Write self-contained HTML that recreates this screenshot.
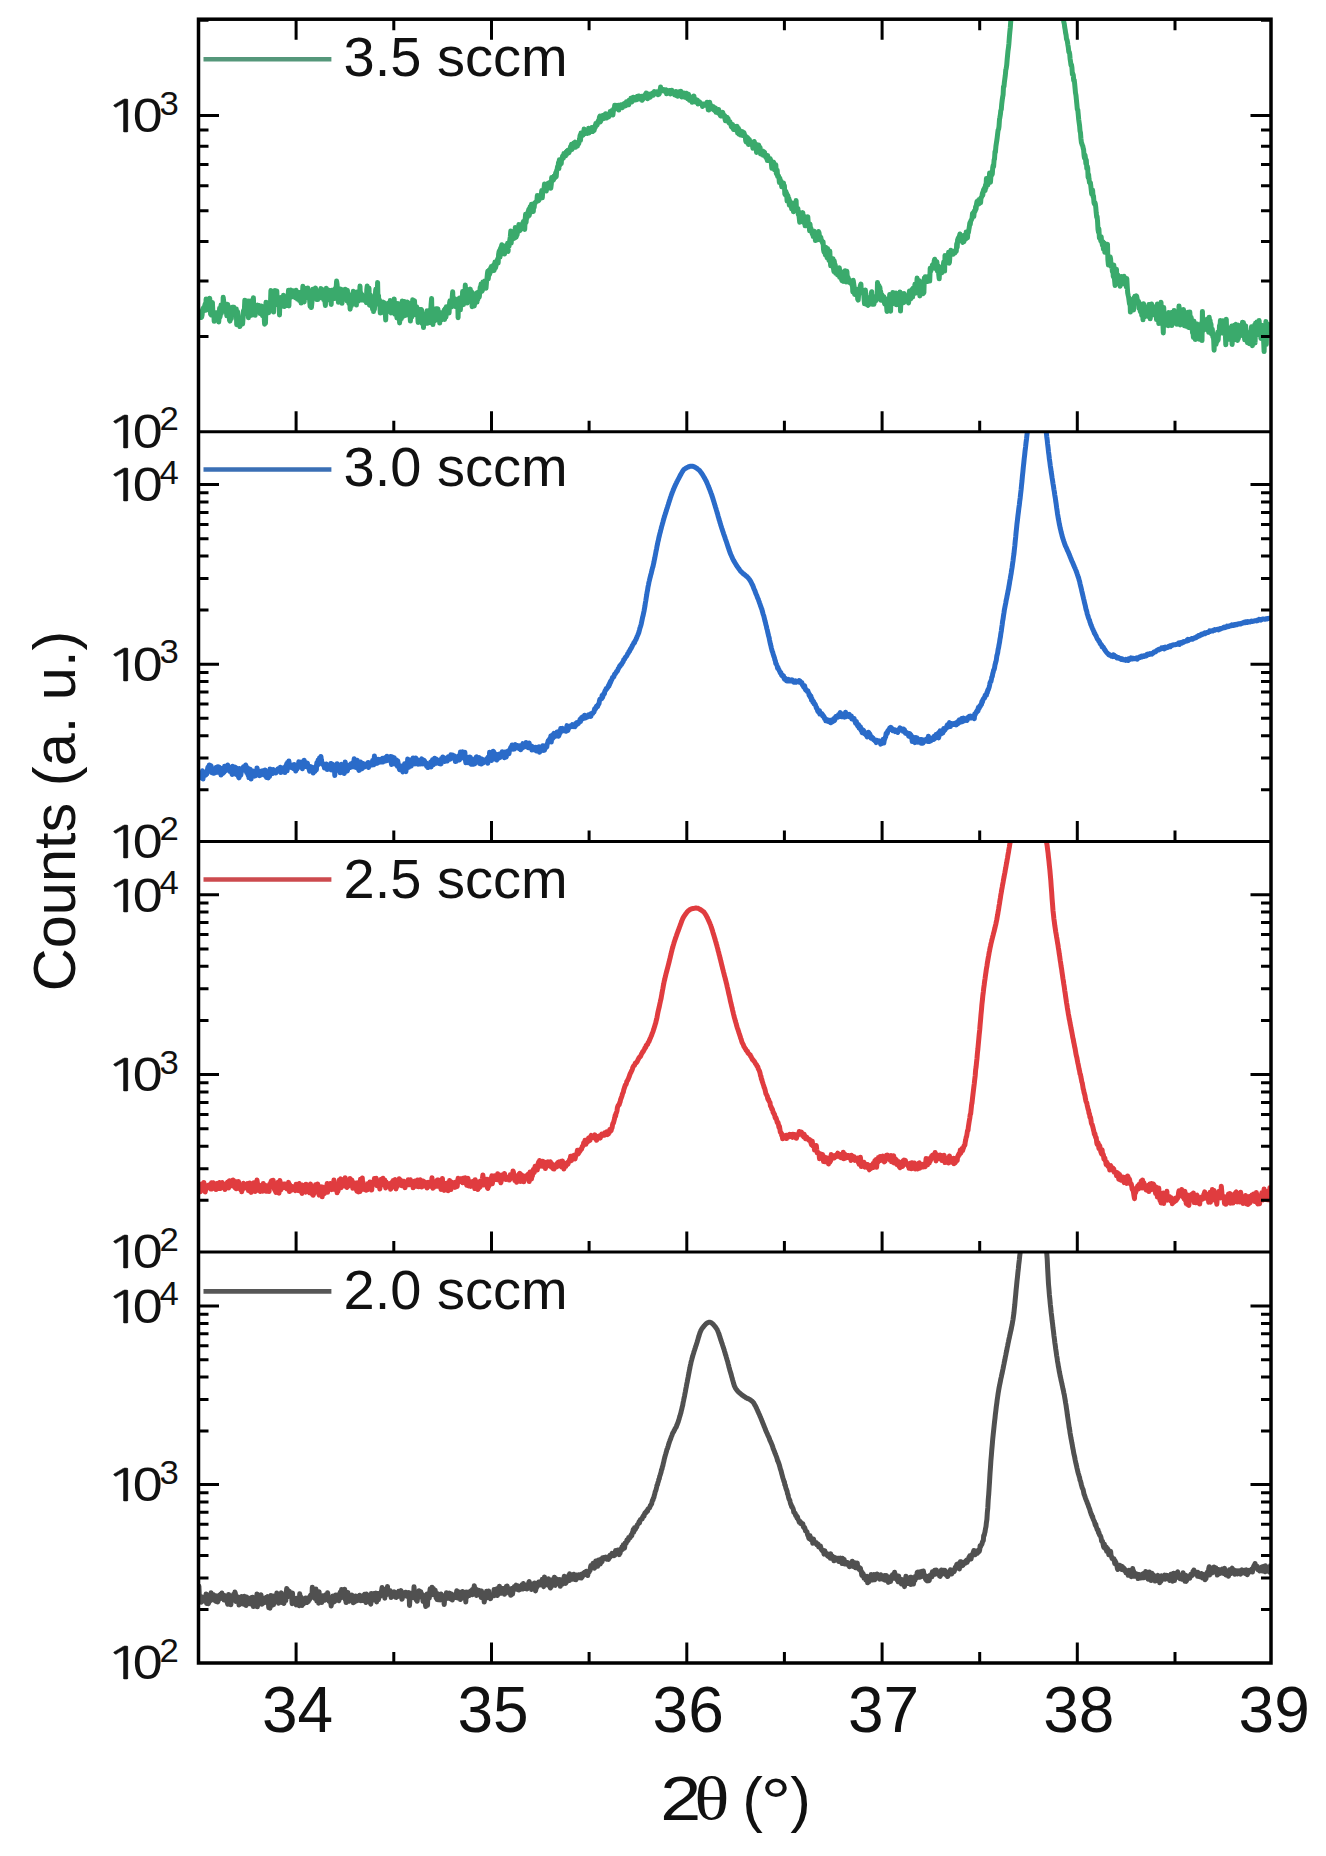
<!DOCTYPE html><html><head><meta charset="utf-8"><title>XRD</title>
<style>html,body{margin:0;padding:0;background:#fff;}svg{display:block;}text{font-family:"Liberation Sans",Arial,sans-serif;fill:#111;}</style></head><body>
<svg width="1326" height="1856" viewBox="0 0 1326 1856">
<rect width="1326" height="1856" fill="#fff"/>
<defs>
<clipPath id="c0"><rect x="198.5" y="19.2" width="1072.5" height="412.6"/></clipPath>
<clipPath id="c1"><rect x="198.5" y="431.8" width="1072.5" height="409.7"/></clipPath>
<clipPath id="c2"><rect x="198.5" y="841.5" width="1072.5" height="410.5"/></clipPath>
<clipPath id="c3"><rect x="198.5" y="1252.0" width="1072.5" height="411.0"/></clipPath>
</defs>
<path clip-path="url(#c0)" d="M198.5,313.3 198.9,314.7 199.4,313.4 199.8,317.4 200.3,313.7 200.7,314.6 201.2,317.5 201.6,317.1 202.1,315.0 202.5,310.3 203.0,308.6 203.4,308.0 203.9,309.8 204.3,310.6 204.8,305.4 205.2,303.9 205.7,310.3 206.1,299.1 206.6,306.8 207.0,309.3 207.5,301.9 207.9,301.0 208.4,302.6 208.8,309.7 209.3,306.2 209.7,298.2 210.2,306.1 210.6,314.1 211.1,314.8 211.5,313.7 212.0,310.0 212.4,302.4 212.9,312.8 213.3,311.5 213.8,313.3 214.2,321.3 214.7,315.2 215.1,316.3 215.6,318.4 216.0,314.5 216.5,312.8 216.9,312.6 217.4,320.3 217.8,319.0 218.3,314.0 218.7,321.9 219.2,316.6 219.6,308.2 220.1,316.9 220.5,312.1 221.0,305.1 221.4,313.3 221.9,308.2 222.3,307.3 222.8,311.6 223.2,297.3 223.7,301.6 224.1,305.7 224.6,309.2 225.0,305.1 225.5,304.1 225.9,304.8 226.4,310.6 226.8,315.8 227.3,306.4 227.7,304.4 228.2,314.3 228.6,314.5 229.1,312.3 229.5,320.1 230.0,321.1 230.4,314.0 230.9,314.8 231.3,318.8 231.8,313.0 232.2,307.2 232.7,312.7 233.1,307.2 233.6,312.2 234.0,307.2 234.5,308.5 234.9,312.4 235.4,310.2 235.8,309.1 236.3,309.1 236.7,324.7 237.2,323.3 237.6,311.7 238.1,315.1 238.5,324.2 239.0,319.0 239.4,322.4 239.9,326.6 240.3,322.9 240.8,320.9 241.2,318.1 241.7,318.6 242.1,319.2 242.6,324.1 243.0,318.8 243.5,310.7 243.9,314.8 244.4,309.4 244.8,300.2 245.3,306.2 245.7,311.1 246.2,302.8 246.6,310.4 247.1,304.4 247.5,306.4 248.0,300.9 248.4,317.8 248.9,310.2 249.3,313.3 249.8,306.1 250.2,300.9 250.7,314.0 251.1,303.9 251.6,315.2 252.0,305.6 252.5,314.4 252.9,302.6 253.4,297.8 253.8,310.7 254.3,307.7 254.7,309.0 255.2,315.3 255.6,306.9 256.1,306.0 256.5,307.5 257.0,305.6 257.4,305.2 257.9,307.6 258.3,308.5 258.8,310.2 259.2,305.5 259.7,309.8 260.1,313.5 260.6,308.5 261.0,311.9 261.5,306.1 261.9,313.2 262.4,315.6 262.8,311.7 263.3,308.7 263.7,316.2 264.2,317.5 264.6,324.2 265.1,314.6 265.5,323.2 266.0,302.2 266.4,310.5 266.9,307.9 267.3,306.8 267.8,304.6 268.2,305.7 268.7,312.7 269.1,303.3 269.6,308.9 270.0,302.2 270.5,302.7 270.9,290.6 271.4,302.0 271.8,304.4 272.3,296.3 272.7,298.9 273.2,298.0 273.6,312.1 274.1,297.9 274.5,299.5 275.0,290.5 275.4,296.1 275.9,304.6 276.3,297.8 276.8,290.9 277.2,302.2 277.7,303.6 278.1,304.0 278.6,304.0 279.0,299.3 279.5,315.0 279.9,299.7 280.4,304.8 280.8,297.6 281.3,301.3 281.7,297.8 282.2,306.2 282.6,303.5 283.1,300.4 283.5,295.2 284.0,306.1 284.4,306.4 284.9,305.5 285.3,300.4 285.8,303.2 286.2,303.7 286.7,301.5 287.1,305.4 287.6,297.7 288.0,298.8 288.5,290.2 288.9,305.9 289.4,292.0 289.8,296.2 290.3,297.0 290.7,290.1 291.2,293.5 291.6,297.0 292.1,293.6 292.5,292.8 293.0,292.8 293.4,290.9 293.9,293.1 294.3,295.2 294.8,295.1 295.2,297.7 295.7,292.8 296.1,290.3 296.6,296.8 297.0,295.3 297.5,299.1 297.9,296.4 298.4,298.7 298.8,298.6 299.3,300.4 299.7,292.5 300.2,295.9 300.6,296.7 301.1,303.1 301.5,294.7 302.0,297.0 302.4,294.3 302.9,286.2 303.3,301.5 303.8,299.3 304.2,302.0 304.7,290.3 305.1,297.4 305.6,296.6 306.0,288.4 306.5,297.2 306.9,292.3 307.4,297.4 307.8,288.1 308.3,292.3 308.7,293.9 309.2,291.3 309.6,299.5 310.1,306.2 310.5,300.9 311.0,304.1 311.4,307.6 311.9,302.7 312.3,297.5 312.8,289.3 313.2,298.2 313.7,294.1 314.1,292.8 314.6,297.8 315.0,297.0 315.5,287.9 315.9,296.4 316.4,294.2 316.8,299.6 317.3,295.7 317.7,299.6 318.2,291.9 318.6,292.3 319.1,290.9 319.5,291.9 320.0,291.3 320.4,297.7 320.9,288.4 321.3,294.0 321.8,289.4 322.2,289.4 322.7,294.4 323.1,291.4 323.6,299.6 324.0,296.0 324.5,297.0 324.9,301.1 325.4,305.5 325.8,295.5 326.3,288.3 326.7,294.4 327.2,295.4 327.6,299.9 328.1,294.2 328.5,290.1 329.0,297.9 329.4,298.5 329.9,292.7 330.3,294.6 330.8,294.8 331.2,304.5 331.7,290.2 332.1,290.8 332.6,291.8 333.0,295.0 333.5,290.0 333.9,293.1 334.4,294.2 334.8,298.4 335.3,288.6 335.7,287.7 336.2,287.6 336.6,281.1 337.1,284.4 337.5,290.7 338.0,291.2 338.4,302.3 338.9,296.6 339.3,294.7 339.8,298.0 340.2,288.9 340.7,289.6 341.1,289.3 341.6,292.5 342.0,303.3 342.5,293.2 342.9,292.0 343.4,295.3 343.8,298.9 344.3,297.3 344.7,298.7 345.2,289.2 345.6,290.4 346.1,293.1 346.5,294.7 347.0,300.9 347.4,290.2 347.9,300.1 348.3,297.9 348.8,303.3 349.2,299.2 349.7,297.1 350.1,309.2 350.6,305.2 351.0,294.8 351.5,305.6 351.9,296.7 352.4,299.3 352.8,298.4 353.3,291.2 353.7,301.2 354.2,293.3 354.6,302.6 355.1,297.5 355.5,297.8 356.0,297.1 356.4,305.1 356.9,292.1 357.3,293.3 357.8,293.6 358.2,301.2 358.7,300.0 359.1,294.8 359.6,295.0 360.0,286.0 360.5,300.1 360.9,293.0 361.4,295.4 361.8,294.6 362.3,300.1 362.7,297.2 363.2,299.5 363.6,299.8 364.1,297.3 364.5,296.6 365.0,300.6 365.4,299.7 365.9,300.3 366.3,302.6 366.8,289.5 367.2,286.1 367.7,292.3 368.1,300.1 368.6,294.9 369.0,288.1 369.5,305.3 369.9,302.2 370.4,295.1 370.8,300.0 371.3,305.7 371.7,303.8 372.2,306.2 372.6,309.1 373.1,306.2 373.5,311.6 374.0,303.1 374.4,309.5 374.9,298.6 375.3,294.6 375.8,289.3 376.2,294.3 376.7,298.4 377.1,302.4 377.6,282.4 378.0,298.8 378.5,295.4 378.9,304.3 379.4,299.8 379.8,304.8 380.3,313.1 380.7,306.3 381.2,306.0 381.6,312.3 382.1,309.8 382.5,308.1 383.0,301.9 383.4,308.3 383.9,302.5 384.3,311.7 384.8,313.7 385.2,311.5 385.7,320.0 386.1,305.6 386.6,312.6 387.0,310.2 387.5,303.4 387.9,310.4 388.4,310.8 388.8,311.1 389.3,303.9 389.7,307.1 390.2,300.6 390.6,311.0 391.1,312.9 391.5,305.6 392.0,306.6 392.4,300.8 392.9,306.3 393.3,304.4 393.8,307.1 394.2,298.9 394.7,314.2 395.1,306.6 395.6,311.3 396.0,309.1 396.5,306.2 396.9,318.0 397.4,315.2 397.8,303.5 398.3,311.3 398.7,310.8 399.2,308.3 399.6,322.9 400.1,306.3 400.5,319.6 401.0,303.7 401.4,318.7 401.9,309.4 402.3,300.9 402.8,313.1 403.2,313.9 403.7,306.7 404.1,315.9 404.6,301.4 405.0,314.3 405.5,310.4 405.9,315.2 406.4,303.5 406.8,309.2 407.3,301.9 407.7,309.4 408.2,307.6 408.6,311.8 409.1,303.1 409.5,313.6 410.0,314.4 410.4,321.1 410.9,312.5 411.3,313.4 411.8,317.1 412.2,315.8 412.7,299.7 413.1,310.0 413.6,314.9 414.0,308.4 414.5,300.7 414.9,308.3 415.4,310.3 415.8,306.2 416.3,312.0 416.7,306.7 417.2,311.7 417.6,313.5 418.1,322.4 418.5,315.6 419.0,320.6 419.4,315.7 419.9,309.5 420.3,310.0 420.8,320.6 421.2,309.4 421.7,310.2 422.1,323.4 422.6,315.2 423.0,313.6 423.5,327.6 423.9,314.4 424.4,321.2 424.8,317.2 425.3,317.3 425.7,316.3 426.2,320.8 426.6,323.1 427.1,310.8 427.5,323.3 428.0,314.4 428.4,314.6 428.9,318.8 429.3,312.4 429.8,310.2 430.2,322.6 430.7,311.9 431.1,304.2 431.6,298.5 432.0,317.2 432.5,315.0 432.9,324.6 433.4,309.6 433.8,309.0 434.3,314.8 434.7,320.7 435.2,320.3 435.6,312.7 436.1,308.7 436.5,312.2 437.0,319.0 437.4,310.7 437.9,308.9 438.3,313.6 438.8,312.6 439.2,312.6 439.7,323.1 440.1,316.7 440.6,314.6 441.0,312.9 441.5,313.8 441.9,318.1 442.4,319.4 442.8,312.7 443.3,313.0 443.7,313.9 444.2,310.0 444.6,319.4 445.1,308.8 445.5,313.3 446.0,316.9 446.4,306.7 446.9,306.9 447.3,310.0 447.8,312.5 448.2,310.1 448.7,308.4 449.1,313.0 449.6,302.7 450.0,300.8 450.5,306.0 450.9,302.6 451.4,306.0 451.8,306.6 452.3,296.2 452.7,291.8 453.2,304.9 453.6,302.4 454.1,304.1 454.5,298.4 455.0,306.4 455.4,301.3 455.9,305.0 456.3,306.9 456.8,303.5 457.2,303.2 457.7,301.1 458.1,317.7 458.6,298.9 459.0,308.7 459.5,297.9 459.9,300.3 460.4,309.8 460.8,298.6 461.3,305.7 461.7,297.9 462.2,302.9 462.6,291.6 463.1,292.6 463.5,304.4 464.0,299.2 464.4,293.0 464.9,295.6 465.3,285.1 465.8,296.2 466.2,291.3 466.7,292.4 467.1,303.1 467.6,293.1 468.0,292.2 468.5,289.7 468.9,297.7 469.4,297.4 469.8,291.8 470.3,289.1 470.7,296.9 471.2,299.8 471.6,291.7 472.1,306.7 472.5,298.4 473.0,303.3 473.4,299.4 473.9,299.1 474.3,306.0 474.8,301.6 475.2,293.8 475.7,301.2 476.1,302.5 476.6,297.5 477.0,302.1 477.5,292.5 477.9,299.4 478.4,295.0 478.8,293.3 479.3,297.0 479.7,292.8 480.2,287.3 480.6,289.8 481.1,284.0 481.5,288.3 482.0,291.2 482.4,290.4 482.9,282.0 483.3,283.7 483.8,287.1 484.2,286.6 484.7,280.9 485.1,284.4 485.6,284.5 486.0,288.3 486.5,282.0 486.9,279.4 487.4,273.9 487.8,271.2 488.3,278.7 488.7,273.7 489.2,270.1 489.6,274.4 490.1,271.4 490.5,268.3 491.0,271.1 491.4,266.5 491.9,270.9 492.3,269.7 492.8,266.5 493.2,266.5 493.7,264.8 494.1,270.5 494.6,266.0 495.0,261.9 495.5,267.8 495.9,266.2 496.4,263.7 496.8,263.6 497.3,260.6 497.7,258.8 498.2,262.9 498.6,254.4 499.1,251.5 499.5,250.7 500.0,257.1 500.4,248.6 500.9,249.9 501.3,247.0 501.8,244.8 502.2,247.1 502.7,246.7 503.1,253.8 503.6,245.7 504.0,247.9 504.5,254.1 504.9,252.0 505.4,249.2 505.8,250.1 506.3,246.7 506.7,249.4 507.2,247.2 507.6,243.2 508.1,251.4 508.5,245.2 509.0,246.6 509.4,242.4 509.9,239.4 510.3,236.8 510.8,231.0 511.2,243.0 511.7,234.6 512.1,237.9 512.6,239.0 513.0,233.7 513.5,236.3 513.9,238.6 514.4,236.1 514.8,238.1 515.3,227.4 515.7,236.9 516.2,237.0 516.6,229.3 517.1,235.0 517.5,230.4 518.0,229.9 518.4,231.5 518.9,224.5 519.3,230.9 519.8,225.9 520.2,230.2 520.7,227.5 521.1,228.5 521.6,225.1 522.0,227.2 522.5,223.5 522.9,224.3 523.4,221.5 523.8,224.5 524.3,220.8 524.7,229.4 525.2,219.0 525.6,214.2 526.1,222.3 526.5,216.9 527.0,218.0 527.4,215.6 527.9,212.1 528.3,211.6 528.8,209.4 529.2,215.5 529.7,212.7 530.1,206.8 530.6,212.4 531.0,210.8 531.5,204.2 531.9,205.8 532.4,208.4 532.8,207.5 533.3,211.6 533.7,205.6 534.2,207.4 534.6,202.9 535.1,203.1 535.5,202.5 536.0,201.6 536.4,201.5 536.9,200.6 537.3,195.6 537.8,201.1 538.2,196.0 538.7,200.5 539.1,199.5 539.6,199.0 540.0,195.2 540.5,196.7 540.9,197.0 541.4,193.3 541.8,190.4 542.3,197.7 542.7,192.4 543.2,191.3 543.6,189.5 544.1,188.2 544.5,183.9 545.0,186.7 545.4,185.6 545.9,185.1 546.3,190.9 546.8,185.4 547.2,184.4 547.7,185.3 548.1,183.2 548.6,187.9 549.0,187.6 549.5,182.6 549.9,186.1 550.4,184.8 550.8,188.3 551.3,184.3 551.7,177.5 552.2,178.9 552.6,180.7 553.1,179.4 553.5,180.0 554.0,176.1 554.4,176.1 554.9,177.8 555.3,174.9 555.8,172.6 556.2,176.7 556.7,170.3 557.1,169.7 557.6,166.5 558.0,167.8 558.5,162.6 558.9,168.5 559.4,159.7 559.8,165.2 560.3,160.7 560.7,162.3 561.2,163.7 561.6,159.6 562.1,159.5 562.5,156.2 563.0,155.9 563.4,158.1 563.9,153.4 564.3,156.1 564.8,154.4 565.2,153.1 565.7,155.8 566.1,152.1 566.6,154.5 567.0,151.1 567.5,152.8 567.9,150.2 568.4,152.2 568.8,152.7 569.3,151.8 569.7,149.7 570.2,148.5 570.6,146.4 571.1,145.9 571.5,144.3 572.0,149.6 572.4,145.2 572.9,144.8 573.3,145.0 573.8,143.0 574.2,147.3 574.7,143.3 575.1,142.2 575.6,147.3 576.0,146.1 576.5,145.1 576.9,142.8 577.4,146.1 577.8,143.0 578.3,143.0 578.7,143.9 579.2,141.3 579.6,139.2 580.1,135.2 580.5,140.2 581.0,133.1 581.4,134.9 581.9,134.0 582.3,134.0 582.8,133.8 583.2,135.1 583.7,133.5 584.1,129.0 584.6,133.8 585.0,131.6 585.5,132.8 585.9,131.0 586.4,132.7 586.8,132.0 587.3,133.4 587.7,132.3 588.2,132.8 588.6,128.3 589.1,133.0 589.5,129.6 590.0,131.2 590.4,131.5 590.9,131.5 591.3,129.8 591.8,127.5 592.2,130.9 592.7,131.4 593.1,130.8 593.6,130.3 594.0,130.6 594.5,128.9 594.9,126.1 595.4,127.3 595.8,123.6 596.3,124.6 596.7,124.1 597.2,125.0 597.6,122.0 598.1,121.5 598.5,120.4 599.0,121.5 599.4,117.4 599.9,116.1 600.3,122.0 600.8,121.0 601.2,119.8 601.7,119.0 602.1,117.2 602.6,115.5 603.0,118.3 603.5,115.5 603.9,118.5 604.4,117.2 604.8,114.4 605.3,117.0 605.7,113.8 606.2,115.4 606.6,118.0 607.1,115.3 607.5,115.8 608.0,115.0 608.4,114.9 608.9,116.8 609.3,115.6 609.8,115.2 610.2,111.6 610.7,113.1 611.1,111.9 611.6,112.8 612.0,110.6 612.5,113.0 612.9,115.0 613.4,110.4 613.8,108.6 614.3,109.8 614.7,105.3 615.2,106.2 615.6,107.6 616.1,105.4 616.5,105.7 617.0,107.9 617.4,106.4 617.9,107.2 618.3,105.2 618.8,110.1 619.2,106.6 619.7,107.9 620.1,107.3 620.6,106.9 621.0,104.9 621.5,106.0 621.9,106.2 622.4,107.6 622.8,105.4 623.3,104.1 623.7,104.6 624.2,104.3 624.6,103.7 625.1,104.0 625.5,105.9 626.0,103.6 626.4,101.8 626.9,102.9 627.3,103.3 627.8,102.6 628.2,103.8 628.7,104.7 629.1,100.2 629.6,100.9 630.0,101.3 630.5,102.2 630.9,98.2 631.4,101.6 631.8,101.9 632.3,101.1 632.7,99.5 633.2,97.2 633.6,98.2 634.1,98.0 634.5,99.0 635.0,100.0 635.4,99.4 635.9,97.2 636.3,99.5 636.8,99.6 637.2,96.4 637.7,96.2 638.1,96.8 638.6,97.8 639.0,96.0 639.5,99.1 639.9,97.8 640.4,98.8 640.8,96.9 641.3,96.5 641.7,98.2 642.2,100.3 642.6,98.4 643.1,98.9 643.5,96.2 644.0,95.7 644.4,96.2 644.9,96.8 645.3,95.7 645.8,93.7 646.2,93.0 646.7,95.4 647.1,94.8 647.6,98.8 648.0,94.4 648.5,94.1 648.9,96.6 649.4,95.3 649.8,95.8 650.3,97.1 650.7,94.1 651.2,94.6 651.6,93.9 652.1,93.5 652.5,93.1 653.0,93.2 653.4,95.2 653.9,92.9 654.3,91.6 654.8,92.7 655.2,91.9 655.7,93.0 656.1,92.8 656.6,91.9 657.0,92.5 657.5,93.7 657.9,94.6 658.4,92.6 658.8,94.3 659.3,93.7 659.7,90.2 660.2,91.0 660.6,87.1 661.1,89.7 661.5,90.6 662.0,89.6 662.4,90.7 662.9,90.0 663.3,90.8 663.8,89.6 664.2,90.8 664.7,90.4 665.1,90.7 665.6,91.8 666.0,89.8 666.5,93.7 666.9,91.7 667.4,92.5 667.8,92.1 668.3,92.0 668.7,90.8 669.2,91.9 669.6,90.4 670.1,90.4 670.5,94.0 671.0,91.8 671.4,91.3 671.9,90.3 672.3,91.8 672.8,92.0 673.2,93.1 673.7,92.4 674.1,93.1 674.6,94.8 675.0,94.1 675.5,95.1 675.9,91.6 676.4,93.6 676.8,95.7 677.3,94.4 677.7,96.3 678.2,93.9 678.6,95.9 679.1,91.7 679.5,93.2 680.0,94.4 680.4,92.6 680.9,91.4 681.3,95.5 681.8,97.0 682.2,95.2 682.7,93.3 683.1,95.4 683.6,93.9 684.0,93.1 684.5,97.0 684.9,97.2 685.4,96.7 685.8,94.9 686.3,93.2 686.7,97.7 687.2,96.9 687.6,98.6 688.1,95.1 688.5,94.2 689.0,99.1 689.4,100.3 689.9,99.9 690.3,99.6 690.8,99.1 691.2,100.0 691.7,98.2 692.1,102.2 692.6,101.5 693.0,96.6 693.5,101.0 693.9,95.9 694.4,99.9 694.8,99.1 695.3,102.0 695.7,100.3 696.2,100.1 696.6,102.6 697.1,100.0 697.5,100.3 698.0,103.9 698.4,102.8 698.9,102.6 699.3,101.8 699.8,102.7 700.2,102.6 700.7,103.9 701.1,104.0 701.6,103.8 702.0,104.1 702.5,106.5 702.9,105.3 703.4,104.9 703.8,104.1 704.3,104.6 704.7,104.1 705.2,104.6 705.6,105.2 706.1,104.0 706.5,104.3 707.0,102.2 707.4,104.5 707.9,106.7 708.3,109.9 708.8,110.0 709.2,106.5 709.7,102.3 710.1,107.1 710.6,107.2 711.0,108.8 711.5,105.6 711.9,106.6 712.4,107.0 712.8,108.0 713.3,106.6 713.7,109.7 714.2,108.6 714.6,110.5 715.1,110.8 715.5,108.0 716.0,112.3 716.4,110.5 716.9,111.2 717.3,111.6 717.8,111.2 718.2,113.1 718.7,109.5 719.1,112.7 719.6,114.0 720.0,114.5 720.5,115.7 720.9,115.9 721.4,115.9 721.8,114.2 722.3,113.5 722.7,112.4 723.2,114.6 723.6,116.1 724.1,115.9 724.5,115.4 725.0,118.8 725.4,120.8 725.9,117.7 726.3,120.6 726.8,119.6 727.2,117.4 727.7,119.5 728.1,118.7 728.6,122.2 729.0,122.8 729.5,122.3 729.9,121.7 730.4,123.7 730.8,124.3 731.3,126.5 731.7,127.1 732.2,127.2 732.6,124.5 733.1,128.3 733.5,129.4 734.0,127.4 734.4,126.7 734.9,129.7 735.3,126.6 735.8,127.9 736.2,128.5 736.7,127.6 737.1,126.4 737.6,133.0 738.0,129.8 738.5,128.4 738.9,134.2 739.4,131.8 739.8,134.3 740.3,134.9 740.7,130.9 741.2,134.0 741.6,134.3 742.1,131.6 742.5,131.7 743.0,135.6 743.4,134.4 743.9,132.7 744.3,133.8 744.8,135.9 745.2,135.4 745.7,140.8 746.1,142.0 746.6,140.2 747.0,138.3 747.5,137.5 747.9,138.8 748.4,144.4 748.8,143.1 749.3,139.5 749.7,140.9 750.2,144.1 750.6,142.0 751.1,142.4 751.5,144.4 752.0,145.3 752.4,144.0 752.9,148.2 753.3,144.5 753.8,144.0 754.2,141.4 754.7,143.2 755.1,145.5 755.6,145.8 756.0,144.1 756.5,152.4 756.9,148.7 757.4,148.6 757.8,148.1 758.3,148.3 758.7,145.1 759.2,149.4 759.6,147.7 760.1,147.6 760.5,153.9 761.0,151.5 761.4,152.7 761.9,152.3 762.3,152.1 762.8,151.1 763.2,155.3 763.7,152.2 764.1,152.0 764.6,152.3 765.0,155.8 765.5,156.5 765.9,157.4 766.4,156.3 766.8,156.9 767.3,160.5 767.7,155.5 768.2,160.4 768.6,160.1 769.1,159.4 769.5,159.3 770.0,158.6 770.4,159.3 770.9,160.6 771.3,162.8 771.8,168.2 772.2,162.8 772.7,164.2 773.1,163.9 773.6,162.2 774.0,163.7 774.5,169.7 774.9,167.3 775.4,164.9 775.8,164.8 776.3,173.6 776.7,171.2 777.2,170.3 777.6,176.4 778.1,175.5 778.5,175.8 779.0,178.3 779.4,182.6 779.9,178.2 780.3,182.9 780.8,182.1 781.2,181.3 781.7,186.8 782.1,183.0 782.6,184.9 783.0,184.1 783.5,183.0 783.9,187.9 784.4,185.7 784.8,193.8 785.3,194.8 785.7,191.2 786.2,192.6 786.6,193.4 787.1,201.1 787.5,195.0 788.0,196.2 788.4,197.5 788.9,198.5 789.3,205.2 789.8,201.1 790.2,203.0 790.7,202.5 791.1,202.9 791.6,208.8 792.0,208.7 792.5,205.9 792.9,203.3 793.4,211.7 793.8,206.5 794.3,204.3 794.7,205.0 795.2,207.7 795.6,209.8 796.1,200.6 796.5,209.6 797.0,209.0 797.4,211.3 797.9,208.4 798.3,214.7 798.8,211.8 799.2,217.6 799.7,222.2 800.1,217.5 800.6,218.8 801.0,219.3 801.5,214.2 801.9,220.7 802.4,215.3 802.8,212.6 803.3,220.0 803.7,222.5 804.2,218.5 804.6,216.5 805.1,225.8 805.5,217.5 806.0,225.8 806.4,222.2 806.9,220.1 807.3,224.7 807.8,216.8 808.2,222.5 808.7,225.2 809.1,225.6 809.6,230.7 810.0,224.1 810.5,229.6 810.9,228.1 811.4,231.7 811.8,231.2 812.3,234.2 812.7,230.9 813.2,236.4 813.6,232.7 814.1,231.2 814.5,234.4 815.0,235.4 815.4,240.5 815.9,232.6 816.3,236.7 816.8,232.8 817.2,239.8 817.7,239.4 818.1,238.4 818.6,231.6 819.0,232.6 819.5,236.0 819.9,238.0 820.4,240.0 820.8,237.2 821.3,240.6 821.7,240.3 822.2,241.3 822.6,243.1 823.1,241.8 823.5,249.6 824.0,252.0 824.4,250.2 824.9,247.4 825.3,254.8 825.8,247.3 826.2,255.5 826.7,255.8 827.1,257.7 827.6,248.4 828.0,256.7 828.5,254.7 828.9,260.2 829.4,258.8 829.8,251.0 830.3,261.3 830.7,265.7 831.2,260.9 831.6,262.1 832.1,260.2 832.5,262.0 833.0,258.7 833.4,267.8 833.9,271.4 834.3,261.1 834.8,266.8 835.2,264.6 835.7,273.3 836.1,269.0 836.6,272.2 837.0,269.1 837.5,274.9 837.9,274.4 838.4,273.5 838.8,275.0 839.3,267.7 839.7,277.3 840.2,270.5 840.6,272.8 841.1,275.9 841.5,279.3 842.0,280.7 842.4,278.9 842.9,279.2 843.3,281.4 843.8,275.2 844.2,278.5 844.7,275.3 845.1,270.7 845.6,272.7 846.0,282.0 846.5,275.2 846.9,271.3 847.4,279.0 847.8,277.0 848.3,278.2 848.7,279.4 849.2,282.4 849.6,282.3 850.1,280.9 850.5,282.4 851.0,281.2 851.4,283.2 851.9,285.1 852.3,282.4 852.8,291.9 853.2,280.3 853.7,283.7 854.1,286.4 854.6,294.4 855.0,294.4 855.5,293.0 855.9,289.0 856.4,295.1 856.8,293.5 857.3,292.5 857.7,299.1 858.2,300.1 858.6,294.5 859.1,289.9 859.5,293.5 860.0,287.8 860.4,285.5 860.9,284.0 861.3,291.2 861.8,291.4 862.2,289.9 862.7,291.6 863.1,293.2 863.6,290.5 864.0,297.6 864.5,303.7 864.9,296.2 865.4,290.1 865.8,298.0 866.3,299.7 866.7,302.1 867.2,304.7 867.6,303.9 868.1,305.4 868.5,300.5 869.0,302.5 869.4,297.5 869.9,298.3 870.3,303.9 870.8,299.2 871.2,293.6 871.7,291.7 872.1,304.3 872.6,299.9 873.0,299.6 873.5,298.8 873.9,304.3 874.4,301.7 874.8,300.0 875.3,298.5 875.7,297.4 876.2,300.5 876.6,295.4 877.1,298.8 877.5,282.5 878.0,286.7 878.4,293.0 878.9,285.4 879.3,287.8 879.8,287.2 880.2,289.9 880.7,291.6 881.1,300.3 881.6,297.1 882.0,294.8 882.5,297.9 882.9,299.4 883.4,298.2 883.8,296.6 884.3,302.4 884.7,304.0 885.2,298.4 885.6,301.4 886.1,304.4 886.5,304.8 887.0,311.4 887.4,303.2 887.9,301.6 888.3,307.1 888.8,300.1 889.2,303.0 889.7,294.5 890.1,303.8 890.6,311.2 891.0,298.0 891.5,297.9 891.9,302.0 892.4,304.0 892.8,292.6 893.3,299.1 893.7,300.9 894.2,300.5 894.6,301.4 895.1,298.8 895.5,297.8 896.0,293.1 896.4,304.8 896.9,296.7 897.3,301.3 897.8,295.8 898.2,296.8 898.7,296.1 899.1,300.1 899.6,298.4 900.0,292.1 900.5,311.1 900.9,300.8 901.4,297.0 901.8,293.5 902.3,296.6 902.7,299.1 903.2,296.1 903.6,302.7 904.1,293.6 904.5,300.8 905.0,301.5 905.4,296.1 905.9,296.0 906.3,297.1 906.8,301.2 907.2,298.8 907.7,298.2 908.1,300.2 908.6,303.0 909.0,294.4 909.5,290.9 909.9,294.3 910.4,293.7 910.8,298.9 911.3,296.9 911.7,293.5 912.2,289.3 912.6,297.1 913.1,288.2 913.5,291.7 914.0,290.8 914.4,291.6 914.9,284.3 915.3,293.2 915.8,290.5 916.2,285.0 916.7,285.2 917.1,278.1 917.6,286.8 918.0,287.6 918.5,281.5 918.9,285.1 919.4,280.8 919.8,295.9 920.3,283.7 920.7,287.0 921.2,289.1 921.6,285.8 922.1,288.7 922.5,290.2 923.0,293.7 923.4,289.2 923.9,292.6 924.3,278.1 924.8,278.7 925.2,276.7 925.7,280.7 926.1,278.6 926.6,278.8 927.0,280.7 927.5,281.4 927.9,276.6 928.4,279.9 928.8,278.5 929.3,276.8 929.7,281.1 930.2,268.2 930.6,271.6 931.1,269.9 931.5,268.7 932.0,267.2 932.4,264.9 932.9,264.5 933.3,268.1 933.8,267.6 934.2,261.0 934.7,259.2 935.1,264.2 935.6,260.7 936.0,268.5 936.5,269.3 936.9,261.8 937.4,271.2 937.8,269.1 938.3,265.9 938.7,274.2 939.2,278.8 939.6,270.5 940.1,272.1 940.5,267.5 941.0,272.8 941.4,269.4 941.9,272.7 942.3,269.2 942.8,270.2 943.2,266.3 943.7,262.0 944.1,267.4 944.6,271.1 945.0,255.4 945.5,263.8 945.9,258.4 946.4,256.3 946.8,261.5 947.3,259.8 947.7,260.3 948.2,260.6 948.6,252.2 949.1,263.2 949.5,261.9 950.0,254.2 950.4,255.3 950.9,250.3 951.3,254.4 951.8,253.3 952.2,253.4 952.7,251.6 953.1,254.2 953.6,252.5 954.0,251.4 954.5,252.6 954.9,252.9 955.4,252.1 955.8,249.8 956.3,251.2 956.7,243.8 957.2,247.3 957.6,240.0 958.1,238.7 958.5,237.5 959.0,240.8 959.4,236.0 959.9,234.0 960.3,238.7 960.8,235.2 961.2,237.3 961.7,238.4 962.1,239.2 962.6,242.5 963.0,239.0 963.5,235.4 963.9,241.7 964.4,236.6 964.8,235.0 965.3,236.6 965.7,239.2 966.2,232.0 966.6,232.7 967.1,236.8 967.5,237.7 968.0,231.5 968.4,232.6 968.9,229.4 969.3,227.3 969.8,223.0 970.2,224.7 970.7,221.2 971.1,220.3 971.6,219.5 972.0,218.4 972.5,213.5 972.9,213.0 973.4,215.0 973.8,216.4 974.3,211.1 974.7,212.0 975.2,211.0 975.6,206.8 976.1,209.0 976.5,204.2 977.0,201.5 977.4,202.7 977.9,204.4 978.3,200.5 978.8,204.1 979.2,199.6 979.7,202.2 980.1,199.7 980.6,202.8 981.0,197.8 981.5,197.4 981.9,196.3 982.4,193.0 982.8,195.2 983.3,190.8 983.7,189.4 984.2,189.2 984.6,187.8 985.1,190.5 985.5,184.9 986.0,187.9 986.4,178.6 986.9,184.2 987.3,181.4 987.8,185.1 988.2,177.9 988.7,179.6 989.1,179.1 989.6,172.9 990.0,176.9 990.5,182.2 990.9,175.4 991.4,175.7 991.8,172.4 992.3,174.1 992.7,167.8 993.2,165.3 993.6,166.6 994.1,159.9 994.5,159.1 995.0,151.4 995.4,152.3 995.9,146.4 996.3,143.7 996.8,140.5 997.2,137.6 997.7,133.3 998.1,130.0 998.6,129.2 999.0,126.7 999.5,119.3 999.9,117.4 1000.4,114.4 1000.8,110.6 1001.3,109.4 1001.7,104.2 1002.2,100.1 1002.6,97.3 1003.1,94.8 1003.5,86.7 1004.0,86.4 1004.4,82.0 1004.9,78.4 1005.3,75.4 1005.8,69.7 1006.2,68.4 1006.7,65.2 1007.1,60.3 1007.6,54.9 1008.0,50.8 1008.5,47.4 1008.9,43.4 1009.4,36.8 1009.8,32.2 1010.3,27.5 1010.7,21.9 1011.2,16.8 1011.6,14.1 1012.1,11.7 1012.5,6.3 1013.0,3.1 1013.4,-0.8 1013.9,-3.0 1014.3,-7.0 1014.8,-8.8 1015.2,-11.8 1015.7,-15.8 1016.1,-18.6 1016.6,-21.2 1017.0,-24.7 1017.5,-27.0 1017.9,-28.0 1018.4,-31.6 1018.8,-36.0 1019.3,-35.4 1019.7,-38.4 1020.2,-40.6 1020.6,-42.0 1021.1,-44.5 1021.5,-47.1 1022.0,-49.6 1022.4,-53.9 1022.9,-55.1 1023.3,-58.6 1023.8,-60.9 1024.2,-62.8 1024.7,-65.4 1025.1,-68.3 1025.6,-71.2 1026.0,-72.8 1026.5,-76.0 1026.9,-78.1 1027.4,-80.5 1027.8,-82.7 1028.3,-85.6 1028.7,-87.0 1029.2,-89.2 1029.6,-91.7 1030.1,-93.2 1030.5,-94.7 1031.0,-97.5 1031.4,-98.7 1031.9,-100.6 1032.3,-102.0 1032.8,-102.9 1033.2,-104.7 1033.7,-106.1 1034.1,-106.5 1034.6,-107.7 1035.0,-108.4 1035.5,-108.5 1035.9,-110.1 1036.4,-111.0 1036.8,-109.6 1037.3,-110.4 1037.7,-110.1 1038.2,-109.5 1038.6,-109.1 1039.1,-109.2 1039.5,-108.3 1040.0,-107.4 1040.4,-106.1 1040.9,-104.6 1041.3,-103.1 1041.8,-101.6 1042.2,-100.7 1042.7,-98.7 1043.1,-97.2 1043.6,-95.2 1044.0,-92.7 1044.5,-90.9 1044.9,-89.2 1045.4,-86.3 1045.8,-84.0 1046.3,-81.7 1046.7,-79.5 1047.2,-77.1 1047.6,-74.3 1048.1,-72.5 1048.5,-69.8 1049.0,-68.0 1049.4,-64.8 1049.9,-62.1 1050.3,-60.5 1050.8,-57.8 1051.2,-55.3 1051.7,-53.1 1052.1,-49.6 1052.6,-48.0 1053.0,-46.4 1053.5,-42.7 1053.9,-41.3 1054.4,-38.0 1054.8,-37.4 1055.3,-32.8 1055.7,-31.5 1056.2,-28.3 1056.6,-25.2 1057.1,-22.2 1057.5,-20.6 1058.0,-16.6 1058.4,-13.6 1058.9,-11.3 1059.3,-8.4 1059.8,-4.6 1060.2,-2.8 1060.7,1.1 1061.1,3.8 1061.6,6.7 1062.0,9.2 1062.5,11.7 1062.9,16.0 1063.4,19.0 1063.8,22.0 1064.3,24.0 1064.7,27.2 1065.2,29.9 1065.6,32.9 1066.1,35.1 1066.5,39.1 1067.0,39.9 1067.4,41.6 1067.9,45.1 1068.3,47.3 1068.8,52.1 1069.2,51.9 1069.7,54.0 1070.1,58.8 1070.6,62.2 1071.0,65.2 1071.5,64.8 1071.9,67.3 1072.4,74.2 1072.8,73.6 1073.3,75.3 1073.7,80.5 1074.2,79.9 1074.6,83.3 1075.1,88.5 1075.5,92.9 1076.0,95.5 1076.4,99.7 1076.9,104.7 1077.3,109.4 1077.8,109.8 1078.2,113.9 1078.7,119.5 1079.1,122.4 1079.6,125.9 1080.0,130.8 1080.5,132.9 1080.9,138.3 1081.4,142.5 1081.8,143.5 1082.3,145.2 1082.7,145.8 1083.2,148.3 1083.6,149.6 1084.1,155.7 1084.5,158.0 1085.0,155.0 1085.4,157.9 1085.9,163.7 1086.3,159.9 1086.8,168.7 1087.2,166.0 1087.7,168.2 1088.1,177.5 1088.6,174.4 1089.0,178.9 1089.5,182.6 1089.9,183.0 1090.4,182.8 1090.8,185.9 1091.3,190.6 1091.7,194.0 1092.2,193.8 1092.6,190.1 1093.1,196.9 1093.5,196.0 1094.0,202.7 1094.4,203.8 1094.9,202.5 1095.3,203.7 1095.8,207.6 1096.2,212.6 1096.7,217.2 1097.1,216.4 1097.6,222.0 1098.0,229.4 1098.5,232.3 1098.9,228.8 1099.4,237.9 1099.8,238.3 1100.3,237.6 1100.7,240.7 1101.2,236.7 1101.6,241.4 1102.1,243.5 1102.5,245.5 1103.0,241.7 1103.4,249.2 1103.9,246.2 1104.3,243.0 1104.8,252.3 1105.2,251.7 1105.7,247.5 1106.1,245.8 1106.6,250.0 1107.0,245.9 1107.5,244.4 1107.9,259.8 1108.4,265.0 1108.8,259.3 1109.3,259.8 1109.7,257.5 1110.2,257.0 1110.6,258.9 1111.1,266.6 1111.5,265.1 1112.0,266.7 1112.4,271.8 1112.9,269.7 1113.3,276.6 1113.8,264.9 1114.2,276.0 1114.7,281.5 1115.1,285.4 1115.6,281.4 1116.0,282.8 1116.5,269.3 1116.9,280.9 1117.4,279.2 1117.8,274.8 1118.3,279.4 1118.7,279.8 1119.2,278.6 1119.6,282.7 1120.1,286.2 1120.5,283.4 1121.0,283.0 1121.4,276.4 1121.9,281.5 1122.3,280.0 1122.8,280.7 1123.2,283.8 1123.7,280.2 1124.1,276.3 1124.6,283.8 1125.0,279.6 1125.5,282.7 1125.9,284.0 1126.4,287.1 1126.8,278.6 1127.3,287.4 1127.7,293.1 1128.2,295.5 1128.6,297.1 1129.1,300.8 1129.5,303.9 1130.0,300.0 1130.4,312.1 1130.9,305.7 1131.3,307.4 1131.8,305.8 1132.2,300.3 1132.7,299.5 1133.1,303.4 1133.6,310.0 1134.0,297.7 1134.5,302.7 1134.9,296.2 1135.4,301.2 1135.8,296.4 1136.3,295.8 1136.7,296.5 1137.2,299.0 1137.6,302.8 1138.1,302.2 1138.5,301.3 1139.0,308.1 1139.4,308.9 1139.9,307.1 1140.3,311.6 1140.8,308.7 1141.2,304.2 1141.7,315.3 1142.1,308.9 1142.6,308.5 1143.0,319.8 1143.5,303.7 1143.9,306.6 1144.4,307.4 1144.8,316.7 1145.3,315.5 1145.7,315.4 1146.2,309.0 1146.6,309.4 1147.1,307.3 1147.5,316.2 1148.0,307.6 1148.4,309.0 1148.9,304.4 1149.3,313.8 1149.8,310.0 1150.2,318.8 1150.7,314.0 1151.1,307.4 1151.6,304.0 1152.0,305.6 1152.5,313.1 1152.9,311.2 1153.4,311.6 1153.8,314.8 1154.3,307.1 1154.7,307.3 1155.2,311.3 1155.6,311.7 1156.1,306.7 1156.5,319.6 1157.0,310.8 1157.4,303.9 1157.9,312.8 1158.3,315.7 1158.8,323.6 1159.2,309.3 1159.7,312.6 1160.1,307.3 1160.6,308.7 1161.0,302.2 1161.5,312.8 1161.9,316.8 1162.4,308.3 1162.8,321.6 1163.3,332.9 1163.7,307.4 1164.2,318.0 1164.6,314.1 1165.1,316.1 1165.5,315.0 1166.0,325.1 1166.4,318.1 1166.9,318.2 1167.3,324.2 1167.8,315.8 1168.2,325.7 1168.7,312.6 1169.1,313.5 1169.6,319.4 1170.0,318.1 1170.5,319.5 1170.9,319.2 1171.4,312.4 1171.8,325.6 1172.3,321.0 1172.7,323.8 1173.2,319.6 1173.6,321.8 1174.1,310.5 1174.5,314.5 1175.0,314.3 1175.4,316.0 1175.9,321.9 1176.3,318.9 1176.8,324.2 1177.2,324.2 1177.7,315.3 1178.1,322.6 1178.6,319.2 1179.0,306.0 1179.5,314.2 1179.9,322.9 1180.4,324.9 1180.8,313.9 1181.3,311.6 1181.7,318.5 1182.2,316.3 1182.6,315.4 1183.1,319.2 1183.5,309.5 1184.0,322.7 1184.4,325.7 1184.9,320.0 1185.3,317.1 1185.8,323.8 1186.2,326.3 1186.7,321.8 1187.1,325.7 1187.6,318.0 1188.0,312.3 1188.5,327.5 1188.9,324.6 1189.4,325.4 1189.8,312.0 1190.3,320.5 1190.7,328.0 1191.2,317.3 1191.6,323.5 1192.1,320.3 1192.5,332.9 1193.0,331.6 1193.4,337.4 1193.9,320.9 1194.3,329.5 1194.8,325.8 1195.2,339.5 1195.7,330.0 1196.1,328.3 1196.6,326.9 1197.0,324.0 1197.5,324.3 1197.9,327.9 1198.4,332.7 1198.8,326.4 1199.3,339.3 1199.7,333.3 1200.2,331.7 1200.6,335.2 1201.1,330.1 1201.5,323.2 1202.0,340.6 1202.4,311.4 1202.9,327.3 1203.3,330.5 1203.8,328.1 1204.2,320.1 1204.7,323.5 1205.1,322.7 1205.6,324.5 1206.0,323.7 1206.5,329.5 1206.9,323.1 1207.4,319.1 1207.8,327.0 1208.3,327.4 1208.7,332.2 1209.2,317.2 1209.6,322.4 1210.1,320.4 1210.5,326.7 1211.0,324.0 1211.4,333.9 1211.9,330.7 1212.3,329.2 1212.8,336.9 1213.2,335.5 1213.7,340.2 1214.1,350.2 1214.6,335.4 1215.0,336.9 1215.5,334.7 1215.9,344.5 1216.4,342.7 1216.8,340.1 1217.3,341.2 1217.7,332.3 1218.2,339.8 1218.6,331.9 1219.1,334.6 1219.5,325.5 1220.0,327.2 1220.4,320.4 1220.9,326.8 1221.3,324.6 1221.8,321.9 1222.2,324.5 1222.7,321.6 1223.1,320.8 1223.6,333.4 1224.0,332.4 1224.5,333.2 1224.9,330.6 1225.4,334.7 1225.8,344.8 1226.3,319.3 1226.7,334.6 1227.2,336.8 1227.6,328.3 1228.1,330.8 1228.5,331.6 1229.0,339.2 1229.4,328.6 1229.9,330.1 1230.3,338.8 1230.8,333.2 1231.2,327.6 1231.7,326.2 1232.1,344.5 1232.6,335.9 1233.0,338.4 1233.5,333.9 1233.9,334.7 1234.4,325.2 1234.8,339.6 1235.3,324.8 1235.7,324.4 1236.2,325.8 1236.6,334.8 1237.1,329.1 1237.5,340.5 1238.0,324.9 1238.4,338.7 1238.9,331.3 1239.3,327.9 1239.8,332.0 1240.2,334.8 1240.7,328.1 1241.1,335.5 1241.6,331.0 1242.0,330.6 1242.5,322.2 1242.9,326.0 1243.4,322.4 1243.8,328.4 1244.3,335.6 1244.7,339.8 1245.2,326.7 1245.6,325.7 1246.1,338.8 1246.5,336.4 1247.0,332.2 1247.4,342.7 1247.9,334.0 1248.3,333.6 1248.8,335.3 1249.2,334.9 1249.7,343.8 1250.1,335.8 1250.6,338.4 1251.0,330.9 1251.5,326.8 1251.9,343.7 1252.4,345.6 1252.8,333.0 1253.3,328.6 1253.7,327.6 1254.2,331.9 1254.6,324.9 1255.1,342.9 1255.5,323.2 1256.0,334.8 1256.4,329.5 1256.9,322.0 1257.3,327.5 1257.8,334.4 1258.2,324.5 1258.7,330.9 1259.1,320.6 1259.6,326.1 1260.0,326.1 1260.5,327.3 1260.9,338.5 1261.4,325.3 1261.8,325.3 1262.3,328.0 1262.7,325.9 1263.2,332.9 1263.6,340.1 1264.1,351.6 1264.5,338.3 1265.0,329.0 1265.4,341.9 1265.9,321.4 1266.3,344.4 1266.8,325.7 1267.2,327.9 1267.7,326.3 1268.1,333.1 1268.6,324.6 1269.0,329.8 1269.5,329.9 1269.9,325.1 1270.4,327.8 1270.8,323.5" fill="none" stroke="#3aaa6c" stroke-width="5.0" stroke-linejoin="round"/>
<path clip-path="url(#c1)" d="M198.5,774.9 198.9,778.3 199.4,778.1 199.8,774.0 200.3,774.8 200.7,774.4 201.2,777.1 201.6,775.6 202.1,777.4 202.5,770.8 203.0,778.9 203.4,774.5 203.9,776.1 204.3,773.7 204.8,772.8 205.2,774.6 205.7,775.2 206.1,772.3 206.6,772.1 207.0,773.7 207.5,769.4 207.9,767.3 208.4,771.4 208.8,768.3 209.3,764.9 209.7,767.3 210.2,768.1 210.6,766.4 211.1,766.0 211.5,770.2 212.0,772.8 212.4,770.5 212.9,769.6 213.3,772.5 213.8,773.2 214.2,770.5 214.7,772.1 215.1,772.8 215.6,769.3 216.0,767.6 216.5,770.2 216.9,770.0 217.4,772.2 217.8,766.8 218.3,768.8 218.7,768.8 219.2,767.1 219.6,771.9 220.1,773.0 220.5,770.0 221.0,775.0 221.4,773.6 221.9,772.9 222.3,772.3 222.8,773.5 223.2,768.0 223.7,772.5 224.1,772.3 224.6,766.3 225.0,770.9 225.5,768.8 225.9,770.6 226.4,767.0 226.8,767.5 227.3,768.0 227.7,764.9 228.2,768.5 228.6,767.1 229.1,769.0 229.5,767.1 230.0,771.5 230.4,770.8 230.9,769.4 231.3,771.6 231.8,773.3 232.2,774.5 232.7,766.3 233.1,772.0 233.6,770.8 234.0,769.3 234.5,767.2 234.9,772.8 235.4,767.2 235.8,772.1 236.3,774.5 236.7,768.2 237.2,771.9 237.6,769.8 238.1,773.7 238.5,776.8 239.0,777.8 239.4,768.4 239.9,770.9 240.3,773.6 240.8,775.3 241.2,772.2 241.7,768.9 242.1,771.0 242.6,769.6 243.0,768.6 243.5,766.7 243.9,768.9 244.4,768.3 244.8,767.2 245.3,767.1 245.7,765.0 246.2,767.6 246.6,772.5 247.1,770.0 247.5,767.7 248.0,775.0 248.4,773.5 248.9,777.6 249.3,772.8 249.8,771.5 250.2,769.2 250.7,775.9 251.1,779.0 251.6,770.8 252.0,771.4 252.5,774.5 252.9,771.1 253.4,772.6 253.8,772.5 254.3,773.9 254.7,776.1 255.2,773.5 255.6,775.7 256.1,772.4 256.5,774.2 257.0,767.9 257.4,769.5 257.9,774.8 258.3,771.1 258.8,773.8 259.2,773.6 259.7,775.6 260.1,774.4 260.6,775.0 261.0,772.4 261.5,771.2 261.9,771.4 262.4,772.2 262.8,770.8 263.3,772.5 263.7,773.8 264.2,774.9 264.6,773.6 265.1,769.9 265.5,774.6 266.0,775.3 266.4,777.4 266.9,775.9 267.3,772.5 267.8,771.8 268.2,777.9 268.7,774.1 269.1,776.2 269.6,776.4 270.0,769.0 270.5,771.9 270.9,772.4 271.4,773.0 271.8,773.5 272.3,773.1 272.7,773.4 273.2,769.5 273.6,772.7 274.1,771.0 274.5,772.7 275.0,770.8 275.4,773.0 275.9,773.0 276.3,771.4 276.8,771.1 277.2,770.4 277.7,769.0 278.1,769.6 278.6,768.7 279.0,770.9 279.5,770.0 279.9,771.5 280.4,767.2 280.8,772.6 281.3,768.8 281.7,769.0 282.2,770.3 282.6,769.4 283.1,771.3 283.5,769.0 284.0,767.7 284.4,767.9 284.9,772.6 285.3,769.2 285.8,765.9 286.2,768.0 286.7,763.7 287.1,770.8 287.6,762.4 288.0,766.4 288.5,766.0 288.9,761.1 289.4,764.9 289.8,766.6 290.3,765.6 290.7,765.4 291.2,767.4 291.6,766.0 292.1,766.8 292.5,766.1 293.0,768.1 293.4,764.7 293.9,768.8 294.3,765.9 294.8,764.7 295.2,768.1 295.7,771.1 296.1,769.6 296.6,766.3 297.0,769.0 297.5,766.3 297.9,767.0 298.4,767.3 298.8,761.7 299.3,767.1 299.7,764.1 300.2,764.5 300.6,762.5 301.1,762.1 301.5,763.2 302.0,767.0 302.4,768.7 302.9,764.8 303.3,767.2 303.8,764.0 304.2,760.2 304.7,764.8 305.1,765.5 305.6,763.7 306.0,765.7 306.5,766.7 306.9,764.0 307.4,763.1 307.8,766.3 308.3,766.6 308.7,766.5 309.2,769.5 309.6,771.2 310.1,766.5 310.5,769.0 311.0,769.7 311.4,769.3 311.9,770.2 312.3,767.2 312.8,769.9 313.2,773.0 313.7,770.5 314.1,767.5 314.6,770.1 315.0,771.3 315.5,768.9 315.9,766.2 316.4,769.9 316.8,762.8 317.3,765.6 317.7,763.4 318.2,759.9 318.6,764.4 319.1,761.8 319.5,758.1 320.0,761.7 320.4,759.4 320.9,756.4 321.3,759.5 321.8,762.1 322.2,763.6 322.7,763.3 323.1,763.8 323.6,765.5 324.0,764.6 324.5,768.1 324.9,766.2 325.4,766.7 325.8,767.3 326.3,763.9 326.7,764.7 327.2,769.5 327.6,767.0 328.1,765.7 328.5,767.1 329.0,765.4 329.4,767.2 329.9,765.2 330.3,767.4 330.8,763.5 331.2,769.9 331.7,766.1 332.1,763.9 332.6,767.0 333.0,766.7 333.5,767.9 333.9,765.2 334.4,768.5 334.8,775.5 335.3,764.9 335.7,768.4 336.2,767.0 336.6,768.1 337.1,763.7 337.5,765.1 338.0,768.5 338.4,767.2 338.9,770.6 339.3,765.3 339.8,767.0 340.2,772.8 340.7,764.8 341.1,764.5 341.6,766.4 342.0,766.6 342.5,768.7 342.9,767.4 343.4,765.7 343.8,768.1 344.3,773.5 344.7,770.7 345.2,762.0 345.6,767.7 346.1,765.9 346.5,768.9 347.0,766.8 347.4,770.9 347.9,768.3 348.3,767.8 348.8,765.9 349.2,765.1 349.7,765.6 350.1,767.5 350.6,765.7 351.0,763.7 351.5,767.1 351.9,764.8 352.4,764.2 352.8,762.7 353.3,763.3 353.7,763.3 354.2,758.7 354.6,767.1 355.1,766.2 355.5,764.7 356.0,767.5 356.4,766.3 356.9,766.3 357.3,760.3 357.8,765.3 358.2,767.2 358.7,769.7 359.1,770.4 359.6,769.6 360.0,764.1 360.5,762.0 360.9,768.1 361.4,766.9 361.8,768.9 362.3,766.5 362.7,767.2 363.2,763.4 363.6,767.4 364.1,765.3 364.5,766.8 365.0,766.7 365.4,765.2 365.9,765.7 366.3,764.6 366.8,765.9 367.2,765.0 367.7,762.7 368.1,762.5 368.6,767.5 369.0,763.8 369.5,766.2 369.9,765.1 370.4,763.2 370.8,762.8 371.3,764.5 371.7,764.6 372.2,764.9 372.6,760.5 373.1,761.3 373.5,761.8 374.0,764.7 374.4,756.0 374.9,761.4 375.3,759.1 375.8,761.0 376.2,759.0 376.7,760.8 377.1,763.4 377.6,761.1 378.0,761.4 378.5,761.5 378.9,759.4 379.4,762.2 379.8,760.7 380.3,759.5 380.7,760.9 381.2,760.3 381.6,761.9 382.1,759.9 382.5,758.4 383.0,762.1 383.4,760.8 383.9,761.1 384.3,759.6 384.8,758.1 385.2,757.6 385.7,758.1 386.1,760.9 386.6,759.3 387.0,756.2 387.5,759.4 387.9,756.6 388.4,760.1 388.8,757.3 389.3,757.3 389.7,760.3 390.2,759.9 390.6,756.5 391.1,761.6 391.5,764.5 392.0,756.7 392.4,763.8 392.9,758.5 393.3,759.1 393.8,760.1 394.2,757.7 394.7,764.1 395.1,762.9 395.6,760.7 396.0,762.2 396.5,760.0 396.9,763.0 397.4,766.3 397.8,761.0 398.3,764.3 398.7,766.0 399.2,768.5 399.6,769.6 400.1,766.1 400.5,765.8 401.0,768.7 401.4,767.2 401.9,767.4 402.3,770.5 402.8,771.8 403.2,768.7 403.7,767.7 404.1,769.2 404.6,763.7 405.0,767.4 405.5,764.8 405.9,771.7 406.4,767.5 406.8,765.7 407.3,764.5 407.7,759.0 408.2,765.6 408.6,767.4 409.1,762.2 409.5,765.1 410.0,765.1 410.4,760.1 410.9,765.2 411.3,765.8 411.8,762.9 412.2,761.9 412.7,763.3 413.1,758.1 413.6,761.5 414.0,763.6 414.5,758.9 414.9,763.9 415.4,761.2 415.8,757.9 416.3,762.1 416.7,760.3 417.2,763.0 417.6,759.7 418.1,764.3 418.5,760.4 419.0,762.6 419.4,760.5 419.9,760.9 420.3,764.0 420.8,761.9 421.2,760.6 421.7,758.8 422.1,763.9 422.6,763.1 423.0,761.1 423.5,762.6 423.9,760.3 424.4,760.7 424.8,761.5 425.3,764.4 425.7,764.7 426.2,762.8 426.6,766.3 427.1,766.6 427.5,765.6 428.0,767.5 428.4,764.9 428.9,765.2 429.3,766.3 429.8,765.1 430.2,766.5 430.7,761.9 431.1,767.0 431.6,762.0 432.0,762.8 432.5,759.9 432.9,763.6 433.4,764.7 433.8,764.0 434.3,763.3 434.7,758.2 435.2,759.6 435.6,760.1 436.1,759.1 436.5,763.3 437.0,761.6 437.4,761.4 437.9,762.9 438.3,760.3 438.8,760.7 439.2,761.0 439.7,763.8 440.1,763.3 440.6,763.4 441.0,763.9 441.5,758.4 441.9,759.4 442.4,760.3 442.8,756.9 443.3,758.4 443.7,761.3 444.2,761.4 444.6,761.4 445.1,759.2 445.5,758.6 446.0,761.1 446.4,758.0 446.9,759.2 447.3,761.0 447.8,757.4 448.2,756.8 448.7,757.9 449.1,759.1 449.6,758.8 450.0,758.2 450.5,759.0 450.9,754.7 451.4,756.2 451.8,758.2 452.3,756.0 452.7,755.1 453.2,755.3 453.6,755.9 454.1,757.4 454.5,755.9 455.0,758.5 455.4,761.6 455.9,758.2 456.3,761.2 456.8,759.5 457.2,756.8 457.7,758.5 458.1,756.9 458.6,759.9 459.0,755.7 459.5,759.9 459.9,757.7 460.4,752.1 460.8,757.0 461.3,758.2 461.7,753.5 462.2,757.0 462.6,751.8 463.1,756.1 463.5,752.8 464.0,757.4 464.4,753.5 464.9,752.3 465.3,758.7 465.8,762.8 466.2,757.6 466.7,760.7 467.1,759.5 467.6,758.8 468.0,760.7 468.5,762.8 468.9,757.2 469.4,760.8 469.8,760.5 470.3,757.1 470.7,763.3 471.2,764.2 471.6,758.7 472.1,764.3 472.5,761.1 473.0,760.9 473.4,764.2 473.9,761.6 474.3,761.6 474.8,763.7 475.2,763.0 475.7,762.0 476.1,757.2 476.6,756.8 477.0,762.1 477.5,758.0 477.9,760.2 478.4,757.8 478.8,759.7 479.3,757.6 479.7,763.6 480.2,758.6 480.6,760.8 481.1,761.0 481.5,764.1 482.0,759.1 482.4,761.9 482.9,761.5 483.3,762.9 483.8,762.5 484.2,760.4 484.7,761.6 485.1,760.2 485.6,761.7 486.0,760.3 486.5,758.9 486.9,759.7 487.4,760.0 487.8,763.2 488.3,757.0 488.7,758.0 489.2,759.8 489.6,752.2 490.1,752.6 490.5,753.5 491.0,755.5 491.4,760.6 491.9,756.5 492.3,758.3 492.8,755.5 493.2,751.2 493.7,751.7 494.1,758.5 494.6,757.0 495.0,754.2 495.5,759.2 495.9,754.0 496.4,759.3 496.8,760.0 497.3,755.6 497.7,754.8 498.2,758.4 498.6,754.5 499.1,758.1 499.5,753.9 500.0,757.6 500.4,756.1 500.9,754.9 501.3,753.9 501.8,756.0 502.2,751.8 502.7,754.7 503.1,754.3 503.6,756.2 504.0,752.3 504.5,757.7 504.9,753.7 505.4,752.0 505.8,756.6 506.3,756.8 506.7,753.1 507.2,751.6 507.6,752.8 508.1,751.1 508.5,751.2 509.0,753.7 509.4,750.8 509.9,749.5 510.3,748.9 510.8,747.4 511.2,748.1 511.7,747.5 512.1,745.0 512.6,745.6 513.0,749.3 513.5,746.1 513.9,745.3 514.4,749.1 514.8,746.0 515.3,744.5 515.7,747.5 516.2,745.2 516.6,746.0 517.1,747.4 517.5,746.7 518.0,745.7 518.4,746.1 518.9,746.0 519.3,748.8 519.8,745.7 520.2,745.8 520.7,749.8 521.1,745.5 521.6,748.6 522.0,748.2 522.5,745.7 522.9,743.6 523.4,746.4 523.8,746.6 524.3,746.8 524.7,745.1 525.2,746.6 525.6,746.6 526.1,742.5 526.5,746.3 527.0,744.3 527.4,743.2 527.9,743.9 528.3,747.8 528.8,746.9 529.2,743.0 529.7,746.6 530.1,746.8 530.6,747.3 531.0,747.3 531.5,746.1 531.9,750.1 532.4,747.3 532.8,748.2 533.3,747.8 533.7,747.4 534.2,749.7 534.6,749.1 535.1,747.5 535.5,747.3 536.0,748.4 536.4,751.1 536.9,750.0 537.3,750.5 537.8,749.7 538.2,749.8 538.7,750.5 539.1,746.8 539.6,752.3 540.0,748.0 540.5,748.1 540.9,751.0 541.4,749.0 541.8,748.6 542.3,747.5 542.7,745.8 543.2,748.7 543.6,750.4 544.1,746.7 544.5,750.3 545.0,745.8 545.4,746.1 545.9,747.7 546.3,746.3 546.8,746.9 547.2,744.0 547.7,742.9 548.1,740.9 548.6,741.2 549.0,740.6 549.5,739.2 549.9,741.0 550.4,738.7 550.8,736.0 551.3,742.0 551.7,736.4 552.2,735.2 552.6,738.4 553.1,737.9 553.5,734.2 554.0,733.4 554.4,733.8 554.9,736.5 555.3,734.3 555.8,733.3 556.2,734.2 556.7,735.7 557.1,732.0 557.6,733.2 558.0,731.7 558.5,736.2 558.9,735.5 559.4,734.0 559.8,732.2 560.3,732.7 560.7,728.6 561.2,731.2 561.6,728.6 562.1,728.3 562.5,728.9 563.0,729.2 563.4,730.5 563.9,730.7 564.3,730.3 564.8,728.9 565.2,731.0 565.7,729.9 566.1,731.3 566.6,728.3 567.0,725.6 567.5,727.9 567.9,730.6 568.4,728.0 568.8,726.8 569.3,727.8 569.7,727.1 570.2,726.9 570.6,725.7 571.1,726.4 571.5,726.5 572.0,725.4 572.4,724.7 572.9,725.9 573.3,726.6 573.8,725.8 574.2,725.2 574.7,724.8 575.1,726.7 575.6,723.6 576.0,724.1 576.5,724.8 576.9,722.4 577.4,722.4 577.8,723.1 578.3,723.6 578.7,721.8 579.2,721.6 579.6,721.0 580.1,719.3 580.5,721.6 581.0,719.8 581.4,717.9 581.9,719.2 582.3,717.1 582.8,717.4 583.2,718.1 583.7,716.6 584.1,718.3 584.6,715.3 585.0,716.9 585.5,717.0 585.9,717.8 586.4,717.1 586.8,716.3 587.3,716.0 587.7,715.7 588.2,716.7 588.6,714.8 589.1,715.8 589.5,715.0 590.0,715.1 590.4,714.4 590.9,716.4 591.3,713.5 591.8,714.0 592.2,713.6 592.7,713.4 593.1,712.7 593.6,712.1 594.0,712.0 594.5,709.1 594.9,709.8 595.4,708.0 595.8,708.5 596.3,706.6 596.7,706.0 597.2,706.0 597.6,706.5 598.1,705.0 598.5,703.9 599.0,703.9 599.4,701.1 599.9,699.2 600.3,699.6 600.8,698.8 601.2,699.0 601.7,698.8 602.1,695.4 602.6,697.3 603.0,695.8 603.5,694.4 603.9,693.2 604.4,693.8 604.8,691.5 605.3,690.4 605.7,690.2 606.2,688.6 606.6,689.2 607.1,688.2 607.5,687.8 608.0,687.2 608.4,685.6 608.9,686.2 609.3,683.9 609.8,684.2 610.2,681.8 610.7,682.1 611.1,680.5 611.6,680.1 612.0,679.0 612.5,677.4 612.9,677.2 613.4,677.2 613.8,676.8 614.3,675.0 614.7,673.9 615.2,673.9 615.6,673.4 616.1,672.5 616.5,671.6 617.0,671.6 617.4,670.9 617.9,670.0 618.3,668.4 618.8,668.1 619.2,667.2 619.7,665.9 620.1,666.3 620.6,665.2 621.0,664.3 621.5,664.4 621.9,663.5 622.4,662.8 622.8,662.2 623.3,661.3 623.7,659.8 624.2,659.4 624.6,659.2 625.1,657.7 625.5,657.3 626.0,656.7 626.4,656.3 626.9,655.6 627.3,654.7 627.8,653.6 628.2,653.2 628.7,652.3 629.1,651.3 629.6,651.1 630.0,650.0 630.5,648.9 630.9,648.8 631.4,647.5 631.8,647.1 632.3,645.6 632.7,645.3 633.2,644.2 633.6,643.4 634.1,642.3 634.5,642.7 635.0,641.1 635.4,640.3 635.9,639.7 636.3,638.4 636.8,637.6 637.2,636.1 637.7,635.4 638.1,634.2 638.6,633.2 639.0,631.8 639.5,629.9 639.9,628.2 640.4,626.8 640.8,625.5 641.3,623.6 641.7,621.8 642.2,619.3 642.6,617.2 643.1,615.6 643.5,613.6 644.0,611.3 644.4,609.0 644.9,606.3 645.3,603.4 645.8,600.6 646.2,597.9 646.7,595.0 647.1,592.2 647.6,589.9 648.0,587.0 648.5,584.7 648.9,582.5 649.4,580.5 649.8,578.7 650.3,576.9 650.7,575.0 651.2,573.4 651.6,571.6 652.1,569.7 652.5,567.8 653.0,566.5 653.4,564.5 653.9,562.4 654.3,560.1 654.8,557.9 655.2,555.8 655.7,553.1 656.1,550.9 656.6,548.7 657.0,546.3 657.5,544.1 657.9,541.9 658.4,540.1 658.8,537.9 659.3,536.0 659.7,534.2 660.2,532.4 660.6,530.6 661.1,528.9 661.5,527.1 662.0,525.4 662.4,523.8 662.9,522.2 663.3,520.6 663.8,519.0 664.2,517.4 664.7,515.9 665.1,514.5 665.6,513.1 666.0,511.6 666.5,510.1 666.9,508.7 667.4,507.3 667.8,505.9 668.3,504.5 668.7,503.0 669.2,501.6 669.6,500.2 670.1,498.8 670.5,497.4 671.0,496.1 671.4,494.8 671.9,493.5 672.3,492.4 672.8,491.2 673.2,490.1 673.7,489.0 674.1,487.9 674.6,486.9 675.0,485.9 675.5,484.9 675.9,483.9 676.4,483.0 676.8,482.0 677.3,481.1 677.7,480.3 678.2,479.4 678.6,478.6 679.1,477.7 679.5,476.9 680.0,476.0 680.4,475.2 680.9,474.3 681.3,473.5 681.8,472.7 682.2,471.9 682.7,471.2 683.1,470.5 683.6,469.9 684.0,469.4 684.5,469.0 684.9,468.7 685.4,468.5 685.8,468.2 686.3,467.9 686.7,467.7 687.2,467.4 687.6,467.2 688.1,467.0 688.5,466.8 689.0,466.7 689.4,466.5 689.9,466.4 690.3,466.3 690.8,466.3 691.2,466.2 691.7,466.2 692.1,466.2 692.6,466.3 693.0,466.4 693.5,466.5 693.9,466.7 694.4,466.9 694.8,467.1 695.3,467.4 695.7,467.6 696.2,467.9 696.6,468.2 697.1,468.5 697.5,468.9 698.0,469.3 698.4,469.6 698.9,469.9 699.3,470.3 699.8,470.8 700.2,471.4 700.7,471.9 701.1,472.5 701.6,473.2 702.0,473.9 702.5,474.6 702.9,475.3 703.4,476.1 703.8,476.8 704.3,477.6 704.7,478.4 705.2,479.2 705.6,480.1 706.1,480.9 706.5,481.9 707.0,482.9 707.4,484.0 707.9,485.0 708.3,486.1 708.8,487.2 709.2,488.4 709.7,489.5 710.1,490.6 710.6,491.9 711.0,493.1 711.5,494.3 711.9,495.7 712.4,497.0 712.8,498.4 713.3,499.8 713.7,501.3 714.2,502.8 714.6,504.3 715.1,505.8 715.5,507.2 716.0,508.7 716.4,510.2 716.9,511.7 717.3,513.3 717.8,514.8 718.2,516.4 718.7,518.0 719.1,519.6 719.6,521.0 720.0,522.6 720.5,524.0 720.9,525.5 721.4,527.0 721.8,528.3 722.3,529.7 722.7,531.1 723.2,532.4 723.6,533.8 724.1,535.1 724.5,536.3 725.0,537.7 725.4,539.0 725.9,540.4 726.3,541.5 726.8,543.0 727.2,544.2 727.7,545.7 728.1,547.0 728.6,548.3 729.0,549.7 729.5,551.0 729.9,552.3 730.4,553.5 730.8,554.5 731.3,555.5 731.7,556.4 732.2,557.5 732.6,558.6 733.1,559.5 733.5,560.3 734.0,561.1 734.4,561.9 734.9,562.7 735.3,563.5 735.8,564.1 736.2,565.0 736.7,565.5 737.1,566.3 737.6,566.9 738.0,567.6 738.5,568.2 738.9,568.8 739.4,569.5 739.8,570.0 740.3,570.9 740.7,571.2 741.2,571.7 741.6,572.2 742.1,572.6 742.5,572.9 743.0,573.5 743.4,573.9 743.9,574.0 744.3,574.5 744.8,574.7 745.2,575.2 745.7,575.6 746.1,576.0 746.6,576.3 747.0,576.6 747.5,577.2 747.9,577.5 748.4,578.1 748.8,578.7 749.3,579.2 749.7,579.8 750.2,580.7 750.6,581.3 751.1,582.2 751.5,583.0 752.0,584.2 752.4,585.0 752.9,585.7 753.3,587.1 753.8,588.4 754.2,589.4 754.7,590.2 755.1,591.5 755.6,592.7 756.0,593.9 756.5,594.9 756.9,595.9 757.4,597.3 757.8,598.4 758.3,599.3 758.7,600.6 759.2,601.9 759.6,603.1 760.1,604.4 760.5,605.8 761.0,607.0 761.4,608.3 761.9,609.4 762.3,611.2 762.8,612.8 763.2,614.4 763.7,615.6 764.1,617.3 764.6,619.3 765.0,621.1 765.5,622.7 765.9,624.7 766.4,626.2 766.8,628.5 767.3,630.0 767.7,632.1 768.2,634.1 768.6,635.9 769.1,637.5 769.5,639.8 770.0,642.2 770.4,644.0 770.9,645.8 771.3,647.8 771.8,649.6 772.2,651.3 772.7,652.2 773.1,654.0 773.6,655.4 774.0,656.7 774.5,657.9 774.9,659.9 775.4,661.0 775.8,663.5 776.3,663.8 776.7,665.0 777.2,666.0 777.6,668.2 778.1,667.9 778.5,669.2 779.0,669.8 779.4,670.9 779.9,671.7 780.3,673.0 780.8,672.5 781.2,673.9 781.7,675.4 782.1,675.0 782.6,675.9 783.0,676.2 783.5,675.9 783.9,677.9 784.4,679.1 784.8,678.8 785.3,678.4 785.7,680.0 786.2,680.2 786.6,680.9 787.1,681.0 787.5,680.4 788.0,680.7 788.4,679.4 788.9,681.0 789.3,680.5 789.8,681.0 790.2,681.1 790.7,680.4 791.1,680.6 791.6,680.3 792.0,679.8 792.5,681.1 792.9,681.4 793.4,680.9 793.8,682.1 794.3,681.8 794.7,682.1 795.2,681.4 795.6,680.8 796.1,682.3 796.5,682.1 797.0,681.7 797.4,681.5 797.9,681.5 798.3,681.6 798.8,681.3 799.2,680.5 799.7,682.2 800.1,681.1 800.6,682.1 801.0,682.5 801.5,683.3 801.9,682.7 802.4,685.0 802.8,685.3 803.3,686.1 803.7,687.1 804.2,686.5 804.6,685.7 805.1,688.5 805.5,689.7 806.0,690.2 806.4,689.7 806.9,690.6 807.3,691.5 807.8,690.8 808.2,692.2 808.7,692.9 809.1,695.2 809.6,694.4 810.0,696.8 810.5,696.5 810.9,696.1 811.4,699.8 811.8,698.3 812.3,700.3 812.7,702.0 813.2,701.1 813.6,701.4 814.1,704.0 814.5,704.1 815.0,703.9 815.4,704.8 815.9,706.2 816.3,708.1 816.8,707.8 817.2,709.4 817.7,711.1 818.1,711.4 818.6,712.3 819.0,712.8 819.5,710.8 819.9,714.1 820.4,713.7 820.8,713.8 821.3,713.4 821.7,713.4 822.2,714.3 822.6,715.9 823.1,715.2 823.5,716.1 824.0,716.7 824.4,718.5 824.9,718.1 825.3,718.7 825.8,720.8 826.2,719.6 826.7,721.0 827.1,719.6 827.6,721.3 828.0,721.3 828.5,721.6 828.9,721.0 829.4,720.5 829.8,721.3 830.3,721.1 830.7,722.7 831.2,722.5 831.6,720.1 832.1,721.9 832.5,720.5 833.0,721.3 833.4,720.0 833.9,718.7 834.3,720.9 834.8,720.0 835.2,717.8 835.7,716.6 836.1,717.5 836.6,716.3 837.0,716.5 837.5,716.9 837.9,717.2 838.4,714.9 838.8,716.3 839.3,715.8 839.7,714.0 840.2,712.6 840.6,715.2 841.1,715.0 841.5,716.8 842.0,716.0 842.4,715.5 842.9,716.6 843.3,714.0 843.8,715.3 844.2,715.0 844.7,717.1 845.1,715.9 845.6,712.3 846.0,716.7 846.5,714.4 846.9,716.1 847.4,714.8 847.8,715.5 848.3,715.9 848.7,715.5 849.2,714.4 849.6,716.9 850.1,716.1 850.5,715.9 851.0,717.0 851.4,716.1 851.9,719.0 852.3,717.8 852.8,718.5 853.2,719.0 853.7,718.3 854.1,718.6 854.6,720.6 855.0,721.3 855.5,723.0 855.9,722.7 856.4,721.6 856.8,724.1 857.3,725.1 857.7,726.0 858.2,725.9 858.6,724.7 859.1,728.1 859.5,726.5 860.0,728.7 860.4,726.7 860.9,730.1 861.3,728.7 861.8,731.5 862.2,732.8 862.7,732.5 863.1,729.9 863.6,730.7 864.0,731.3 864.5,733.9 864.9,734.0 865.4,734.2 865.8,734.7 866.3,735.3 866.7,735.4 867.2,736.9 867.6,734.5 868.1,734.9 868.5,732.2 869.0,733.2 869.4,734.4 869.9,734.1 870.3,736.5 870.8,738.1 871.2,736.5 871.7,736.9 872.1,737.3 872.6,738.7 873.0,738.1 873.5,739.8 873.9,739.9 874.4,740.1 874.8,740.8 875.3,739.9 875.7,740.1 876.2,742.6 876.6,740.2 877.1,741.8 877.5,741.0 878.0,740.7 878.4,741.0 878.9,740.8 879.3,742.2 879.8,741.5 880.2,741.8 880.7,744.1 881.1,742.0 881.6,743.6 882.0,741.9 882.5,742.3 882.9,739.6 883.4,740.2 883.8,743.0 884.3,739.8 884.7,739.2 885.2,737.3 885.6,737.2 886.1,733.6 886.5,732.9 887.0,733.6 887.4,733.1 887.9,730.7 888.3,730.3 888.8,729.6 889.2,729.6 889.7,728.1 890.1,727.7 890.6,729.4 891.0,727.4 891.5,728.5 891.9,729.0 892.4,728.8 892.8,730.6 893.3,729.9 893.7,730.5 894.2,729.5 894.6,730.0 895.1,731.6 895.5,731.5 896.0,730.5 896.4,731.5 896.9,731.1 897.3,730.9 897.8,732.5 898.2,729.7 898.7,730.4 899.1,730.1 899.6,729.1 900.0,727.8 900.5,730.1 900.9,729.6 901.4,729.6 901.8,729.9 902.3,730.2 902.7,729.4 903.2,731.3 903.6,728.9 904.1,731.5 904.5,729.9 905.0,731.6 905.4,733.2 905.9,732.2 906.3,732.2 906.8,733.8 907.2,733.0 907.7,733.0 908.1,733.3 908.6,736.1 909.0,735.2 909.5,735.3 909.9,733.6 910.4,736.6 910.8,734.7 911.3,737.9 911.7,736.4 912.2,741.4 912.6,736.8 913.1,741.4 913.5,741.2 914.0,737.7 914.4,740.1 914.9,742.6 915.3,742.0 915.8,737.6 916.2,739.1 916.7,737.9 917.1,738.0 917.6,738.6 918.0,742.3 918.5,739.9 918.9,739.5 919.4,739.6 919.8,741.4 920.3,741.7 920.7,739.5 921.2,743.2 921.6,739.5 922.1,740.6 922.5,741.5 923.0,743.2 923.4,739.9 923.9,740.5 924.3,741.7 924.8,740.4 925.2,741.0 925.7,740.7 926.1,739.4 926.6,739.9 927.0,740.4 927.5,739.0 927.9,741.5 928.4,736.3 928.8,738.0 929.3,741.5 929.7,740.1 930.2,738.5 930.6,739.9 931.1,740.7 931.5,738.1 932.0,739.8 932.4,738.3 932.9,738.1 933.3,738.0 933.8,739.5 934.2,736.2 934.7,737.1 935.1,738.4 935.6,735.4 936.0,734.6 936.5,737.2 936.9,735.9 937.4,735.2 937.8,735.1 938.3,733.1 938.7,737.9 939.2,732.3 939.6,732.6 940.1,730.9 940.5,731.9 941.0,734.1 941.4,731.8 941.9,732.2 942.3,730.5 942.8,733.0 943.2,730.6 943.7,728.6 944.1,730.8 944.6,729.0 945.0,729.9 945.5,728.9 945.9,728.6 946.4,727.9 946.8,726.1 947.3,724.9 947.7,727.4 948.2,725.6 948.6,725.8 949.1,724.6 949.5,722.6 950.0,723.5 950.4,726.6 950.9,724.1 951.3,724.7 951.8,723.5 952.2,724.6 952.7,724.6 953.1,724.6 953.6,724.6 954.0,723.6 954.5,723.4 954.9,723.7 955.4,723.8 955.8,723.0 956.3,724.9 956.7,723.1 957.2,722.9 957.6,721.8 958.1,723.5 958.5,721.0 959.0,720.2 959.4,720.6 959.9,722.0 960.3,719.8 960.8,722.1 961.2,720.4 961.7,718.5 962.1,719.6 962.6,721.6 963.0,718.7 963.5,718.1 963.9,720.0 964.4,720.7 964.8,720.3 965.3,718.7 965.7,719.0 966.2,718.9 966.6,719.5 967.1,720.3 967.5,717.7 968.0,719.0 968.4,717.1 968.9,718.0 969.3,716.3 969.8,716.4 970.2,717.6 970.7,716.2 971.1,718.0 971.6,716.5 972.0,717.1 972.5,716.8 972.9,716.4 973.4,716.6 973.8,717.2 974.3,718.7 974.7,713.9 975.2,714.7 975.6,713.5 976.1,712.1 976.5,712.5 977.0,710.6 977.4,710.6 977.9,711.1 978.3,707.5 978.8,708.8 979.2,708.2 979.7,706.1 980.1,706.6 980.6,705.6 981.0,704.1 981.5,704.4 981.9,701.4 982.4,702.1 982.8,700.4 983.3,698.9 983.7,698.7 984.2,697.8 984.6,697.9 985.1,695.4 985.5,695.6 986.0,694.6 986.4,695.2 986.9,692.4 987.3,692.9 987.8,689.9 988.2,690.1 988.7,688.5 989.1,687.4 989.6,685.2 990.0,682.9 990.5,681.6 990.9,681.6 991.4,679.3 991.8,677.1 992.3,676.3 992.7,673.8 993.2,672.2 993.6,670.2 994.1,669.6 994.5,668.1 995.0,664.9 995.4,663.5 995.9,661.7 996.3,660.0 996.8,656.1 997.2,654.8 997.7,652.6 998.1,649.5 998.6,647.6 999.0,645.0 999.5,642.6 999.9,639.6 1000.4,637.1 1000.8,633.9 1001.3,631.1 1001.7,627.9 1002.2,624.6 1002.6,621.2 1003.1,618.8 1003.5,615.6 1004.0,612.7 1004.4,609.7 1004.9,607.2 1005.3,605.1 1005.8,602.7 1006.2,600.1 1006.7,598.1 1007.1,595.8 1007.6,593.6 1008.0,591.2 1008.5,589.1 1008.9,586.5 1009.4,583.8 1009.8,581.0 1010.3,578.5 1010.7,575.9 1011.2,573.2 1011.6,570.2 1012.1,567.4 1012.5,564.3 1013.0,561.0 1013.4,557.5 1013.9,554.2 1014.3,550.2 1014.8,546.0 1015.2,541.5 1015.7,536.9 1016.1,532.2 1016.6,527.7 1017.0,523.6 1017.5,519.6 1017.9,515.9 1018.4,512.2 1018.8,508.6 1019.3,505.1 1019.7,501.5 1020.2,497.8 1020.6,493.9 1021.1,489.7 1021.5,485.4 1022.0,480.9 1022.4,476.3 1022.9,471.7 1023.3,467.2 1023.8,462.9 1024.2,458.7 1024.7,454.6 1025.1,450.6 1025.6,446.7 1026.0,442.9 1026.5,439.1 1026.9,435.4 1027.4,431.7 1027.8,427.9 1028.3,424.1 1028.7,420.4 1029.2,416.7 1029.6,413.3 1030.1,410.2 1030.5,407.4 1031.0,405.0 1031.4,402.9 1031.9,400.7 1032.3,398.6 1032.8,396.5 1033.2,394.5 1033.7,392.6 1034.1,390.9 1034.6,389.3 1035.0,387.9 1035.5,386.8 1035.9,385.9 1036.4,385.3 1036.8,385.0 1037.3,385.1 1037.7,385.5 1038.2,386.1 1038.6,387.1 1039.1,388.3 1039.5,389.7 1040.0,391.3 1040.4,393.1 1040.9,395.0 1041.3,397.0 1041.8,399.1 1042.2,401.3 1042.7,403.5 1043.1,405.8 1043.6,408.6 1044.0,411.9 1044.5,415.7 1044.9,419.8 1045.4,424.1 1045.8,428.3 1046.3,432.4 1046.7,436.3 1047.2,440.1 1047.6,444.0 1048.1,447.9 1048.5,451.8 1049.0,455.5 1049.4,459.1 1049.9,462.5 1050.3,465.8 1050.8,468.9 1051.2,472.0 1051.7,475.0 1052.1,477.9 1052.6,480.8 1053.0,483.6 1053.5,486.5 1053.9,489.3 1054.4,492.2 1054.8,495.1 1055.3,498.0 1055.7,501.0 1056.2,504.2 1056.6,507.4 1057.1,510.7 1057.5,513.7 1058.0,516.5 1058.4,519.1 1058.9,521.6 1059.3,523.9 1059.8,526.1 1060.2,528.2 1060.7,530.1 1061.1,532.0 1061.6,533.7 1062.0,535.5 1062.5,537.2 1062.9,538.6 1063.4,540.0 1063.8,541.3 1064.3,542.7 1064.7,544.0 1065.2,545.2 1065.6,546.2 1066.1,547.1 1066.5,548.1 1067.0,549.3 1067.4,550.4 1067.9,551.2 1068.3,552.3 1068.8,553.4 1069.2,554.4 1069.7,555.5 1070.1,556.7 1070.6,557.9 1071.0,558.9 1071.5,560.0 1071.9,561.2 1072.4,562.0 1072.8,563.0 1073.3,564.2 1073.7,565.3 1074.2,566.2 1074.6,567.4 1075.1,568.3 1075.5,569.5 1076.0,570.5 1076.4,571.8 1076.9,573.0 1077.3,574.3 1077.8,575.7 1078.2,577.0 1078.7,578.2 1079.1,580.0 1079.6,581.4 1080.0,583.5 1080.5,585.6 1080.9,587.2 1081.4,589.2 1081.8,591.1 1082.3,593.2 1082.7,594.9 1083.2,597.0 1083.6,598.8 1084.1,600.7 1084.5,602.7 1085.0,604.6 1085.4,606.2 1085.9,608.8 1086.3,610.2 1086.8,611.6 1087.2,613.8 1087.7,615.1 1088.1,616.6 1088.6,618.1 1089.0,619.2 1089.5,620.0 1089.9,621.9 1090.4,623.2 1090.8,624.6 1091.3,625.4 1091.7,626.6 1092.2,627.9 1092.6,628.8 1093.1,629.9 1093.5,631.0 1094.0,631.7 1094.4,633.3 1094.9,633.5 1095.3,634.7 1095.8,635.4 1096.2,636.2 1096.7,637.4 1097.1,638.3 1097.6,639.3 1098.0,639.8 1098.5,640.3 1098.9,641.5 1099.4,641.5 1099.8,642.8 1100.3,643.6 1100.7,644.4 1101.2,644.5 1101.6,645.0 1102.1,646.7 1102.5,646.5 1103.0,646.7 1103.4,647.4 1103.9,648.4 1104.3,649.4 1104.8,649.6 1105.2,650.7 1105.7,651.0 1106.1,651.7 1106.6,652.5 1107.0,652.6 1107.5,653.4 1107.9,653.6 1108.4,654.0 1108.8,654.8 1109.3,654.6 1109.7,655.3 1110.2,655.2 1110.6,655.6 1111.1,655.5 1111.5,656.2 1112.0,655.8 1112.4,655.9 1112.9,656.5 1113.3,654.8 1113.8,655.6 1114.2,655.1 1114.7,656.3 1115.1,656.7 1115.6,656.9 1116.0,657.0 1116.5,656.8 1116.9,658.0 1117.4,657.7 1117.8,657.7 1118.3,657.5 1118.7,658.3 1119.2,658.1 1119.6,658.3 1120.1,658.7 1120.5,658.8 1121.0,658.6 1121.4,659.5 1121.9,658.8 1122.3,658.9 1122.8,659.6 1123.2,659.7 1123.7,659.8 1124.1,659.7 1124.6,660.0 1125.0,659.8 1125.5,659.4 1125.9,660.3 1126.4,659.6 1126.8,659.8 1127.3,660.1 1127.7,659.6 1128.2,660.5 1128.6,658.7 1129.1,658.8 1129.5,659.0 1130.0,659.3 1130.4,658.6 1130.9,658.0 1131.3,659.0 1131.8,658.2 1132.2,658.5 1132.7,658.9 1133.1,658.3 1133.6,658.4 1134.0,658.8 1134.5,658.6 1134.9,658.8 1135.4,658.3 1135.8,658.6 1136.3,658.2 1136.7,657.9 1137.2,659.2 1137.6,658.5 1138.1,658.5 1138.5,657.6 1139.0,657.8 1139.4,657.5 1139.9,656.8 1140.3,657.4 1140.8,656.7 1141.2,656.8 1141.7,656.1 1142.1,656.9 1142.6,656.7 1143.0,656.4 1143.5,655.8 1143.9,655.8 1144.4,656.4 1144.8,655.7 1145.3,655.8 1145.7,655.6 1146.2,655.0 1146.6,655.8 1147.1,654.3 1147.5,655.0 1148.0,654.7 1148.4,654.0 1148.9,654.5 1149.3,654.5 1149.8,654.2 1150.2,653.7 1150.7,654.0 1151.1,654.1 1151.6,653.6 1152.0,654.0 1152.5,653.4 1152.9,653.2 1153.4,653.1 1153.8,652.1 1154.3,651.9 1154.7,651.9 1155.2,651.6 1155.6,651.7 1156.1,651.3 1156.5,650.6 1157.0,650.4 1157.4,650.0 1157.9,649.8 1158.3,649.6 1158.8,649.9 1159.2,649.3 1159.7,649.2 1160.1,649.3 1160.6,648.9 1161.0,648.8 1161.5,648.0 1161.9,648.7 1162.4,648.3 1162.8,648.4 1163.3,648.3 1163.7,647.5 1164.2,648.8 1164.6,648.0 1165.1,647.9 1165.5,647.2 1166.0,647.9 1166.4,647.7 1166.9,647.3 1167.3,647.3 1167.8,647.5 1168.2,646.7 1168.7,646.3 1169.1,646.8 1169.6,646.3 1170.0,645.9 1170.5,646.6 1170.9,645.7 1171.4,645.4 1171.8,645.5 1172.3,645.1 1172.7,645.2 1173.2,645.1 1173.6,644.7 1174.1,644.7 1174.5,644.8 1175.0,644.7 1175.4,644.6 1175.9,644.6 1176.3,644.3 1176.8,644.3 1177.2,643.9 1177.7,643.8 1178.1,644.1 1178.6,643.1 1179.0,643.7 1179.5,644.4 1179.9,642.7 1180.4,643.6 1180.8,642.5 1181.3,643.0 1181.7,643.2 1182.2,643.0 1182.6,642.1 1183.1,641.9 1183.5,641.6 1184.0,642.1 1184.4,641.6 1184.9,641.5 1185.3,641.4 1185.8,641.2 1186.2,641.1 1186.7,640.8 1187.1,640.1 1187.6,640.8 1188.0,639.4 1188.5,640.4 1188.9,639.7 1189.4,639.7 1189.8,639.5 1190.3,639.4 1190.7,639.3 1191.2,639.1 1191.6,638.7 1192.1,639.1 1192.5,638.6 1193.0,639.0 1193.4,638.4 1193.9,638.1 1194.3,638.2 1194.8,638.2 1195.2,637.4 1195.7,637.4 1196.1,637.7 1196.6,636.8 1197.0,636.7 1197.5,636.8 1197.9,636.2 1198.4,635.6 1198.8,635.6 1199.3,635.9 1199.7,635.7 1200.2,635.5 1200.6,635.2 1201.1,634.5 1201.5,634.8 1202.0,634.8 1202.4,634.1 1202.9,634.3 1203.3,633.8 1203.8,633.8 1204.2,633.6 1204.7,633.0 1205.1,633.6 1205.6,632.8 1206.0,632.8 1206.5,632.6 1206.9,632.7 1207.4,632.5 1207.8,632.3 1208.3,632.5 1208.7,632.0 1209.2,631.7 1209.6,630.9 1210.1,631.4 1210.5,631.2 1211.0,630.9 1211.4,630.7 1211.9,630.9 1212.3,630.9 1212.8,631.0 1213.2,630.7 1213.7,630.1 1214.1,630.2 1214.6,629.7 1215.0,630.2 1215.5,630.0 1215.9,629.6 1216.4,629.6 1216.8,629.4 1217.3,629.2 1217.7,629.6 1218.2,629.9 1218.6,629.2 1219.1,629.1 1219.5,628.8 1220.0,628.6 1220.4,629.1 1220.9,628.4 1221.3,628.5 1221.8,628.2 1222.2,628.3 1222.7,628.0 1223.1,628.0 1223.6,627.4 1224.0,627.6 1224.5,627.8 1224.9,627.1 1225.4,627.1 1225.8,627.4 1226.3,627.1 1226.7,627.1 1227.2,626.2 1227.6,626.7 1228.1,626.3 1228.5,626.1 1229.0,626.4 1229.4,626.4 1229.9,625.7 1230.3,625.6 1230.8,625.5 1231.2,625.5 1231.7,625.0 1232.1,625.7 1232.6,625.2 1233.0,624.9 1233.5,624.8 1233.9,625.4 1234.4,625.3 1234.8,624.6 1235.3,624.7 1235.7,624.9 1236.2,624.2 1236.6,624.3 1237.1,624.7 1237.5,624.1 1238.0,624.0 1238.4,623.7 1238.9,623.8 1239.3,624.0 1239.8,623.6 1240.2,623.4 1240.7,623.4 1241.1,623.9 1241.6,623.4 1242.0,623.1 1242.5,623.1 1242.9,623.1 1243.4,622.9 1243.8,622.3 1244.3,622.7 1244.7,622.4 1245.2,622.6 1245.6,622.0 1246.1,622.4 1246.5,622.0 1247.0,621.7 1247.4,622.3 1247.9,621.8 1248.3,621.9 1248.8,621.7 1249.2,622.0 1249.7,621.9 1250.1,621.9 1250.6,621.7 1251.0,621.2 1251.5,621.1 1251.9,621.5 1252.4,621.2 1252.8,621.4 1253.3,621.3 1253.7,620.9 1254.2,620.9 1254.6,620.7 1255.1,620.7 1255.5,620.7 1256.0,620.8 1256.4,620.9 1256.9,620.2 1257.3,620.2 1257.8,620.6 1258.2,620.3 1258.7,620.1 1259.1,619.4 1259.6,619.6 1260.0,619.8 1260.5,619.5 1260.9,620.0 1261.4,619.5 1261.8,619.5 1262.3,619.1 1262.7,619.1 1263.2,619.1 1263.6,619.1 1264.1,619.1 1264.5,619.2 1265.0,619.1 1265.4,619.2 1265.9,618.7 1266.3,618.9 1266.8,618.8 1267.2,619.0 1267.7,618.5 1268.1,618.5 1268.6,618.2 1269.0,618.3 1269.5,618.2 1269.9,617.9 1270.4,617.9 1270.8,617.9" fill="none" stroke="#2a6bc9" stroke-width="5.0" stroke-linejoin="round"/>
<path clip-path="url(#c2)" d="M198.5,1187.7 198.9,1190.5 199.4,1189.6 199.8,1189.5 200.3,1191.8 200.7,1184.3 201.2,1185.9 201.6,1184.1 202.1,1187.3 202.5,1190.3 203.0,1187.6 203.4,1188.9 203.9,1182.5 204.3,1187.9 204.8,1185.0 205.2,1191.9 205.7,1189.4 206.1,1189.4 206.6,1186.6 207.0,1188.2 207.5,1188.2 207.9,1185.6 208.4,1185.2 208.8,1186.4 209.3,1185.2 209.7,1185.4 210.2,1186.3 210.6,1185.2 211.1,1189.1 211.5,1182.8 212.0,1189.0 212.4,1185.1 212.9,1185.1 213.3,1182.8 213.8,1185.7 214.2,1185.2 214.7,1186.1 215.1,1183.9 215.6,1185.3 216.0,1189.6 216.5,1185.9 216.9,1183.4 217.4,1187.6 217.8,1185.3 218.3,1187.7 218.7,1188.3 219.2,1186.2 219.6,1182.4 220.1,1186.5 220.5,1188.5 221.0,1185.4 221.4,1186.8 221.9,1187.4 222.3,1182.6 222.8,1186.6 223.2,1187.2 223.7,1185.6 224.1,1185.9 224.6,1186.0 225.0,1189.4 225.5,1184.6 225.9,1184.8 226.4,1187.0 226.8,1183.6 227.3,1182.4 227.7,1184.5 228.2,1187.8 228.6,1187.9 229.1,1182.2 229.5,1180.7 230.0,1184.1 230.4,1183.6 230.9,1183.3 231.3,1184.6 231.8,1185.7 232.2,1183.0 232.7,1184.1 233.1,1180.1 233.6,1180.5 234.0,1185.0 234.5,1186.9 234.9,1187.7 235.4,1187.9 235.8,1188.6 236.3,1188.7 236.7,1181.8 237.2,1184.1 237.6,1186.9 238.1,1187.0 238.5,1181.4 239.0,1188.6 239.4,1184.7 239.9,1185.8 240.3,1187.8 240.8,1189.8 241.2,1184.9 241.7,1191.7 242.1,1189.7 242.6,1187.6 243.0,1188.7 243.5,1183.3 243.9,1186.7 244.4,1188.2 244.8,1185.1 245.3,1185.4 245.7,1185.2 246.2,1185.2 246.6,1187.3 247.1,1184.4 247.5,1183.7 248.0,1186.0 248.4,1190.5 248.9,1184.7 249.3,1187.7 249.8,1183.0 250.2,1191.4 250.7,1190.2 251.1,1192.4 251.6,1188.9 252.0,1186.3 252.5,1191.0 252.9,1190.1 253.4,1185.1 253.8,1182.7 254.3,1187.0 254.7,1184.7 255.2,1191.5 255.6,1182.6 256.1,1182.7 256.5,1183.9 257.0,1180.1 257.4,1182.8 257.9,1190.2 258.3,1186.4 258.8,1186.0 259.2,1185.0 259.7,1190.7 260.1,1191.5 260.6,1190.8 261.0,1189.2 261.5,1191.1 261.9,1191.1 262.4,1188.0 262.8,1191.2 263.3,1183.5 263.7,1185.3 264.2,1187.7 264.6,1188.0 265.1,1185.1 265.5,1189.1 266.0,1191.2 266.4,1189.7 266.9,1189.3 267.3,1191.1 267.8,1190.1 268.2,1185.8 268.7,1188.0 269.1,1191.5 269.6,1184.2 270.0,1186.5 270.5,1184.3 270.9,1182.0 271.4,1180.9 271.8,1183.5 272.3,1183.9 272.7,1184.2 273.2,1180.2 273.6,1184.2 274.1,1186.9 274.5,1189.6 275.0,1189.8 275.4,1191.0 275.9,1192.3 276.3,1191.9 276.8,1187.5 277.2,1189.7 277.7,1187.3 278.1,1182.3 278.6,1183.6 279.0,1193.2 279.5,1184.0 279.9,1180.6 280.4,1184.7 280.8,1190.0 281.3,1185.5 281.7,1186.4 282.2,1184.2 282.6,1184.4 283.1,1187.8 283.5,1186.3 284.0,1184.0 284.4,1186.7 284.9,1187.5 285.3,1184.3 285.8,1186.0 286.2,1186.2 286.7,1184.0 287.1,1189.1 287.6,1185.8 288.0,1184.9 288.5,1182.4 288.9,1183.8 289.4,1191.6 289.8,1184.7 290.3,1189.1 290.7,1187.1 291.2,1189.6 291.6,1190.0 292.1,1186.5 292.5,1187.9 293.0,1189.0 293.4,1189.0 293.9,1188.4 294.3,1187.2 294.8,1189.3 295.2,1190.6 295.7,1188.0 296.1,1184.2 296.6,1186.9 297.0,1185.8 297.5,1186.7 297.9,1190.4 298.4,1184.9 298.8,1185.6 299.3,1183.5 299.7,1185.5 300.2,1185.1 300.6,1191.3 301.1,1188.3 301.5,1186.4 302.0,1193.4 302.4,1185.0 302.9,1191.1 303.3,1191.7 303.8,1190.7 304.2,1188.6 304.7,1189.2 305.1,1188.9 305.6,1192.2 306.0,1184.2 306.5,1189.2 306.9,1191.0 307.4,1188.9 307.8,1185.4 308.3,1189.2 308.7,1187.5 309.2,1191.3 309.6,1192.8 310.1,1189.3 310.5,1184.1 311.0,1189.0 311.4,1187.3 311.9,1191.7 312.3,1194.4 312.8,1190.8 313.2,1195.2 313.7,1193.6 314.1,1191.1 314.6,1186.7 315.0,1189.2 315.5,1184.8 315.9,1191.1 316.4,1188.6 316.8,1192.1 317.3,1189.5 317.7,1184.0 318.2,1191.4 318.6,1192.7 319.1,1195.1 319.5,1188.4 320.0,1188.6 320.4,1191.1 320.9,1188.0 321.3,1186.8 321.8,1187.3 322.2,1196.8 322.7,1188.2 323.1,1187.2 323.6,1188.8 324.0,1190.1 324.5,1193.6 324.9,1192.6 325.4,1192.0 325.8,1189.7 326.3,1189.4 326.7,1186.6 327.2,1183.5 327.6,1192.2 328.1,1185.2 328.5,1188.9 329.0,1185.4 329.4,1186.3 329.9,1186.5 330.3,1183.6 330.8,1187.3 331.2,1188.6 331.7,1189.6 332.1,1188.3 332.6,1189.2 333.0,1186.8 333.5,1185.5 333.9,1180.1 334.4,1183.8 334.8,1189.4 335.3,1186.1 335.7,1188.3 336.2,1186.2 336.6,1185.4 337.1,1192.8 337.5,1188.4 338.0,1191.2 338.4,1188.3 338.9,1185.7 339.3,1180.1 339.8,1185.7 340.2,1181.0 340.7,1178.9 341.1,1187.7 341.6,1186.1 342.0,1185.8 342.5,1184.1 342.9,1183.8 343.4,1185.0 343.8,1184.3 344.3,1184.1 344.7,1185.9 345.2,1177.7 345.6,1186.5 346.1,1182.6 346.5,1186.5 347.0,1187.3 347.4,1182.1 347.9,1186.3 348.3,1186.2 348.8,1182.3 349.2,1182.8 349.7,1184.5 350.1,1178.5 350.6,1183.1 351.0,1184.8 351.5,1183.1 351.9,1180.1 352.4,1183.2 352.8,1188.2 353.3,1187.8 353.7,1184.3 354.2,1182.9 354.6,1185.4 355.1,1186.1 355.5,1185.0 356.0,1186.6 356.4,1189.7 356.9,1191.0 357.3,1182.7 357.8,1191.7 358.2,1189.5 358.7,1191.9 359.1,1188.5 359.6,1189.2 360.0,1191.6 360.5,1179.2 360.9,1190.1 361.4,1186.0 361.8,1180.4 362.3,1178.0 362.7,1185.5 363.2,1182.4 363.6,1188.0 364.1,1186.6 364.5,1186.3 365.0,1189.8 365.4,1188.2 365.9,1189.9 366.3,1190.2 366.8,1188.9 367.2,1189.8 367.7,1189.5 368.1,1183.6 368.6,1186.0 369.0,1186.0 369.5,1185.1 369.9,1182.0 370.4,1184.5 370.8,1186.9 371.3,1186.6 371.7,1190.1 372.2,1184.7 372.6,1184.9 373.1,1184.1 373.5,1184.1 374.0,1182.6 374.4,1178.6 374.9,1183.3 375.3,1184.1 375.8,1183.9 376.2,1178.2 376.7,1180.4 377.1,1185.7 377.6,1181.2 378.0,1182.9 378.5,1182.1 378.9,1185.4 379.4,1185.5 379.8,1188.9 380.3,1184.2 380.7,1183.7 381.2,1179.2 381.6,1180.8 382.1,1179.8 382.5,1180.7 383.0,1178.3 383.4,1184.9 383.9,1179.7 384.3,1183.4 384.8,1180.0 385.2,1184.3 385.7,1187.9 386.1,1181.9 386.6,1185.1 387.0,1184.2 387.5,1185.4 387.9,1186.1 388.4,1183.8 388.8,1185.4 389.3,1184.7 389.7,1184.5 390.2,1183.6 390.6,1189.2 391.1,1184.6 391.5,1187.6 392.0,1186.6 392.4,1181.7 392.9,1186.1 393.3,1180.4 393.8,1183.7 394.2,1185.6 394.7,1179.9 395.1,1179.6 395.6,1180.0 396.0,1188.9 396.5,1182.4 396.9,1180.5 397.4,1186.3 397.8,1183.9 398.3,1184.4 398.7,1182.0 399.2,1178.8 399.6,1182.6 400.1,1181.7 400.5,1180.0 401.0,1181.2 401.4,1181.4 401.9,1185.8 402.3,1185.6 402.8,1185.2 403.2,1182.7 403.7,1181.2 404.1,1185.6 404.6,1186.2 405.0,1187.7 405.5,1184.9 405.9,1184.3 406.4,1185.1 406.8,1181.5 407.3,1181.4 407.7,1184.8 408.2,1179.7 408.6,1182.6 409.1,1184.7 409.5,1183.3 410.0,1183.7 410.4,1179.8 410.9,1182.2 411.3,1181.9 411.8,1184.1 412.2,1183.8 412.7,1183.0 413.1,1187.8 413.6,1184.5 414.0,1182.4 414.5,1181.4 414.9,1182.7 415.4,1181.1 415.8,1186.3 416.3,1183.5 416.7,1181.4 417.2,1180.7 417.6,1180.0 418.1,1182.4 418.5,1186.8 419.0,1186.0 419.4,1184.0 419.9,1184.7 420.3,1179.7 420.8,1186.0 421.2,1183.3 421.7,1187.0 422.1,1182.8 422.6,1181.8 423.0,1183.3 423.5,1181.1 423.9,1186.0 424.4,1183.4 424.8,1183.8 425.3,1183.9 425.7,1182.4 426.2,1184.6 426.6,1184.0 427.1,1188.0 427.5,1183.8 428.0,1184.6 428.4,1182.4 428.9,1182.5 429.3,1182.5 429.8,1186.2 430.2,1183.0 430.7,1185.0 431.1,1181.7 431.6,1181.5 432.0,1177.7 432.5,1184.8 432.9,1188.2 433.4,1182.8 433.8,1187.3 434.3,1186.0 434.7,1182.2 435.2,1185.8 435.6,1181.4 436.1,1182.7 436.5,1186.3 437.0,1183.4 437.4,1179.9 437.9,1186.3 438.3,1180.1 438.8,1182.7 439.2,1182.6 439.7,1183.4 440.1,1182.1 440.6,1180.5 441.0,1189.5 441.5,1182.5 441.9,1182.6 442.4,1178.5 442.8,1184.6 443.3,1187.2 443.7,1187.2 444.2,1190.4 444.6,1187.1 445.1,1184.5 445.5,1183.7 446.0,1187.6 446.4,1184.3 446.9,1185.3 447.3,1182.9 447.8,1185.9 448.2,1190.8 448.7,1186.0 449.1,1187.3 449.6,1180.4 450.0,1189.6 450.5,1187.2 450.9,1189.6 451.4,1186.5 451.8,1183.7 452.3,1182.3 452.7,1186.8 453.2,1185.5 453.6,1183.3 454.1,1185.6 454.5,1184.2 455.0,1187.4 455.4,1184.4 455.9,1182.0 456.3,1184.1 456.8,1182.2 457.2,1186.4 457.7,1180.9 458.1,1178.3 458.6,1180.8 459.0,1180.1 459.5,1181.3 459.9,1181.4 460.4,1178.7 460.8,1181.4 461.3,1181.6 461.7,1179.3 462.2,1180.9 462.6,1182.8 463.1,1178.3 463.5,1179.3 464.0,1180.5 464.4,1181.2 464.9,1182.4 465.3,1177.8 465.8,1181.8 466.2,1182.7 466.7,1185.2 467.1,1180.6 467.6,1179.6 468.0,1178.4 468.5,1183.8 468.9,1186.0 469.4,1181.4 469.8,1184.5 470.3,1185.8 470.7,1186.3 471.2,1183.0 471.6,1185.8 472.1,1184.0 472.5,1181.6 473.0,1184.6 473.4,1184.7 473.9,1181.1 474.3,1184.7 474.8,1188.6 475.2,1179.7 475.7,1185.6 476.1,1186.4 476.6,1184.7 477.0,1185.9 477.5,1185.0 477.9,1189.6 478.4,1184.2 478.8,1186.4 479.3,1181.8 479.7,1187.2 480.2,1186.8 480.6,1180.9 481.1,1182.1 481.5,1184.7 482.0,1181.4 482.4,1178.8 482.9,1174.9 483.3,1181.4 483.8,1185.0 484.2,1178.8 484.7,1181.0 485.1,1181.0 485.6,1180.0 486.0,1180.8 486.5,1181.2 486.9,1179.3 487.4,1187.7 487.8,1188.5 488.3,1183.0 488.7,1186.6 489.2,1180.4 489.6,1181.6 490.1,1184.5 490.5,1178.9 491.0,1178.1 491.4,1181.5 491.9,1175.7 492.3,1183.8 492.8,1181.1 493.2,1179.6 493.7,1180.2 494.1,1176.3 494.6,1175.8 495.0,1179.4 495.5,1179.3 495.9,1177.2 496.4,1176.5 496.8,1175.4 497.3,1179.8 497.7,1173.7 498.2,1175.5 498.6,1176.7 499.1,1175.0 499.5,1175.8 500.0,1176.6 500.4,1181.1 500.9,1182.8 501.3,1179.5 501.8,1175.1 502.2,1177.1 502.7,1177.9 503.1,1177.5 503.6,1177.1 504.0,1178.9 504.5,1173.4 504.9,1176.4 505.4,1178.2 505.8,1179.5 506.3,1178.9 506.7,1178.6 507.2,1178.6 507.6,1177.6 508.1,1179.2 508.5,1178.3 509.0,1176.7 509.4,1180.1 509.9,1179.2 510.3,1174.8 510.8,1176.1 511.2,1176.7 511.7,1174.3 512.1,1174.0 512.6,1175.2 513.0,1171.0 513.5,1172.3 513.9,1177.3 514.4,1177.5 514.8,1180.4 515.3,1176.7 515.7,1180.4 516.2,1180.3 516.6,1182.2 517.1,1175.8 517.5,1176.5 518.0,1177.6 518.4,1177.3 518.9,1174.3 519.3,1175.0 519.8,1173.3 520.2,1181.4 520.7,1176.1 521.1,1176.2 521.6,1174.9 522.0,1176.4 522.5,1178.2 522.9,1175.8 523.4,1176.6 523.8,1181.7 524.3,1179.1 524.7,1177.8 525.2,1176.5 525.6,1177.5 526.1,1175.9 526.5,1178.1 527.0,1175.8 527.4,1175.5 527.9,1175.9 528.3,1174.1 528.8,1176.6 529.2,1181.5 529.7,1174.3 530.1,1171.9 530.6,1177.4 531.0,1174.9 531.5,1179.0 531.9,1175.3 532.4,1176.0 532.8,1172.0 533.3,1169.6 533.7,1171.7 534.2,1172.6 534.6,1168.7 535.1,1166.3 535.5,1167.4 536.0,1166.9 536.4,1166.3 536.9,1166.1 537.3,1169.9 537.8,1164.8 538.2,1163.3 538.7,1161.9 539.1,1165.1 539.6,1160.6 540.0,1166.3 540.5,1163.7 540.9,1161.1 541.4,1164.2 541.8,1163.7 542.3,1166.2 542.7,1161.2 543.2,1164.4 543.6,1164.1 544.1,1166.0 544.5,1162.3 545.0,1163.2 545.4,1168.5 545.9,1166.0 546.3,1162.2 546.8,1165.5 547.2,1163.2 547.7,1163.2 548.1,1161.9 548.6,1165.8 549.0,1162.9 549.5,1164.3 549.9,1164.4 550.4,1161.8 550.8,1163.8 551.3,1167.2 551.7,1163.4 552.2,1167.3 552.6,1167.0 553.1,1168.7 553.5,1168.8 554.0,1169.0 554.4,1167.3 554.9,1167.3 555.3,1165.0 555.8,1164.8 556.2,1167.0 556.7,1163.8 557.1,1166.5 557.6,1166.2 558.0,1162.6 558.5,1164.9 558.9,1162.1 559.4,1164.0 559.8,1161.7 560.3,1163.7 560.7,1163.3 561.2,1161.2 561.6,1167.1 562.1,1165.4 562.5,1161.0 563.0,1165.0 563.4,1164.0 563.9,1168.9 564.3,1165.3 564.8,1166.3 565.2,1165.2 565.7,1166.5 566.1,1164.1 566.6,1163.0 567.0,1163.3 567.5,1162.9 567.9,1164.3 568.4,1162.7 568.8,1161.2 569.3,1160.7 569.7,1159.3 570.2,1160.5 570.6,1156.2 571.1,1158.8 571.5,1160.6 572.0,1157.5 572.4,1156.6 572.9,1157.4 573.3,1155.4 573.8,1155.4 574.2,1157.5 574.7,1155.1 575.1,1158.9 575.6,1156.3 576.0,1154.9 576.5,1153.7 576.9,1153.8 577.4,1150.3 577.8,1153.5 578.3,1153.8 578.7,1152.8 579.2,1150.7 579.6,1151.6 580.1,1151.0 580.5,1149.3 581.0,1149.3 581.4,1149.5 581.9,1148.0 582.3,1146.2 582.8,1146.1 583.2,1145.6 583.7,1142.7 584.1,1144.3 584.6,1143.4 585.0,1140.2 585.5,1140.3 585.9,1144.2 586.4,1141.6 586.8,1142.6 587.3,1140.0 587.7,1141.8 588.2,1140.1 588.6,1138.1 589.1,1138.8 589.5,1139.8 590.0,1140.3 590.4,1137.7 590.9,1136.2 591.3,1135.4 591.8,1137.0 592.2,1137.4 592.7,1136.2 593.1,1135.9 593.6,1137.1 594.0,1136.8 594.5,1136.9 594.9,1134.9 595.4,1136.5 595.8,1139.3 596.3,1137.3 596.7,1140.3 597.2,1137.9 597.6,1137.1 598.1,1137.6 598.5,1137.9 599.0,1136.1 599.4,1137.1 599.9,1136.1 600.3,1138.1 600.8,1135.6 601.2,1136.2 601.7,1134.1 602.1,1134.1 602.6,1135.5 603.0,1134.3 603.5,1134.8 603.9,1135.2 604.4,1135.3 604.8,1132.8 605.3,1133.9 605.7,1134.6 606.2,1132.8 606.6,1131.9 607.1,1132.3 607.5,1134.6 608.0,1132.5 608.4,1133.9 608.9,1131.5 609.3,1132.7 609.8,1129.4 610.2,1130.1 610.7,1129.8 611.1,1130.7 611.6,1128.5 612.0,1128.0 612.5,1125.0 612.9,1123.3 613.4,1123.2 613.8,1121.6 614.3,1119.7 614.7,1118.1 615.2,1115.2 615.6,1116.1 616.1,1113.1 616.5,1112.6 617.0,1110.9 617.4,1107.6 617.9,1106.2 618.3,1105.2 618.8,1105.1 619.2,1104.7 619.7,1102.6 620.1,1102.1 620.6,1099.5 621.0,1098.6 621.5,1097.1 621.9,1096.2 622.4,1094.1 622.8,1093.2 623.3,1092.2 623.7,1090.1 624.2,1088.5 624.6,1087.4 625.1,1085.7 625.5,1084.7 626.0,1084.5 626.4,1083.2 626.9,1081.2 627.3,1080.7 627.8,1080.0 628.2,1079.1 628.7,1077.9 629.1,1076.9 629.6,1075.3 630.0,1074.2 630.5,1073.0 630.9,1072.5 631.4,1071.3 631.8,1070.6 632.3,1069.4 632.7,1067.8 633.2,1066.7 633.6,1066.0 634.1,1065.5 634.5,1065.4 635.0,1064.0 635.4,1063.1 635.9,1063.1 636.3,1062.8 636.8,1062.1 637.2,1061.7 637.7,1060.4 638.1,1059.5 638.6,1058.8 639.0,1057.8 639.5,1057.2 639.9,1057.1 640.4,1056.6 640.8,1055.6 641.3,1054.5 641.7,1053.6 642.2,1053.0 642.6,1051.7 643.1,1051.7 643.5,1051.0 644.0,1049.9 644.4,1049.2 644.9,1048.0 645.3,1047.9 645.8,1047.1 646.2,1045.4 646.7,1045.2 647.1,1044.7 647.6,1044.3 648.0,1042.8 648.5,1042.2 648.9,1041.7 649.4,1040.5 649.8,1039.4 650.3,1038.3 650.7,1037.4 651.2,1036.1 651.6,1035.4 652.1,1033.7 652.5,1032.8 653.0,1031.6 653.4,1030.3 653.9,1028.8 654.3,1027.3 654.8,1025.9 655.2,1024.4 655.7,1023.0 656.1,1021.0 656.6,1019.3 657.0,1017.4 657.5,1014.6 657.9,1012.6 658.4,1010.3 658.8,1008.6 659.3,1006.6 659.7,1004.5 660.2,1002.3 660.6,1000.3 661.1,998.3 661.5,995.9 662.0,993.3 662.4,990.8 662.9,988.4 663.3,986.0 663.8,983.6 664.2,981.4 664.7,979.5 665.1,977.6 665.6,975.7 666.0,973.8 666.5,972.0 666.9,970.5 667.4,968.6 667.8,967.1 668.3,965.2 668.7,963.6 669.2,961.7 669.6,959.8 670.1,957.9 670.5,956.1 671.0,954.2 671.4,952.2 671.9,950.5 672.3,948.6 672.8,947.1 673.2,945.5 673.7,943.9 674.1,942.5 674.6,941.0 675.0,939.8 675.5,938.4 675.9,937.1 676.4,935.8 676.8,934.5 677.3,933.2 677.7,932.0 678.2,930.8 678.6,929.7 679.1,928.4 679.5,927.1 680.0,925.9 680.4,924.6 680.9,923.5 681.3,922.2 681.8,921.0 682.2,919.9 682.7,918.9 683.1,917.9 683.6,917.1 684.0,916.2 684.5,915.7 684.9,915.0 685.4,914.4 685.8,913.8 686.3,913.1 686.7,912.5 687.2,912.0 687.6,911.5 688.1,911.0 688.5,910.6 689.0,910.3 689.4,909.9 689.9,909.6 690.3,909.4 690.8,909.1 691.2,909.0 691.7,908.8 692.1,908.7 692.6,908.6 693.0,908.5 693.5,908.4 693.9,908.4 694.4,908.3 694.8,908.2 695.3,908.1 695.7,908.1 696.2,908.1 696.6,908.1 697.1,908.2 697.5,908.2 698.0,908.3 698.4,908.6 698.9,908.7 699.3,909.0 699.8,909.1 700.2,909.5 700.7,909.8 701.1,910.0 701.6,910.3 702.0,910.7 702.5,911.0 702.9,911.3 703.4,911.6 703.8,912.1 704.3,912.6 704.7,913.2 705.2,913.9 705.6,914.6 706.1,915.3 706.5,916.2 707.0,917.0 707.4,917.9 707.9,918.9 708.3,919.8 708.8,920.8 709.2,921.8 709.7,922.8 710.1,924.0 710.6,925.0 711.0,926.3 711.5,927.7 711.9,929.1 712.4,930.4 712.8,931.9 713.3,933.5 713.7,934.8 714.2,936.4 714.6,937.9 715.1,939.4 715.5,940.9 716.0,942.5 716.4,944.0 716.9,945.7 717.3,947.4 717.8,949.1 718.2,950.9 718.7,952.5 719.1,954.4 719.6,956.0 720.0,958.0 720.5,959.7 720.9,961.5 721.4,963.4 721.8,965.3 722.3,967.0 722.7,968.9 723.2,970.6 723.6,972.3 724.1,974.2 724.5,976.0 725.0,977.5 725.4,979.4 725.9,981.2 726.3,982.8 726.8,984.7 727.2,986.8 727.7,988.7 728.1,990.6 728.6,992.9 729.0,994.7 729.5,996.6 729.9,998.5 730.4,1000.9 730.8,1002.7 731.3,1004.6 731.7,1006.4 732.2,1008.3 732.6,1010.3 733.1,1012.2 733.5,1014.1 734.0,1015.9 734.4,1017.7 734.9,1019.2 735.3,1020.8 735.8,1022.5 736.2,1023.7 736.7,1025.8 737.1,1027.1 737.6,1028.6 738.0,1029.7 738.5,1031.2 738.9,1032.7 739.4,1033.9 739.8,1035.2 740.3,1036.8 740.7,1038.2 741.2,1039.3 741.6,1041.0 742.1,1042.5 742.5,1043.2 743.0,1044.1 743.4,1045.0 743.9,1046.5 744.3,1047.0 744.8,1047.9 745.2,1048.6 745.7,1049.1 746.1,1050.3 746.6,1050.5 747.0,1051.2 747.5,1051.2 747.9,1053.1 748.4,1053.3 748.8,1053.7 749.3,1054.1 749.7,1054.7 750.2,1055.0 750.6,1056.4 751.1,1056.6 751.5,1057.7 752.0,1058.4 752.4,1059.6 752.9,1059.7 753.3,1060.3 753.8,1061.0 754.2,1061.3 754.7,1062.0 755.1,1062.8 755.6,1063.8 756.0,1064.3 756.5,1064.7 756.9,1066.0 757.4,1066.3 757.8,1066.8 758.3,1069.0 758.7,1069.5 759.2,1070.5 759.6,1071.5 760.1,1073.2 760.5,1075.6 761.0,1076.4 761.4,1079.1 761.9,1079.7 762.3,1081.8 762.8,1082.9 763.2,1084.2 763.7,1085.7 764.1,1087.3 764.6,1088.2 765.0,1089.6 765.5,1091.8 765.9,1093.7 766.4,1094.4 766.8,1095.5 767.3,1096.1 767.7,1098.5 768.2,1099.6 768.6,1099.3 769.1,1101.2 769.5,1102.0 770.0,1102.4 770.4,1105.7 770.9,1106.6 771.3,1107.1 771.8,1109.0 772.2,1108.8 772.7,1110.5 773.1,1112.6 773.6,1112.5 774.0,1114.1 774.5,1114.2 774.9,1116.7 775.4,1118.2 775.8,1117.4 776.3,1118.6 776.7,1120.2 777.2,1122.6 777.6,1121.9 778.1,1122.8 778.5,1124.8 779.0,1127.5 779.4,1126.2 779.9,1129.1 780.3,1132.1 780.8,1132.1 781.2,1133.1 781.7,1135.6 782.1,1134.2 782.6,1138.8 783.0,1137.5 783.5,1136.8 783.9,1137.5 784.4,1137.4 784.8,1137.1 785.3,1136.0 785.7,1137.1 786.2,1135.2 786.6,1138.6 787.1,1135.4 787.5,1135.6 788.0,1135.2 788.4,1136.6 788.9,1135.2 789.3,1136.8 789.8,1134.4 790.2,1135.1 790.7,1134.8 791.1,1134.6 791.6,1136.6 792.0,1136.9 792.5,1137.3 792.9,1134.3 793.4,1136.6 793.8,1135.1 794.3,1135.2 794.7,1134.5 795.2,1135.6 795.6,1137.3 796.1,1138.1 796.5,1138.2 797.0,1134.8 797.4,1134.7 797.9,1135.2 798.3,1134.6 798.8,1134.2 799.2,1131.5 799.7,1133.0 800.1,1133.6 800.6,1133.2 801.0,1132.8 801.5,1132.2 801.9,1133.1 802.4,1135.4 802.8,1134.6 803.3,1135.7 803.7,1136.9 804.2,1134.3 804.6,1136.9 805.1,1137.1 805.5,1138.6 806.0,1137.1 806.4,1137.6 806.9,1137.4 807.3,1138.8 807.8,1138.6 808.2,1139.1 808.7,1140.1 809.1,1139.7 809.6,1139.5 810.0,1140.7 810.5,1141.0 810.9,1142.9 811.4,1144.6 811.8,1143.2 812.3,1141.1 812.7,1145.8 813.2,1145.5 813.6,1144.9 814.1,1146.4 814.5,1149.9 815.0,1145.8 815.4,1146.9 815.9,1149.1 816.3,1145.4 816.8,1150.0 817.2,1152.8 817.7,1152.9 818.1,1153.3 818.6,1152.9 819.0,1153.7 819.5,1158.7 819.9,1155.4 820.4,1157.6 820.8,1154.0 821.3,1156.9 821.7,1157.6 822.2,1157.8 822.6,1154.5 823.1,1157.9 823.5,1161.6 824.0,1160.5 824.4,1158.7 824.9,1161.8 825.3,1157.3 825.8,1161.7 826.2,1161.3 826.7,1159.7 827.1,1159.1 827.6,1158.0 828.0,1160.6 828.5,1164.0 828.9,1162.5 829.4,1161.7 829.8,1162.4 830.3,1159.4 830.7,1160.9 831.2,1154.6 831.6,1158.2 832.1,1157.7 832.5,1157.9 833.0,1157.3 833.4,1158.1 833.9,1155.7 834.3,1158.0 834.8,1155.7 835.2,1157.2 835.7,1155.7 836.1,1156.7 836.6,1156.0 837.0,1154.2 837.5,1155.5 837.9,1153.1 838.4,1155.5 838.8,1156.2 839.3,1155.2 839.7,1155.4 840.2,1157.2 840.6,1157.5 841.1,1157.7 841.5,1154.3 842.0,1154.4 842.4,1156.4 842.9,1156.6 843.3,1152.3 843.8,1158.7 844.2,1157.6 844.7,1154.0 845.1,1158.2 845.6,1155.8 846.0,1156.5 846.5,1155.3 846.9,1155.7 847.4,1156.5 847.8,1157.4 848.3,1155.5 848.7,1157.2 849.2,1156.2 849.6,1156.5 850.1,1156.0 850.5,1156.5 851.0,1160.4 851.4,1155.2 851.9,1155.9 852.3,1158.2 852.8,1157.7 853.2,1156.9 853.7,1159.4 854.1,1156.8 854.6,1158.8 855.0,1160.4 855.5,1159.8 855.9,1158.4 856.4,1159.0 856.8,1159.4 857.3,1160.4 857.7,1158.1 858.2,1162.3 858.6,1161.9 859.1,1164.3 859.5,1163.1 860.0,1163.9 860.4,1157.3 860.9,1162.1 861.3,1166.4 861.8,1163.9 862.2,1162.5 862.7,1164.5 863.1,1163.5 863.6,1164.2 864.0,1162.3 864.5,1164.9 864.9,1167.1 865.4,1165.2 865.8,1166.1 866.3,1164.4 866.7,1167.2 867.2,1166.0 867.6,1164.5 868.1,1166.7 868.5,1167.3 869.0,1168.9 869.4,1169.8 869.9,1167.4 870.3,1167.0 870.8,1168.7 871.2,1165.3 871.7,1165.9 872.1,1165.5 872.6,1165.0 873.0,1163.6 873.5,1167.4 873.9,1165.7 874.4,1163.4 874.8,1160.8 875.3,1162.5 875.7,1164.4 876.2,1159.5 876.6,1167.3 877.1,1162.1 877.5,1161.5 878.0,1162.1 878.4,1157.6 878.9,1159.6 879.3,1158.9 879.8,1159.8 880.2,1156.5 880.7,1159.3 881.1,1160.3 881.6,1159.0 882.0,1157.8 882.5,1157.5 882.9,1156.1 883.4,1158.3 883.8,1160.2 884.3,1161.9 884.7,1160.9 885.2,1160.9 885.6,1157.8 886.1,1157.5 886.5,1155.2 887.0,1156.2 887.4,1155.1 887.9,1156.4 888.3,1157.9 888.8,1156.6 889.2,1156.4 889.7,1158.5 890.1,1160.2 890.6,1159.9 891.0,1155.6 891.5,1161.8 891.9,1158.5 892.4,1157.1 892.8,1159.3 893.3,1161.9 893.7,1155.8 894.2,1163.0 894.6,1161.3 895.1,1162.0 895.5,1158.9 896.0,1160.6 896.4,1159.9 896.9,1164.5 897.3,1161.6 897.8,1164.2 898.2,1162.9 898.7,1161.5 899.1,1166.4 899.6,1167.1 900.0,1167.7 900.5,1163.7 900.9,1164.4 901.4,1165.1 901.8,1163.9 902.3,1163.0 902.7,1166.4 903.2,1160.8 903.6,1162.9 904.1,1160.1 904.5,1163.9 905.0,1161.2 905.4,1160.4 905.9,1164.3 906.3,1163.6 906.8,1163.3 907.2,1164.1 907.7,1163.6 908.1,1166.0 908.6,1165.7 909.0,1168.3 909.5,1163.9 909.9,1168.0 910.4,1166.5 910.8,1163.0 911.3,1168.8 911.7,1162.8 912.2,1167.5 912.6,1163.1 913.1,1167.3 913.5,1166.1 914.0,1166.3 914.4,1163.1 914.9,1165.3 915.3,1169.0 915.8,1167.8 916.2,1166.4 916.7,1166.2 917.1,1165.1 917.6,1169.0 918.0,1166.0 918.5,1168.1 918.9,1163.1 919.4,1162.9 919.8,1168.3 920.3,1164.0 920.7,1165.1 921.2,1166.1 921.6,1166.6 922.1,1165.7 922.5,1165.3 923.0,1167.0 923.4,1164.3 923.9,1165.3 924.3,1163.7 924.8,1163.8 925.2,1166.8 925.7,1162.8 926.1,1158.5 926.6,1162.7 927.0,1162.5 927.5,1164.9 927.9,1160.6 928.4,1158.8 928.8,1160.5 929.3,1163.0 929.7,1158.9 930.2,1161.1 930.6,1159.4 931.1,1159.2 931.5,1156.3 932.0,1157.3 932.4,1155.4 932.9,1156.4 933.3,1154.9 933.8,1157.7 934.2,1155.0 934.7,1155.6 935.1,1152.6 935.6,1154.9 936.0,1160.9 936.5,1156.5 936.9,1154.6 937.4,1157.4 937.8,1157.0 938.3,1156.5 938.7,1156.8 939.2,1156.5 939.6,1158.7 940.1,1155.1 940.5,1157.4 941.0,1158.3 941.4,1155.4 941.9,1160.6 942.3,1156.9 942.8,1156.8 943.2,1156.3 943.7,1158.9 944.1,1155.3 944.6,1159.4 945.0,1162.6 945.5,1159.9 945.9,1161.1 946.4,1158.5 946.8,1161.5 947.3,1158.9 947.7,1159.4 948.2,1159.9 948.6,1162.9 949.1,1158.5 949.5,1156.0 950.0,1159.4 950.4,1160.6 950.9,1160.5 951.3,1160.0 951.8,1162.2 952.2,1161.7 952.7,1161.9 953.1,1160.0 953.6,1158.4 954.0,1163.7 954.5,1159.5 954.9,1163.0 955.4,1162.6 955.8,1158.4 956.3,1158.8 956.7,1160.1 957.2,1160.4 957.6,1156.5 958.1,1156.8 958.5,1154.8 959.0,1153.6 959.4,1154.9 959.9,1153.2 960.3,1150.1 960.8,1153.1 961.2,1151.3 961.7,1150.6 962.1,1148.5 962.6,1150.6 963.0,1149.1 963.5,1147.9 963.9,1146.2 964.4,1145.4 964.8,1145.4 965.3,1141.7 965.7,1139.9 966.2,1137.1 966.6,1136.4 967.1,1133.4 967.5,1130.7 968.0,1130.4 968.4,1126.6 968.9,1123.3 969.3,1120.8 969.8,1118.1 970.2,1114.7 970.7,1113.6 971.1,1109.6 971.6,1104.7 972.0,1102.9 972.5,1098.2 972.9,1094.9 973.4,1090.8 973.8,1087.4 974.3,1083.5 974.7,1079.7 975.2,1075.7 975.6,1070.2 976.1,1066.9 976.5,1062.7 977.0,1058.2 977.4,1053.2 977.9,1048.9 978.3,1044.2 978.8,1038.9 979.2,1034.5 979.7,1030.0 980.1,1024.7 980.6,1019.6 981.0,1014.4 981.5,1009.4 981.9,1004.5 982.4,1000.1 982.8,995.9 983.3,992.1 983.7,988.4 984.2,984.9 984.6,981.5 985.1,978.3 985.5,975.2 986.0,971.9 986.4,968.9 986.9,966.2 987.3,963.3 987.8,960.5 988.2,958.0 988.7,955.4 989.1,952.8 989.6,950.4 990.0,948.2 990.5,946.0 990.9,944.0 991.4,942.0 991.8,940.2 992.3,938.3 992.7,936.6 993.2,934.8 993.6,933.1 994.1,931.4 994.5,929.5 995.0,927.7 995.4,925.8 995.9,923.8 996.3,921.8 996.8,919.5 997.2,917.1 997.7,914.6 998.1,911.9 998.6,909.2 999.0,906.3 999.5,903.6 999.9,900.7 1000.4,897.9 1000.8,895.0 1001.3,892.4 1001.7,889.7 1002.2,887.2 1002.6,884.7 1003.1,882.2 1003.5,879.8 1004.0,877.3 1004.4,874.9 1004.9,872.5 1005.3,870.1 1005.8,867.6 1006.2,865.1 1006.7,862.6 1007.1,860.0 1007.6,857.4 1008.0,854.7 1008.5,852.0 1008.9,849.4 1009.4,846.7 1009.8,844.1 1010.3,841.6 1010.7,839.0 1011.2,836.3 1011.6,833.6 1012.1,830.9 1012.5,828.1 1013.0,825.4 1013.4,822.7 1013.9,820.0 1014.3,817.5 1014.8,814.9 1015.2,812.4 1015.7,810.1 1016.1,807.8 1016.6,805.7 1017.0,803.7 1017.5,801.8 1017.9,800.2 1018.4,798.6 1018.8,797.0 1019.3,795.4 1019.7,793.8 1020.2,792.3 1020.6,790.7 1021.1,789.2 1021.5,787.7 1022.0,786.2 1022.4,784.8 1022.9,783.4 1023.3,782.2 1023.8,781.0 1024.2,779.9 1024.7,778.8 1025.1,777.9 1025.6,777.1 1026.0,776.4 1026.5,775.9 1026.9,775.4 1027.4,775.1 1027.8,775.0 1028.3,775.0 1028.7,775.2 1029.2,775.6 1029.6,776.1 1030.1,776.7 1030.5,777.4 1031.0,778.3 1031.4,779.3 1031.9,780.3 1032.3,781.5 1032.8,782.7 1033.2,784.1 1033.7,785.4 1034.1,786.9 1034.6,788.3 1035.0,789.9 1035.5,791.4 1035.9,793.0 1036.4,794.5 1036.8,796.1 1037.3,797.6 1037.7,799.2 1038.2,800.7 1038.6,802.2 1039.1,803.9 1039.5,805.6 1040.0,807.4 1040.4,809.2 1040.9,811.1 1041.3,813.1 1041.8,815.2 1042.2,817.3 1042.7,819.5 1043.1,821.8 1043.6,824.2 1044.0,826.6 1044.5,829.2 1044.9,831.8 1045.4,834.4 1045.8,837.2 1046.3,840.0 1046.7,843.0 1047.2,846.1 1047.6,849.5 1048.1,853.2 1048.5,857.2 1049.0,861.4 1049.4,865.7 1049.9,870.3 1050.3,875.0 1050.8,880.4 1051.2,886.4 1051.7,892.7 1052.1,899.0 1052.6,905.0 1053.0,910.5 1053.5,915.0 1053.9,918.8 1054.4,922.4 1054.8,925.7 1055.3,928.8 1055.7,931.7 1056.2,934.4 1056.6,937.0 1057.1,939.8 1057.5,942.5 1058.0,945.2 1058.4,948.2 1058.9,951.1 1059.3,954.2 1059.8,957.2 1060.2,960.3 1060.7,963.2 1061.1,966.3 1061.6,969.0 1062.0,972.1 1062.5,975.4 1062.9,978.4 1063.4,981.2 1063.8,984.2 1064.3,987.2 1064.7,990.3 1065.2,993.4 1065.6,996.3 1066.1,999.6 1066.5,1002.6 1067.0,1005.4 1067.4,1008.2 1067.9,1011.0 1068.3,1013.7 1068.8,1016.2 1069.2,1018.8 1069.7,1020.8 1070.1,1023.4 1070.6,1025.7 1071.0,1028.1 1071.5,1030.4 1071.9,1032.4 1072.4,1035.1 1072.8,1037.6 1073.3,1039.5 1073.7,1042.1 1074.2,1044.3 1074.6,1046.6 1075.1,1048.7 1075.5,1051.2 1076.0,1054.2 1076.4,1055.8 1076.9,1057.8 1077.3,1060.1 1077.8,1062.8 1078.2,1064.4 1078.7,1067.1 1079.1,1069.2 1079.6,1071.1 1080.0,1073.9 1080.5,1074.7 1080.9,1077.1 1081.4,1079.4 1081.8,1081.8 1082.3,1083.1 1082.7,1085.6 1083.2,1088.8 1083.6,1089.9 1084.1,1092.8 1084.5,1094.1 1085.0,1095.8 1085.4,1098.6 1085.9,1101.1 1086.3,1102.1 1086.8,1103.1 1087.2,1105.3 1087.7,1107.4 1088.1,1109.3 1088.6,1110.4 1089.0,1113.5 1089.5,1113.7 1089.9,1117.2 1090.4,1117.1 1090.8,1118.9 1091.3,1122.7 1091.7,1124.0 1092.2,1124.7 1092.6,1126.1 1093.1,1128.1 1093.5,1130.0 1094.0,1131.8 1094.4,1134.3 1094.9,1133.7 1095.3,1136.2 1095.8,1137.8 1096.2,1137.6 1096.7,1142.2 1097.1,1144.4 1097.6,1143.6 1098.0,1142.5 1098.5,1144.9 1098.9,1148.4 1099.4,1145.2 1099.8,1146.1 1100.3,1149.1 1100.7,1151.4 1101.2,1152.8 1101.6,1154.1 1102.1,1149.8 1102.5,1153.6 1103.0,1154.0 1103.4,1155.0 1103.9,1158.9 1104.3,1159.1 1104.8,1158.0 1105.2,1160.5 1105.7,1161.4 1106.1,1164.3 1106.6,1162.0 1107.0,1165.0 1107.5,1163.4 1107.9,1166.2 1108.4,1165.9 1108.8,1166.9 1109.3,1166.7 1109.7,1169.9 1110.2,1165.9 1110.6,1165.7 1111.1,1166.7 1111.5,1169.0 1112.0,1169.9 1112.4,1168.8 1112.9,1168.1 1113.3,1169.2 1113.8,1169.1 1114.2,1172.1 1114.7,1171.6 1115.1,1172.6 1115.6,1172.7 1116.0,1173.1 1116.5,1175.7 1116.9,1172.6 1117.4,1174.9 1117.8,1175.5 1118.3,1173.5 1118.7,1179.2 1119.2,1176.8 1119.6,1174.5 1120.1,1179.7 1120.5,1179.4 1121.0,1180.2 1121.4,1178.6 1121.9,1178.6 1122.3,1180.0 1122.8,1176.9 1123.2,1180.6 1123.7,1180.6 1124.1,1182.6 1124.6,1180.1 1125.0,1182.0 1125.5,1177.3 1125.9,1178.6 1126.4,1182.0 1126.8,1183.4 1127.3,1181.9 1127.7,1176.1 1128.2,1177.2 1128.6,1178.4 1129.1,1183.1 1129.5,1179.2 1130.0,1181.9 1130.4,1183.3 1130.9,1184.4 1131.3,1184.1 1131.8,1186.7 1132.2,1189.4 1132.7,1189.2 1133.1,1190.0 1133.6,1193.2 1134.0,1195.8 1134.5,1198.7 1134.9,1189.8 1135.4,1193.1 1135.8,1192.1 1136.3,1188.3 1136.7,1189.4 1137.2,1187.6 1137.6,1186.0 1138.1,1186.3 1138.5,1189.0 1139.0,1184.4 1139.4,1185.4 1139.9,1186.1 1140.3,1183.5 1140.8,1182.5 1141.2,1181.1 1141.7,1182.8 1142.1,1188.0 1142.6,1180.0 1143.0,1186.6 1143.5,1182.4 1143.9,1182.8 1144.4,1187.8 1144.8,1187.8 1145.3,1188.6 1145.7,1187.4 1146.2,1190.0 1146.6,1186.3 1147.1,1188.9 1147.5,1190.4 1148.0,1187.5 1148.4,1185.2 1148.9,1191.5 1149.3,1186.3 1149.8,1184.1 1150.2,1188.2 1150.7,1189.9 1151.1,1188.1 1151.6,1183.5 1152.0,1187.1 1152.5,1188.0 1152.9,1189.2 1153.4,1183.9 1153.8,1184.8 1154.3,1189.3 1154.7,1189.3 1155.2,1191.1 1155.6,1193.6 1156.1,1187.1 1156.5,1188.3 1157.0,1190.4 1157.4,1197.1 1157.9,1192.8 1158.3,1196.9 1158.8,1188.0 1159.2,1196.2 1159.7,1198.8 1160.1,1200.7 1160.6,1194.9 1161.0,1203.0 1161.5,1194.8 1161.9,1201.4 1162.4,1202.1 1162.8,1196.8 1163.3,1193.1 1163.7,1203.5 1164.2,1198.2 1164.6,1193.7 1165.1,1198.8 1165.5,1194.3 1166.0,1198.1 1166.4,1194.6 1166.9,1191.3 1167.3,1200.2 1167.8,1196.4 1168.2,1198.2 1168.7,1199.0 1169.1,1198.2 1169.6,1196.6 1170.0,1199.8 1170.5,1200.6 1170.9,1199.5 1171.4,1197.9 1171.8,1199.2 1172.3,1203.7 1172.7,1203.1 1173.2,1199.0 1173.6,1201.8 1174.1,1201.9 1174.5,1201.8 1175.0,1200.1 1175.4,1201.0 1175.9,1198.0 1176.3,1200.4 1176.8,1199.2 1177.2,1198.8 1177.7,1198.1 1178.1,1197.1 1178.6,1192.6 1179.0,1190.9 1179.5,1194.5 1179.9,1192.6 1180.4,1195.8 1180.8,1191.6 1181.3,1192.1 1181.7,1189.4 1182.2,1193.1 1182.6,1192.3 1183.1,1197.0 1183.5,1194.1 1184.0,1198.6 1184.4,1192.9 1184.9,1191.3 1185.3,1200.3 1185.8,1199.6 1186.2,1203.6 1186.7,1197.5 1187.1,1194.7 1187.6,1204.6 1188.0,1200.7 1188.5,1197.7 1188.9,1205.4 1189.4,1198.6 1189.8,1195.5 1190.3,1198.7 1190.7,1195.7 1191.2,1194.5 1191.6,1198.1 1192.1,1197.0 1192.5,1196.3 1193.0,1196.6 1193.4,1192.9 1193.9,1199.0 1194.3,1202.6 1194.8,1197.6 1195.2,1200.6 1195.7,1202.8 1196.1,1196.4 1196.6,1195.5 1197.0,1195.2 1197.5,1197.2 1197.9,1201.5 1198.4,1199.0 1198.8,1203.1 1199.3,1197.4 1199.7,1204.1 1200.2,1197.8 1200.6,1198.1 1201.1,1198.3 1201.5,1197.1 1202.0,1197.2 1202.4,1199.2 1202.9,1196.8 1203.3,1198.3 1203.8,1194.2 1204.2,1194.0 1204.7,1191.9 1205.1,1198.3 1205.6,1193.5 1206.0,1197.5 1206.5,1196.7 1206.9,1197.0 1207.4,1196.2 1207.8,1198.9 1208.3,1198.8 1208.7,1202.3 1209.2,1196.3 1209.6,1195.5 1210.1,1192.3 1210.5,1202.2 1211.0,1192.6 1211.4,1196.7 1211.9,1196.0 1212.3,1189.6 1212.8,1191.3 1213.2,1195.7 1213.7,1193.8 1214.1,1190.4 1214.6,1195.4 1215.0,1200.4 1215.5,1197.4 1215.9,1198.6 1216.4,1201.3 1216.8,1204.2 1217.3,1197.5 1217.7,1195.3 1218.2,1196.5 1218.6,1194.7 1219.1,1191.2 1219.5,1194.4 1220.0,1191.3 1220.4,1197.9 1220.9,1193.6 1221.3,1186.2 1221.8,1191.9 1222.2,1197.4 1222.7,1195.6 1223.1,1196.2 1223.6,1198.3 1224.0,1198.4 1224.5,1203.6 1224.9,1200.5 1225.4,1199.1 1225.8,1204.2 1226.3,1197.2 1226.7,1200.8 1227.2,1196.2 1227.6,1197.2 1228.1,1196.3 1228.5,1193.9 1229.0,1195.3 1229.4,1201.6 1229.9,1193.5 1230.3,1203.3 1230.8,1199.8 1231.2,1202.2 1231.7,1195.8 1232.1,1200.6 1232.6,1197.7 1233.0,1203.1 1233.5,1195.0 1233.9,1199.9 1234.4,1193.9 1234.8,1200.1 1235.3,1194.6 1235.7,1192.5 1236.2,1192.0 1236.6,1194.9 1237.1,1201.9 1237.5,1193.3 1238.0,1195.1 1238.4,1197.2 1238.9,1197.5 1239.3,1197.9 1239.8,1202.0 1240.2,1196.2 1240.7,1192.3 1241.1,1199.2 1241.6,1195.9 1242.0,1196.8 1242.5,1198.4 1242.9,1203.4 1243.4,1202.9 1243.8,1199.7 1244.3,1198.9 1244.7,1201.8 1245.2,1198.4 1245.6,1195.4 1246.1,1198.9 1246.5,1203.9 1247.0,1198.5 1247.4,1198.7 1247.9,1204.4 1248.3,1204.1 1248.8,1203.9 1249.2,1196.6 1249.7,1200.4 1250.1,1202.8 1250.6,1201.5 1251.0,1196.9 1251.5,1197.0 1251.9,1195.0 1252.4,1195.3 1252.8,1197.9 1253.3,1197.8 1253.7,1193.9 1254.2,1198.9 1254.6,1197.8 1255.1,1201.6 1255.5,1196.5 1256.0,1199.5 1256.4,1192.5 1256.9,1202.6 1257.3,1202.5 1257.8,1203.8 1258.2,1201.4 1258.7,1201.2 1259.1,1200.5 1259.6,1203.8 1260.0,1196.1 1260.5,1197.8 1260.9,1199.0 1261.4,1195.2 1261.8,1192.8 1262.3,1194.2 1262.7,1195.9 1263.2,1199.9 1263.6,1193.6 1264.1,1189.0 1264.5,1199.3 1265.0,1196.7 1265.4,1199.1 1265.9,1197.3 1266.3,1197.9 1266.8,1192.2 1267.2,1199.8 1267.7,1194.5 1268.1,1199.5 1268.6,1191.0 1269.0,1199.9 1269.5,1195.0 1269.9,1187.7 1270.4,1194.7 1270.8,1194.3" fill="none" stroke="#e03c3f" stroke-width="5.0" stroke-linejoin="round"/>
<path clip-path="url(#c3)" d="M198.5,1599.3 198.9,1586.1 199.4,1597.5 199.8,1595.5 200.3,1599.5 200.7,1597.6 201.2,1602.2 201.6,1597.9 202.1,1596.9 202.5,1600.2 203.0,1600.1 203.4,1598.1 203.9,1598.4 204.3,1601.0 204.8,1600.8 205.2,1597.5 205.7,1597.8 206.1,1593.9 206.6,1603.4 207.0,1598.2 207.5,1602.4 207.9,1599.8 208.4,1603.7 208.8,1602.2 209.3,1598.6 209.7,1601.4 210.2,1594.5 210.6,1600.3 211.1,1592.8 211.5,1597.6 212.0,1599.6 212.4,1597.3 212.9,1595.8 213.3,1594.7 213.8,1596.2 214.2,1600.3 214.7,1600.4 215.1,1597.8 215.6,1595.7 216.0,1601.4 216.5,1596.1 216.9,1598.8 217.4,1598.2 217.8,1601.9 218.3,1600.0 218.7,1599.9 219.2,1598.5 219.6,1594.9 220.1,1597.2 220.5,1598.7 221.0,1594.0 221.4,1595.3 221.9,1593.0 222.3,1596.1 222.8,1595.4 223.2,1596.5 223.7,1595.7 224.1,1600.0 224.6,1595.5 225.0,1596.4 225.5,1596.5 225.9,1600.5 226.4,1597.8 226.8,1598.4 227.3,1602.6 227.7,1604.3 228.2,1603.1 228.6,1594.5 229.1,1599.2 229.5,1598.8 230.0,1598.0 230.4,1599.5 230.9,1604.7 231.3,1598.0 231.8,1595.9 232.2,1599.0 232.7,1596.6 233.1,1596.4 233.6,1594.2 234.0,1596.3 234.5,1597.9 234.9,1592.1 235.4,1593.6 235.8,1601.4 236.3,1601.3 236.7,1598.1 237.2,1597.0 237.6,1599.6 238.1,1597.0 238.5,1599.5 239.0,1604.9 239.4,1600.8 239.9,1603.5 240.3,1599.6 240.8,1601.1 241.2,1603.8 241.7,1596.4 242.1,1599.0 242.6,1599.6 243.0,1600.8 243.5,1604.2 243.9,1602.0 244.4,1596.2 244.8,1599.5 245.3,1597.8 245.7,1597.7 246.2,1605.5 246.6,1597.0 247.1,1600.4 247.5,1597.8 248.0,1602.1 248.4,1600.9 248.9,1600.5 249.3,1600.3 249.8,1603.8 250.2,1598.4 250.7,1599.0 251.1,1597.9 251.6,1604.3 252.0,1599.6 252.5,1597.3 252.9,1598.8 253.4,1606.5 253.8,1599.4 254.3,1602.1 254.7,1601.1 255.2,1600.0 255.6,1598.2 256.1,1599.2 256.5,1599.1 257.0,1594.0 257.4,1606.8 257.9,1602.0 258.3,1599.6 258.8,1598.5 259.2,1596.7 259.7,1601.2 260.1,1598.0 260.6,1599.7 261.0,1594.7 261.5,1599.6 261.9,1604.3 262.4,1598.3 262.8,1601.5 263.3,1599.7 263.7,1602.8 264.2,1602.7 264.6,1599.9 265.1,1598.1 265.5,1600.2 266.0,1599.3 266.4,1597.3 266.9,1600.1 267.3,1600.0 267.8,1596.6 268.2,1599.0 268.7,1607.7 269.1,1602.5 269.6,1601.1 270.0,1608.2 270.5,1600.6 270.9,1595.5 271.4,1597.3 271.8,1598.5 272.3,1603.3 272.7,1605.1 273.2,1596.1 273.6,1604.6 274.1,1597.5 274.5,1600.8 275.0,1600.5 275.4,1599.5 275.9,1597.5 276.3,1597.2 276.8,1593.0 277.2,1596.6 277.7,1598.4 278.1,1598.3 278.6,1603.3 279.0,1599.6 279.5,1599.2 279.9,1602.3 280.4,1599.0 280.8,1595.2 281.3,1592.9 281.7,1602.6 282.2,1600.6 282.6,1601.3 283.1,1597.9 283.5,1599.5 284.0,1603.4 284.4,1598.9 284.9,1594.6 285.3,1596.0 285.8,1600.5 286.2,1593.2 286.7,1588.6 287.1,1588.9 287.6,1591.1 288.0,1596.7 288.5,1594.6 288.9,1592.4 289.4,1591.2 289.8,1594.8 290.3,1595.3 290.7,1594.9 291.2,1596.6 291.6,1595.9 292.1,1603.7 292.5,1593.0 293.0,1600.5 293.4,1597.9 293.9,1603.2 294.3,1601.0 294.8,1602.9 295.2,1603.6 295.7,1602.8 296.1,1604.9 296.6,1598.2 297.0,1604.5 297.5,1600.9 297.9,1602.2 298.4,1605.1 298.8,1603.6 299.3,1605.7 299.7,1593.8 300.2,1597.3 300.6,1602.7 301.1,1597.1 301.5,1600.0 302.0,1605.5 302.4,1603.4 302.9,1598.7 303.3,1602.8 303.8,1603.6 304.2,1602.2 304.7,1601.8 305.1,1602.5 305.6,1597.9 306.0,1602.3 306.5,1599.1 306.9,1602.5 307.4,1602.2 307.8,1598.0 308.3,1601.6 308.7,1600.2 309.2,1598.4 309.6,1599.7 310.1,1596.1 310.5,1595.3 311.0,1595.6 311.4,1594.5 311.9,1597.4 312.3,1587.3 312.8,1593.0 313.2,1588.4 313.7,1592.8 314.1,1595.4 314.6,1595.3 315.0,1598.5 315.5,1597.1 315.9,1589.0 316.4,1593.6 316.8,1601.1 317.3,1601.1 317.7,1597.1 318.2,1592.6 318.6,1603.2 319.1,1591.7 319.5,1598.8 320.0,1598.2 320.4,1599.4 320.9,1595.8 321.3,1598.2 321.8,1602.4 322.2,1598.2 322.7,1595.8 323.1,1599.6 323.6,1599.8 324.0,1599.0 324.5,1596.9 324.9,1600.2 325.4,1598.0 325.8,1594.7 326.3,1598.2 326.7,1597.3 327.2,1597.8 327.6,1592.7 328.1,1595.5 328.5,1599.2 329.0,1601.0 329.4,1600.0 329.9,1600.0 330.3,1602.2 330.8,1603.4 331.2,1606.0 331.7,1602.7 332.1,1600.0 332.6,1602.9 333.0,1596.0 333.5,1601.4 333.9,1599.7 334.4,1600.4 334.8,1601.4 335.3,1599.7 335.7,1595.0 336.2,1597.5 336.6,1595.9 337.1,1597.7 337.5,1598.6 338.0,1594.8 338.4,1599.3 338.9,1600.8 339.3,1596.3 339.8,1598.7 340.2,1592.2 340.7,1594.2 341.1,1597.7 341.6,1589.5 342.0,1592.4 342.5,1591.0 342.9,1596.6 343.4,1596.9 343.8,1592.7 344.3,1595.7 344.7,1589.2 345.2,1599.7 345.6,1599.2 346.1,1602.6 346.5,1592.9 347.0,1600.6 347.4,1598.7 347.9,1592.5 348.3,1597.6 348.8,1599.0 349.2,1601.2 349.7,1599.3 350.1,1597.1 350.6,1599.5 351.0,1597.8 351.5,1596.1 351.9,1595.0 352.4,1598.1 352.8,1598.1 353.3,1602.7 353.7,1596.6 354.2,1602.3 354.6,1599.1 355.1,1601.5 355.5,1596.0 356.0,1596.1 356.4,1597.6 356.9,1600.8 357.3,1598.7 357.8,1600.1 358.2,1598.6 358.7,1600.2 359.1,1597.6 359.6,1595.2 360.0,1597.7 360.5,1596.4 360.9,1600.8 361.4,1595.9 361.8,1596.9 362.3,1596.2 362.7,1600.5 363.2,1600.1 363.6,1599.8 364.1,1594.9 364.5,1594.3 365.0,1599.1 365.4,1600.4 365.9,1602.5 366.3,1594.1 366.8,1598.6 367.2,1594.8 367.7,1596.9 368.1,1598.9 368.6,1601.9 369.0,1597.8 369.5,1597.0 369.9,1597.8 370.4,1601.6 370.8,1604.2 371.3,1593.6 371.7,1596.6 372.2,1595.9 372.6,1599.7 373.1,1597.5 373.5,1600.1 374.0,1593.4 374.4,1596.0 374.9,1594.9 375.3,1593.3 375.8,1595.9 376.2,1593.3 376.7,1601.9 377.1,1597.3 377.6,1593.4 378.0,1594.1 378.5,1599.7 378.9,1593.6 379.4,1596.1 379.8,1595.4 380.3,1596.1 380.7,1594.5 381.2,1591.9 381.6,1590.6 382.1,1587.4 382.5,1591.7 383.0,1592.2 383.4,1591.1 383.9,1591.9 384.3,1589.4 384.8,1598.2 385.2,1591.6 385.7,1590.3 386.1,1591.4 386.6,1592.4 387.0,1594.5 387.5,1586.4 387.9,1593.6 388.4,1590.6 388.8,1591.6 389.3,1594.6 389.7,1594.0 390.2,1590.6 390.6,1592.3 391.1,1597.6 391.5,1596.6 392.0,1595.7 392.4,1593.8 392.9,1596.4 393.3,1595.1 393.8,1592.9 394.2,1591.8 394.7,1595.7 395.1,1595.3 395.6,1597.2 396.0,1592.8 396.5,1597.4 396.9,1592.8 397.4,1596.8 397.8,1595.0 398.3,1592.2 398.7,1591.4 399.2,1593.6 399.6,1593.4 400.1,1596.5 400.5,1592.5 401.0,1590.6 401.4,1594.3 401.9,1599.3 402.3,1598.6 402.8,1592.9 403.2,1593.7 403.7,1595.2 404.1,1592.8 404.6,1593.9 405.0,1594.0 405.5,1592.2 405.9,1593.5 406.4,1594.1 406.8,1596.2 407.3,1592.7 407.7,1596.1 408.2,1593.4 408.6,1593.7 409.1,1592.7 409.5,1605.5 410.0,1598.1 410.4,1598.0 410.9,1596.2 411.3,1593.2 411.8,1593.7 412.2,1594.2 412.7,1594.6 413.1,1595.2 413.6,1597.8 414.0,1586.8 414.5,1593.3 414.9,1596.9 415.4,1594.6 415.8,1595.5 416.3,1600.0 416.7,1597.0 417.2,1601.2 417.6,1596.5 418.1,1597.1 418.5,1593.5 419.0,1590.8 419.4,1594.5 419.9,1595.5 420.3,1594.3 420.8,1591.8 421.2,1597.2 421.7,1596.0 422.1,1596.2 422.6,1594.7 423.0,1601.4 423.5,1601.4 423.9,1598.8 424.4,1598.2 424.8,1599.5 425.3,1603.5 425.7,1606.5 426.2,1599.3 426.6,1598.0 427.1,1594.0 427.5,1605.3 428.0,1594.4 428.4,1598.7 428.9,1596.7 429.3,1598.0 429.8,1591.4 430.2,1588.7 430.7,1592.8 431.1,1593.1 431.6,1594.8 432.0,1587.3 432.5,1590.6 432.9,1591.2 433.4,1588.5 433.8,1591.8 434.3,1594.8 434.7,1593.1 435.2,1590.1 435.6,1595.7 436.1,1598.0 436.5,1598.0 437.0,1599.5 437.4,1593.6 437.9,1599.4 438.3,1599.7 438.8,1596.8 439.2,1597.3 439.7,1594.9 440.1,1599.9 440.6,1595.7 441.0,1594.0 441.5,1597.2 441.9,1597.3 442.4,1599.1 442.8,1595.5 443.3,1596.3 443.7,1599.4 444.2,1604.5 444.6,1600.0 445.1,1595.2 445.5,1599.1 446.0,1596.2 446.4,1592.8 446.9,1595.1 447.3,1594.7 447.8,1596.5 448.2,1598.3 448.7,1597.4 449.1,1596.3 449.6,1593.1 450.0,1594.9 450.5,1594.8 450.9,1599.1 451.4,1594.1 451.8,1594.6 452.3,1600.1 452.7,1597.7 453.2,1594.9 453.6,1596.2 454.1,1595.9 454.5,1595.9 455.0,1597.3 455.4,1596.2 455.9,1594.7 456.3,1593.9 456.8,1590.7 457.2,1594.0 457.7,1598.0 458.1,1595.4 458.6,1592.9 459.0,1593.8 459.5,1592.1 459.9,1595.0 460.4,1599.5 460.8,1599.0 461.3,1597.5 461.7,1596.6 462.2,1594.1 462.6,1591.5 463.1,1594.9 463.5,1593.7 464.0,1596.9 464.4,1595.1 464.9,1593.1 465.3,1595.7 465.8,1602.0 466.2,1592.1 466.7,1597.4 467.1,1596.0 467.6,1594.1 468.0,1592.3 468.5,1594.1 468.9,1594.3 469.4,1595.4 469.8,1595.0 470.3,1593.8 470.7,1591.1 471.2,1593.6 471.6,1591.5 472.1,1589.9 472.5,1594.7 473.0,1590.3 473.4,1588.6 473.9,1591.4 474.3,1585.7 474.8,1590.1 475.2,1591.1 475.7,1588.7 476.1,1590.4 476.6,1595.4 477.0,1593.9 477.5,1593.0 477.9,1592.6 478.4,1590.2 478.8,1591.6 479.3,1591.6 479.7,1592.7 480.2,1593.1 480.6,1591.0 481.1,1597.4 481.5,1591.0 482.0,1595.1 482.4,1597.3 482.9,1595.3 483.3,1594.4 483.8,1596.8 484.2,1602.1 484.7,1599.0 485.1,1596.6 485.6,1598.6 486.0,1596.2 486.5,1591.3 486.9,1596.1 487.4,1597.6 487.8,1597.5 488.3,1594.2 488.7,1590.9 489.2,1597.7 489.6,1594.6 490.1,1597.3 490.5,1598.7 491.0,1597.0 491.4,1596.2 491.9,1594.8 492.3,1595.0 492.8,1595.9 493.2,1594.2 493.7,1595.8 494.1,1589.5 494.6,1591.3 495.0,1593.2 495.5,1591.0 495.9,1590.9 496.4,1589.1 496.8,1593.3 497.3,1595.5 497.7,1589.0 498.2,1594.3 498.6,1587.8 499.1,1591.6 499.5,1586.2 500.0,1592.1 500.4,1590.7 500.9,1590.8 501.3,1593.3 501.8,1591.7 502.2,1590.3 502.7,1588.5 503.1,1590.7 503.6,1589.1 504.0,1589.8 504.5,1594.3 504.9,1592.7 505.4,1591.1 505.8,1591.7 506.3,1586.6 506.7,1590.3 507.2,1586.1 507.6,1588.7 508.1,1591.5 508.5,1591.8 509.0,1592.9 509.4,1591.8 509.9,1591.8 510.3,1591.9 510.8,1595.3 511.2,1595.0 511.7,1588.4 512.1,1591.8 512.6,1594.1 513.0,1590.1 513.5,1590.7 513.9,1588.3 514.4,1586.5 514.8,1589.3 515.3,1587.8 515.7,1588.2 516.2,1585.1 516.6,1585.8 517.1,1588.2 517.5,1587.5 518.0,1589.8 518.4,1586.1 518.9,1590.0 519.3,1589.6 519.8,1588.3 520.2,1589.5 520.7,1587.7 521.1,1587.3 521.6,1587.6 522.0,1584.7 522.5,1587.3 522.9,1589.0 523.4,1583.4 523.8,1588.4 524.3,1585.2 524.7,1585.7 525.2,1586.5 525.6,1586.6 526.1,1588.8 526.5,1585.1 527.0,1588.9 527.4,1584.7 527.9,1585.4 528.3,1585.6 528.8,1582.5 529.2,1581.6 529.7,1584.6 530.1,1586.2 530.6,1587.0 531.0,1584.6 531.5,1589.6 531.9,1585.5 532.4,1584.3 532.8,1588.3 533.3,1588.4 533.7,1583.5 534.2,1587.5 534.6,1582.9 535.1,1585.9 535.5,1590.9 536.0,1588.8 536.4,1587.4 536.9,1587.1 537.3,1583.6 537.8,1585.8 538.2,1585.6 538.7,1582.0 539.1,1584.4 539.6,1584.9 540.0,1584.0 540.5,1584.4 540.9,1582.9 541.4,1581.0 541.8,1583.5 542.3,1579.2 542.7,1581.6 543.2,1585.3 543.6,1586.6 544.1,1583.3 544.5,1576.9 545.0,1584.7 545.4,1582.8 545.9,1581.1 546.3,1583.2 546.8,1583.0 547.2,1579.6 547.7,1579.8 548.1,1585.3 548.6,1578.7 549.0,1585.3 549.5,1584.9 549.9,1586.4 550.4,1588.0 550.8,1586.8 551.3,1586.7 551.7,1584.6 552.2,1583.3 552.6,1583.8 553.1,1581.0 553.5,1578.8 554.0,1580.3 554.4,1577.2 554.9,1579.6 555.3,1585.4 555.8,1582.6 556.2,1581.6 556.7,1581.2 557.1,1579.1 557.6,1582.0 558.0,1581.7 558.5,1583.5 558.9,1583.8 559.4,1583.5 559.8,1579.5 560.3,1586.3 560.7,1583.9 561.2,1582.6 561.6,1581.6 562.1,1582.8 562.5,1584.2 563.0,1582.6 563.4,1578.9 563.9,1578.6 564.3,1576.2 564.8,1581.3 565.2,1582.4 565.7,1583.3 566.1,1580.9 566.6,1582.0 567.0,1578.1 567.5,1580.6 567.9,1578.9 568.4,1577.5 568.8,1575.2 569.3,1580.6 569.7,1573.7 570.2,1579.4 570.6,1576.5 571.1,1579.1 571.5,1576.8 572.0,1579.2 572.4,1577.1 572.9,1575.4 573.3,1576.4 573.8,1574.3 574.2,1578.0 574.7,1579.5 575.1,1578.3 575.6,1577.7 576.0,1579.8 576.5,1575.0 576.9,1578.1 577.4,1577.0 577.8,1576.0 578.3,1577.9 578.7,1574.8 579.2,1576.7 579.6,1577.6 580.1,1574.8 580.5,1576.4 581.0,1577.5 581.4,1577.9 581.9,1574.0 582.3,1576.9 582.8,1574.3 583.2,1574.5 583.7,1573.0 584.1,1575.0 584.6,1572.2 585.0,1573.7 585.5,1573.8 585.9,1574.3 586.4,1571.2 586.8,1574.3 587.3,1573.0 587.7,1575.5 588.2,1572.3 588.6,1571.6 589.1,1572.1 589.5,1571.1 590.0,1570.6 590.4,1567.8 590.9,1565.4 591.3,1565.4 591.8,1565.9 592.2,1566.8 592.7,1564.8 593.1,1563.2 593.6,1564.1 594.0,1564.1 594.5,1568.2 594.9,1565.6 595.4,1563.6 595.8,1560.9 596.3,1562.8 596.7,1562.6 597.2,1563.9 597.6,1566.3 598.1,1562.9 598.5,1560.0 599.0,1562.8 599.4,1560.3 599.9,1563.9 600.3,1564.0 600.8,1562.4 601.2,1559.1 601.7,1560.4 602.1,1561.8 602.6,1557.8 603.0,1557.8 603.5,1558.5 603.9,1558.5 604.4,1557.7 604.8,1558.1 605.3,1558.1 605.7,1557.2 606.2,1558.3 606.6,1559.1 607.1,1557.3 607.5,1559.2 608.0,1559.0 608.4,1559.3 608.9,1558.7 609.3,1556.3 609.8,1555.5 610.2,1557.1 610.7,1556.1 611.1,1556.0 611.6,1554.7 612.0,1553.4 612.5,1555.2 612.9,1554.5 613.4,1555.3 613.8,1555.7 614.3,1555.5 614.7,1555.2 615.2,1552.4 615.6,1550.6 616.1,1552.3 616.5,1551.3 617.0,1550.9 617.4,1553.1 617.9,1550.0 618.3,1553.0 618.8,1553.0 619.2,1554.6 619.7,1552.3 620.1,1553.2 620.6,1549.4 621.0,1548.9 621.5,1550.3 621.9,1547.1 622.4,1549.5 622.8,1547.2 623.3,1544.7 623.7,1548.6 624.2,1544.6 624.6,1548.1 625.1,1543.0 625.5,1543.0 626.0,1543.5 626.4,1542.5 626.9,1540.1 627.3,1541.2 627.8,1540.6 628.2,1540.3 628.7,1537.5 629.1,1537.9 629.6,1537.8 630.0,1538.0 630.5,1536.7 630.9,1535.4 631.4,1534.6 631.8,1535.6 632.3,1532.6 632.7,1532.8 633.2,1529.6 633.6,1532.4 634.1,1530.5 634.5,1527.8 635.0,1529.3 635.4,1529.4 635.9,1528.2 636.3,1527.0 636.8,1527.0 637.2,1525.0 637.7,1524.7 638.1,1523.9 638.6,1523.5 639.0,1521.8 639.5,1522.9 639.9,1521.0 640.4,1519.5 640.8,1519.5 641.3,1519.4 641.7,1518.5 642.2,1518.7 642.6,1517.1 643.1,1516.2 643.5,1516.5 644.0,1516.4 644.4,1514.2 644.9,1513.1 645.3,1513.2 645.8,1512.9 646.2,1511.6 646.7,1511.8 647.1,1510.5 647.6,1511.0 648.0,1508.9 648.5,1508.4 648.9,1508.4 649.4,1508.0 649.8,1507.4 650.3,1505.6 650.7,1505.2 651.2,1504.5 651.6,1504.0 652.1,1501.6 652.5,1500.2 653.0,1499.9 653.4,1498.1 653.9,1497.5 654.3,1495.3 654.8,1493.9 655.2,1491.8 655.7,1490.7 656.1,1489.5 656.6,1487.3 657.0,1485.3 657.5,1484.7 657.9,1482.6 658.4,1481.3 658.8,1479.4 659.3,1478.6 659.7,1476.4 660.2,1475.0 660.6,1473.7 661.1,1472.1 661.5,1469.8 662.0,1469.1 662.4,1466.8 662.9,1465.5 663.3,1463.4 663.8,1461.6 664.2,1459.5 664.7,1457.5 665.1,1456.1 665.6,1454.4 666.0,1452.9 666.5,1451.3 666.9,1449.5 667.4,1448.6 667.8,1447.4 668.3,1445.7 668.7,1444.1 669.2,1442.6 669.6,1441.5 670.1,1439.9 670.5,1439.2 671.0,1437.7 671.4,1436.5 671.9,1435.5 672.3,1434.1 672.8,1433.0 673.2,1432.3 673.7,1431.7 674.1,1430.5 674.6,1430.0 675.0,1428.7 675.5,1428.2 675.9,1427.4 676.4,1426.8 676.8,1425.1 677.3,1424.3 677.7,1423.0 678.2,1421.9 678.6,1420.4 679.1,1419.0 679.5,1417.3 680.0,1415.8 680.4,1414.3 680.9,1412.7 681.3,1410.8 681.8,1409.0 682.2,1407.0 682.7,1405.3 683.1,1402.7 683.6,1400.5 684.0,1398.4 684.5,1396.2 684.9,1393.9 685.4,1391.5 685.8,1389.1 686.3,1386.7 686.7,1384.3 687.2,1382.0 687.6,1379.8 688.1,1377.3 688.5,1375.0 689.0,1372.6 689.4,1370.2 689.9,1367.9 690.3,1365.6 690.8,1363.6 691.2,1361.6 691.7,1359.8 692.1,1358.2 692.6,1356.6 693.0,1355.0 693.5,1353.5 693.9,1352.0 694.4,1350.5 694.8,1349.2 695.3,1347.8 695.7,1346.4 696.2,1345.1 696.6,1343.7 697.1,1342.2 697.5,1340.8 698.0,1339.3 698.4,1337.6 698.9,1336.2 699.3,1334.8 699.8,1333.3 700.2,1332.1 700.7,1331.0 701.1,1330.0 701.6,1329.2 702.0,1328.6 702.5,1327.9 702.9,1327.4 703.4,1326.8 703.8,1326.2 704.3,1325.7 704.7,1325.2 705.2,1324.7 705.6,1324.2 706.1,1323.8 706.5,1323.4 707.0,1323.1 707.4,1322.9 707.9,1322.6 708.3,1322.4 708.8,1322.3 709.2,1322.2 709.7,1322.2 710.1,1322.3 710.6,1322.4 711.0,1322.6 711.5,1322.9 711.9,1323.2 712.4,1323.6 712.8,1324.0 713.3,1324.4 713.7,1324.9 714.2,1325.4 714.6,1326.0 715.1,1326.6 715.5,1327.2 716.0,1327.8 716.4,1328.4 716.9,1329.1 717.3,1330.0 717.8,1331.0 718.2,1332.1 718.7,1333.3 719.1,1334.7 719.6,1336.0 720.0,1337.4 720.5,1338.8 720.9,1340.2 721.4,1341.6 721.8,1342.9 722.3,1344.2 722.7,1345.5 723.2,1347.0 723.6,1348.4 724.1,1349.7 724.5,1351.2 725.0,1352.7 725.4,1354.3 725.9,1355.7 726.3,1357.2 726.8,1358.9 727.2,1360.3 727.7,1361.8 728.1,1363.6 728.6,1365.3 729.0,1367.1 729.5,1368.8 729.9,1370.5 730.4,1371.9 730.8,1373.4 731.3,1374.9 731.7,1376.8 732.2,1378.3 732.6,1379.9 733.1,1381.5 733.5,1383.2 734.0,1384.6 734.4,1386.0 734.9,1386.9 735.3,1387.8 735.8,1388.6 736.2,1389.2 736.7,1389.9 737.1,1390.4 737.6,1390.9 738.0,1391.5 738.5,1391.9 738.9,1392.4 739.4,1392.8 739.8,1393.1 740.3,1393.5 740.7,1393.9 741.2,1394.3 741.6,1394.7 742.1,1395.0 742.5,1395.4 743.0,1395.6 743.4,1396.0 743.9,1396.3 744.3,1396.5 744.8,1397.0 745.2,1397.0 745.7,1397.5 746.1,1397.9 746.6,1398.0 747.0,1398.0 747.5,1398.5 747.9,1398.6 748.4,1398.7 748.8,1399.1 749.3,1399.3 749.7,1399.5 750.2,1399.9 750.6,1400.0 751.1,1400.5 751.5,1401.0 752.0,1401.1 752.4,1401.4 752.9,1401.9 753.3,1402.6 753.8,1403.1 754.2,1403.9 754.7,1404.9 755.1,1405.4 755.6,1406.3 756.0,1407.2 756.5,1408.1 756.9,1409.2 757.4,1410.0 757.8,1411.2 758.3,1412.1 758.7,1413.2 759.2,1414.1 759.6,1415.1 760.1,1416.3 760.5,1417.1 761.0,1418.4 761.4,1419.3 761.9,1420.7 762.3,1421.6 762.8,1423.0 763.2,1423.9 763.7,1425.2 764.1,1426.2 764.6,1427.4 765.0,1428.4 765.5,1429.8 765.9,1430.8 766.4,1431.9 766.8,1432.9 767.3,1433.8 767.7,1434.9 768.2,1436.1 768.6,1436.8 769.1,1437.7 769.5,1439.1 770.0,1440.5 770.4,1441.1 770.9,1442.2 771.3,1443.2 771.8,1444.4 772.2,1445.5 772.7,1446.7 773.1,1448.3 773.6,1449.6 774.0,1450.5 774.5,1451.6 774.9,1453.0 775.4,1453.9 775.8,1455.1 776.3,1456.4 776.7,1457.5 777.2,1459.1 777.6,1460.9 778.1,1461.3 778.5,1462.8 779.0,1463.9 779.4,1465.5 779.9,1467.1 780.3,1468.8 780.8,1470.2 781.2,1471.4 781.7,1473.6 782.1,1474.9 782.6,1476.8 783.0,1478.2 783.5,1479.7 783.9,1481.3 784.4,1481.9 784.8,1484.8 785.3,1485.3 785.7,1487.4 786.2,1489.0 786.6,1490.0 787.1,1491.2 787.5,1493.7 788.0,1494.6 788.4,1496.6 788.9,1498.5 789.3,1499.5 789.8,1500.2 790.2,1502.1 790.7,1504.1 791.1,1504.5 791.6,1506.7 792.0,1506.3 792.5,1507.7 792.9,1508.2 793.4,1509.7 793.8,1512.3 794.3,1512.6 794.7,1512.8 795.2,1513.4 795.6,1515.4 796.1,1515.3 796.5,1515.4 797.0,1518.0 797.4,1516.6 797.9,1518.5 798.3,1519.6 798.8,1520.6 799.2,1522.1 799.7,1521.9 800.1,1521.3 800.6,1523.5 801.0,1523.4 801.5,1522.8 801.9,1523.5 802.4,1524.3 802.8,1523.8 803.3,1526.6 803.7,1527.4 804.2,1528.0 804.6,1527.5 805.1,1528.9 805.5,1530.9 806.0,1531.0 806.4,1531.4 806.9,1531.7 807.3,1533.3 807.8,1535.4 808.2,1535.0 808.7,1537.9 809.1,1538.7 809.6,1537.6 810.0,1535.8 810.5,1537.7 810.9,1539.8 811.4,1538.4 811.8,1538.8 812.3,1540.0 812.7,1543.2 813.2,1540.3 813.6,1539.1 814.1,1541.8 814.5,1542.3 815.0,1543.0 815.4,1542.6 815.9,1543.2 816.3,1542.6 816.8,1544.6 817.2,1543.9 817.7,1545.0 818.1,1544.0 818.6,1546.9 819.0,1546.1 819.5,1545.8 819.9,1546.9 820.4,1546.0 820.8,1547.2 821.3,1549.5 821.7,1549.8 822.2,1550.6 822.6,1551.0 823.1,1550.3 823.5,1551.3 824.0,1554.1 824.4,1552.1 824.9,1550.9 825.3,1553.3 825.8,1553.3 826.2,1554.2 826.7,1554.8 827.1,1553.7 827.6,1555.9 828.0,1555.3 828.5,1556.5 828.9,1554.9 829.4,1554.6 829.8,1555.4 830.3,1558.3 830.7,1553.7 831.2,1557.8 831.6,1556.4 832.1,1558.2 832.5,1556.3 833.0,1557.7 833.4,1558.0 833.9,1560.8 834.3,1558.0 834.8,1558.8 835.2,1557.6 835.7,1559.4 836.1,1558.1 836.6,1559.1 837.0,1559.9 837.5,1560.3 837.9,1558.2 838.4,1558.3 838.8,1561.5 839.3,1559.1 839.7,1560.4 840.2,1559.9 840.6,1558.1 841.1,1560.4 841.5,1560.6 842.0,1563.6 842.4,1558.2 842.9,1560.6 843.3,1562.7 843.8,1561.4 844.2,1559.4 844.7,1564.1 845.1,1563.7 845.6,1562.4 846.0,1562.3 846.5,1562.8 846.9,1564.1 847.4,1563.5 847.8,1562.7 848.3,1564.4 848.7,1565.6 849.2,1563.1 849.6,1566.7 850.1,1564.4 850.5,1565.5 851.0,1565.3 851.4,1565.5 851.9,1565.2 852.3,1561.2 852.8,1563.4 853.2,1566.5 853.7,1563.4 854.1,1565.3 854.6,1562.6 855.0,1564.1 855.5,1567.7 855.9,1565.6 856.4,1563.9 856.8,1564.6 857.3,1563.1 857.7,1567.2 858.2,1566.5 858.6,1568.7 859.1,1569.4 859.5,1568.2 860.0,1567.9 860.4,1568.3 860.9,1570.5 861.3,1572.2 861.8,1575.5 862.2,1572.3 862.7,1575.6 863.1,1573.6 863.6,1575.1 864.0,1578.1 864.5,1578.1 864.9,1576.6 865.4,1576.6 865.8,1580.0 866.3,1577.8 866.7,1577.7 867.2,1576.3 867.6,1582.8 868.1,1581.5 868.5,1578.9 869.0,1581.8 869.4,1578.3 869.9,1576.5 870.3,1577.9 870.8,1579.4 871.2,1574.5 871.7,1579.0 872.1,1579.1 872.6,1579.9 873.0,1578.2 873.5,1579.6 873.9,1574.4 874.4,1577.7 874.8,1579.8 875.3,1578.9 875.7,1578.2 876.2,1575.2 876.6,1577.1 877.1,1573.9 877.5,1576.6 878.0,1577.7 878.4,1576.1 878.9,1578.1 879.3,1577.3 879.8,1579.2 880.2,1577.0 880.7,1574.8 881.1,1575.8 881.6,1577.0 882.0,1578.7 882.5,1579.0 882.9,1577.5 883.4,1579.1 883.8,1577.4 884.3,1579.7 884.7,1575.6 885.2,1580.2 885.6,1578.2 886.1,1576.8 886.5,1575.6 887.0,1579.0 887.4,1577.0 887.9,1579.8 888.3,1582.4 888.8,1579.2 889.2,1579.3 889.7,1579.6 890.1,1577.1 890.6,1581.5 891.0,1576.8 891.5,1578.0 891.9,1576.9 892.4,1574.8 892.8,1578.4 893.3,1576.4 893.7,1574.4 894.2,1574.6 894.6,1572.3 895.1,1574.3 895.5,1578.5 896.0,1578.9 896.4,1575.7 896.9,1579.2 897.3,1580.4 897.8,1580.4 898.2,1581.8 898.7,1575.9 899.1,1580.5 899.6,1578.7 900.0,1582.3 900.5,1579.9 900.9,1582.0 901.4,1584.0 901.8,1579.4 902.3,1581.6 902.7,1581.7 903.2,1583.2 903.6,1580.1 904.1,1584.6 904.5,1586.6 905.0,1581.8 905.4,1582.9 905.9,1576.2 906.3,1578.7 906.8,1582.2 907.2,1581.4 907.7,1582.1 908.1,1583.5 908.6,1581.2 909.0,1580.6 909.5,1580.3 909.9,1581.5 910.4,1577.2 910.8,1584.5 911.3,1577.3 911.7,1578.6 912.2,1581.8 912.6,1583.5 913.1,1582.5 913.5,1584.0 914.0,1579.7 914.4,1578.7 914.9,1580.4 915.3,1576.4 915.8,1578.4 916.2,1578.4 916.7,1577.5 917.1,1572.6 917.6,1575.8 918.0,1572.0 918.5,1577.3 918.9,1574.5 919.4,1576.9 919.8,1577.2 920.3,1571.8 920.7,1575.9 921.2,1574.7 921.6,1576.6 922.1,1571.3 922.5,1571.4 923.0,1572.6 923.4,1571.0 923.9,1575.3 924.3,1574.4 924.8,1576.9 925.2,1578.0 925.7,1579.6 926.1,1576.2 926.6,1580.5 927.0,1580.8 927.5,1577.6 927.9,1578.2 928.4,1576.2 928.8,1580.7 929.3,1580.3 929.7,1575.4 930.2,1576.1 930.6,1576.2 931.1,1576.1 931.5,1574.1 932.0,1576.9 932.4,1571.8 932.9,1575.0 933.3,1573.6 933.8,1574.0 934.2,1572.1 934.7,1570.2 935.1,1572.4 935.6,1574.1 936.0,1571.7 936.5,1570.1 936.9,1572.9 937.4,1573.3 937.8,1571.8 938.3,1573.6 938.7,1574.8 939.2,1574.7 939.6,1576.0 940.1,1576.4 940.5,1574.0 941.0,1572.2 941.4,1570.0 941.9,1574.4 942.3,1572.7 942.8,1573.6 943.2,1570.2 943.7,1572.0 944.1,1570.6 944.6,1570.9 945.0,1570.4 945.5,1573.0 945.9,1574.5 946.4,1575.2 946.8,1574.1 947.3,1573.0 947.7,1576.6 948.2,1575.4 948.6,1574.1 949.1,1572.4 949.5,1574.2 950.0,1570.6 950.4,1569.8 950.9,1573.1 951.3,1572.4 951.8,1573.9 952.2,1570.7 952.7,1572.4 953.1,1569.9 953.6,1570.8 954.0,1571.8 954.5,1570.5 954.9,1568.5 955.4,1567.0 955.8,1568.0 956.3,1566.3 956.7,1564.6 957.2,1566.3 957.6,1564.0 958.1,1567.1 958.5,1568.1 959.0,1566.3 959.4,1569.0 959.9,1562.6 960.3,1561.8 960.8,1564.4 961.2,1561.8 961.7,1564.7 962.1,1565.7 962.6,1565.3 963.0,1565.2 963.5,1563.0 963.9,1562.8 964.4,1563.0 964.8,1562.1 965.3,1563.3 965.7,1561.0 966.2,1561.3 966.6,1560.1 967.1,1562.4 967.5,1560.9 968.0,1560.6 968.4,1559.4 968.9,1557.2 969.3,1558.7 969.8,1555.8 970.2,1558.3 970.7,1556.0 971.1,1559.0 971.6,1555.6 972.0,1555.8 972.5,1554.5 972.9,1553.1 973.4,1552.1 973.8,1550.5 974.3,1552.8 974.7,1550.7 975.2,1554.8 975.6,1551.4 976.1,1552.1 976.5,1552.6 977.0,1552.1 977.4,1553.3 977.9,1551.3 978.3,1550.2 978.8,1550.1 979.2,1551.5 979.7,1549.8 980.1,1545.7 980.6,1546.8 981.0,1544.9 981.5,1544.8 981.9,1544.2 982.4,1542.1 982.8,1541.2 983.3,1540.6 983.7,1535.5 984.2,1535.4 984.6,1533.4 985.1,1531.5 985.5,1528.7 986.0,1526.5 986.4,1522.6 986.9,1519.3 987.3,1512.8 987.8,1507.9 988.2,1500.3 988.7,1494.5 989.1,1488.4 989.6,1480.7 990.0,1473.7 990.5,1466.9 990.9,1460.7 991.4,1454.9 991.8,1449.7 992.3,1444.2 992.7,1439.4 993.2,1434.6 993.6,1430.8 994.1,1426.0 994.5,1422.2 995.0,1418.1 995.4,1414.1 995.9,1410.2 996.3,1406.6 996.8,1403.1 997.2,1399.8 997.7,1396.5 998.1,1393.6 998.6,1390.6 999.0,1388.3 999.5,1385.6 999.9,1383.7 1000.4,1381.2 1000.8,1379.0 1001.3,1377.0 1001.7,1374.9 1002.2,1372.9 1002.6,1370.8 1003.1,1368.5 1003.5,1366.3 1004.0,1364.0 1004.4,1361.8 1004.9,1359.6 1005.3,1357.3 1005.8,1355.0 1006.2,1352.8 1006.7,1350.6 1007.1,1348.3 1007.6,1346.0 1008.0,1343.8 1008.5,1341.5 1008.9,1339.4 1009.4,1337.3 1009.8,1335.3 1010.3,1333.2 1010.7,1331.3 1011.2,1329.2 1011.6,1327.0 1012.1,1324.8 1012.5,1322.3 1013.0,1319.6 1013.4,1316.7 1013.9,1313.2 1014.3,1309.0 1014.8,1304.6 1015.2,1299.8 1015.7,1294.8 1016.1,1290.0 1016.6,1285.3 1017.0,1281.0 1017.5,1276.7 1017.9,1272.5 1018.4,1268.3 1018.8,1264.1 1019.3,1260.1 1019.7,1256.2 1020.2,1252.5 1020.6,1248.7 1021.1,1244.9 1021.5,1241.1 1022.0,1237.3 1022.4,1233.5 1022.9,1229.9 1023.3,1226.3 1023.8,1222.9 1024.2,1219.8 1024.7,1216.8 1025.1,1214.2 1025.6,1211.8 1026.0,1209.8 1026.5,1207.9 1026.9,1206.0 1027.4,1204.2 1027.8,1202.4 1028.3,1200.6 1028.7,1198.9 1029.2,1197.4 1029.6,1195.9 1030.1,1194.5 1030.5,1193.3 1031.0,1192.3 1031.4,1191.4 1031.9,1190.7 1032.3,1190.3 1032.8,1190.0 1033.2,1190.0 1033.7,1190.3 1034.1,1190.8 1034.6,1191.5 1035.0,1192.5 1035.5,1193.6 1035.9,1194.8 1036.4,1196.2 1036.8,1197.7 1037.3,1199.3 1037.7,1201.0 1038.2,1202.8 1038.6,1204.6 1039.1,1206.4 1039.5,1208.2 1040.0,1210.0 1040.4,1211.8 1040.9,1213.7 1041.3,1215.6 1041.8,1217.7 1042.2,1219.9 1042.7,1222.2 1043.1,1224.7 1043.6,1227.4 1044.0,1230.3 1044.5,1233.4 1044.9,1236.7 1045.4,1240.3 1045.8,1244.2 1046.3,1248.3 1046.7,1252.8 1047.2,1259.0 1047.6,1267.7 1048.1,1276.8 1048.5,1284.1 1049.0,1289.7 1049.4,1294.9 1049.9,1299.8 1050.3,1304.2 1050.8,1308.6 1051.2,1312.7 1051.7,1316.6 1052.1,1320.4 1052.6,1324.1 1053.0,1327.9 1053.5,1331.7 1053.9,1335.3 1054.4,1338.8 1054.8,1342.3 1055.3,1345.7 1055.7,1348.9 1056.2,1352.1 1056.6,1355.3 1057.1,1358.2 1057.5,1361.2 1058.0,1363.9 1058.4,1366.6 1058.9,1369.1 1059.3,1371.6 1059.8,1373.9 1060.2,1376.2 1060.7,1378.2 1061.1,1380.4 1061.6,1382.3 1062.0,1384.4 1062.5,1386.5 1062.9,1388.6 1063.4,1390.5 1063.8,1392.8 1064.3,1394.9 1064.7,1397.4 1065.2,1400.2 1065.6,1402.9 1066.1,1405.6 1066.5,1408.7 1067.0,1411.9 1067.4,1415.2 1067.9,1418.4 1068.3,1421.2 1068.8,1424.5 1069.2,1427.6 1069.7,1430.0 1070.1,1433.1 1070.6,1435.9 1071.0,1438.3 1071.5,1440.8 1071.9,1443.1 1072.4,1445.6 1072.8,1448.1 1073.3,1450.3 1073.7,1453.0 1074.2,1455.1 1074.6,1456.7 1075.1,1459.5 1075.5,1461.4 1076.0,1463.7 1076.4,1465.3 1076.9,1467.8 1077.3,1469.3 1077.8,1471.7 1078.2,1473.2 1078.7,1474.8 1079.1,1476.1 1079.6,1477.6 1080.0,1480.2 1080.5,1481.0 1080.9,1482.6 1081.4,1484.9 1081.8,1486.3 1082.3,1488.1 1082.7,1488.8 1083.2,1489.9 1083.6,1492.0 1084.1,1494.4 1084.5,1495.2 1085.0,1496.8 1085.4,1498.1 1085.9,1499.2 1086.3,1500.4 1086.8,1501.4 1087.2,1502.8 1087.7,1504.0 1088.1,1504.6 1088.6,1506.6 1089.0,1507.5 1089.5,1508.7 1089.9,1509.9 1090.4,1512.0 1090.8,1512.6 1091.3,1514.8 1091.7,1514.6 1092.2,1516.9 1092.6,1516.6 1093.1,1519.0 1093.5,1519.7 1094.0,1520.9 1094.4,1521.6 1094.9,1523.5 1095.3,1525.1 1095.8,1524.2 1096.2,1526.6 1096.7,1527.9 1097.1,1529.3 1097.6,1530.1 1098.0,1529.8 1098.5,1532.8 1098.9,1532.2 1099.4,1534.6 1099.8,1535.4 1100.3,1535.7 1100.7,1536.5 1101.2,1538.3 1101.6,1541.2 1102.1,1541.5 1102.5,1541.2 1103.0,1543.8 1103.4,1545.9 1103.9,1547.5 1104.3,1543.9 1104.8,1547.7 1105.2,1548.6 1105.7,1547.4 1106.1,1546.8 1106.6,1551.3 1107.0,1549.7 1107.5,1548.6 1107.9,1549.7 1108.4,1552.4 1108.8,1554.7 1109.3,1553.4 1109.7,1551.5 1110.2,1554.8 1110.6,1551.3 1111.1,1555.8 1111.5,1556.4 1112.0,1558.4 1112.4,1558.1 1112.9,1559.1 1113.3,1558.5 1113.8,1558.6 1114.2,1559.9 1114.7,1563.5 1115.1,1560.7 1115.6,1562.3 1116.0,1562.4 1116.5,1564.9 1116.9,1565.4 1117.4,1568.5 1117.8,1569.5 1118.3,1568.4 1118.7,1568.5 1119.2,1567.1 1119.6,1565.2 1120.1,1568.0 1120.5,1567.9 1121.0,1566.0 1121.4,1568.2 1121.9,1569.5 1122.3,1566.5 1122.8,1569.7 1123.2,1569.2 1123.7,1567.8 1124.1,1569.2 1124.6,1570.6 1125.0,1569.4 1125.5,1569.9 1125.9,1572.7 1126.4,1571.9 1126.8,1572.3 1127.3,1570.9 1127.7,1573.5 1128.2,1575.3 1128.6,1571.3 1129.1,1570.3 1129.5,1572.0 1130.0,1573.4 1130.4,1571.9 1130.9,1570.7 1131.3,1576.7 1131.8,1572.9 1132.2,1572.2 1132.7,1568.5 1133.1,1575.4 1133.6,1571.0 1134.0,1576.3 1134.5,1575.0 1134.9,1574.5 1135.4,1573.9 1135.8,1576.3 1136.3,1573.6 1136.7,1575.6 1137.2,1574.2 1137.6,1574.8 1138.1,1578.6 1138.5,1578.1 1139.0,1574.5 1139.4,1574.9 1139.9,1576.9 1140.3,1576.7 1140.8,1577.9 1141.2,1576.0 1141.7,1574.5 1142.1,1577.8 1142.6,1575.3 1143.0,1576.7 1143.5,1573.4 1143.9,1577.8 1144.4,1575.2 1144.8,1575.1 1145.3,1575.4 1145.7,1571.6 1146.2,1576.2 1146.6,1574.0 1147.1,1573.0 1147.5,1576.2 1148.0,1579.1 1148.4,1574.6 1148.9,1579.3 1149.3,1572.0 1149.8,1577.1 1150.2,1575.3 1150.7,1576.9 1151.1,1580.6 1151.6,1577.6 1152.0,1573.3 1152.5,1579.2 1152.9,1574.4 1153.4,1575.6 1153.8,1575.3 1154.3,1577.7 1154.7,1577.5 1155.2,1581.1 1155.6,1578.7 1156.1,1579.5 1156.5,1577.9 1157.0,1580.5 1157.4,1576.2 1157.9,1575.5 1158.3,1580.1 1158.8,1579.9 1159.2,1578.5 1159.7,1582.8 1160.1,1576.6 1160.6,1581.1 1161.0,1581.2 1161.5,1575.7 1161.9,1579.1 1162.4,1579.4 1162.8,1577.6 1163.3,1577.6 1163.7,1577.7 1164.2,1576.1 1164.6,1575.1 1165.1,1579.3 1165.5,1578.1 1166.0,1577.5 1166.4,1578.3 1166.9,1575.4 1167.3,1575.5 1167.8,1578.2 1168.2,1576.6 1168.7,1577.6 1169.1,1578.9 1169.6,1580.3 1170.0,1575.2 1170.5,1576.0 1170.9,1574.3 1171.4,1575.8 1171.8,1578.0 1172.3,1576.0 1172.7,1581.2 1173.2,1576.0 1173.6,1573.3 1174.1,1574.9 1174.5,1580.5 1175.0,1574.5 1175.4,1575.8 1175.9,1574.1 1176.3,1573.4 1176.8,1577.6 1177.2,1573.0 1177.7,1571.9 1178.1,1574.1 1178.6,1574.4 1179.0,1576.7 1179.5,1576.3 1179.9,1578.6 1180.4,1576.0 1180.8,1577.5 1181.3,1577.8 1181.7,1579.1 1182.2,1575.1 1182.6,1577.1 1183.1,1572.8 1183.5,1576.7 1184.0,1576.0 1184.4,1576.7 1184.9,1581.3 1185.3,1580.2 1185.8,1575.3 1186.2,1581.4 1186.7,1580.2 1187.1,1578.0 1187.6,1577.3 1188.0,1577.0 1188.5,1577.0 1188.9,1578.1 1189.4,1576.1 1189.8,1578.2 1190.3,1575.4 1190.7,1574.4 1191.2,1575.1 1191.6,1575.7 1192.1,1575.5 1192.5,1574.3 1193.0,1571.2 1193.4,1571.1 1193.9,1570.1 1194.3,1572.4 1194.8,1574.0 1195.2,1572.7 1195.7,1572.6 1196.1,1572.1 1196.6,1572.7 1197.0,1572.5 1197.5,1576.2 1197.9,1572.3 1198.4,1573.3 1198.8,1576.1 1199.3,1574.8 1199.7,1576.8 1200.2,1574.9 1200.6,1576.6 1201.1,1576.2 1201.5,1573.4 1202.0,1576.7 1202.4,1577.9 1202.9,1574.3 1203.3,1575.3 1203.8,1576.7 1204.2,1578.4 1204.7,1576.2 1205.1,1579.8 1205.6,1574.7 1206.0,1578.7 1206.5,1573.5 1206.9,1574.3 1207.4,1572.1 1207.8,1575.0 1208.3,1573.7 1208.7,1568.9 1209.2,1566.8 1209.6,1575.1 1210.1,1570.3 1210.5,1567.6 1211.0,1568.8 1211.4,1569.5 1211.9,1573.1 1212.3,1571.0 1212.8,1570.2 1213.2,1568.3 1213.7,1571.2 1214.1,1566.9 1214.6,1572.1 1215.0,1572.0 1215.5,1569.6 1215.9,1568.0 1216.4,1569.8 1216.8,1571.0 1217.3,1575.1 1217.7,1574.7 1218.2,1570.8 1218.6,1570.7 1219.1,1569.7 1219.5,1572.9 1220.0,1571.2 1220.4,1573.4 1220.9,1572.2 1221.3,1571.1 1221.8,1570.2 1222.2,1569.1 1222.7,1572.9 1223.1,1569.6 1223.6,1573.4 1224.0,1569.5 1224.5,1568.3 1224.9,1573.1 1225.4,1572.3 1225.8,1575.0 1226.3,1573.4 1226.7,1573.1 1227.2,1574.4 1227.6,1571.4 1228.1,1573.4 1228.5,1576.2 1229.0,1572.0 1229.4,1569.8 1229.9,1571.1 1230.3,1569.6 1230.8,1570.2 1231.2,1573.5 1231.7,1568.7 1232.1,1568.2 1232.6,1571.3 1233.0,1569.9 1233.5,1570.5 1233.9,1570.0 1234.4,1571.9 1234.8,1574.3 1235.3,1573.1 1235.7,1571.5 1236.2,1571.7 1236.6,1570.8 1237.1,1570.8 1237.5,1573.9 1238.0,1573.1 1238.4,1572.9 1238.9,1572.8 1239.3,1570.7 1239.8,1571.6 1240.2,1572.3 1240.7,1574.1 1241.1,1571.6 1241.6,1571.3 1242.0,1569.8 1242.5,1572.9 1242.9,1570.8 1243.4,1571.7 1243.8,1572.1 1244.3,1570.2 1244.7,1572.1 1245.2,1573.5 1245.6,1570.0 1246.1,1570.6 1246.5,1570.0 1247.0,1571.4 1247.4,1574.7 1247.9,1571.6 1248.3,1573.1 1248.8,1571.4 1249.2,1570.4 1249.7,1571.2 1250.1,1571.6 1250.6,1570.8 1251.0,1570.8 1251.5,1570.7 1251.9,1569.0 1252.4,1572.0 1252.8,1569.4 1253.3,1567.6 1253.7,1566.1 1254.2,1567.0 1254.6,1564.6 1255.1,1563.6 1255.5,1565.1 1256.0,1568.1 1256.4,1566.1 1256.9,1567.5 1257.3,1566.4 1257.8,1569.7 1258.2,1568.8 1258.7,1569.4 1259.1,1569.6 1259.6,1571.0 1260.0,1569.5 1260.5,1570.5 1260.9,1570.7 1261.4,1569.1 1261.8,1567.1 1262.3,1570.9 1262.7,1567.8 1263.2,1566.5 1263.6,1569.7 1264.1,1569.6 1264.5,1571.5 1265.0,1571.7 1265.4,1565.8 1265.9,1568.5 1266.3,1569.8 1266.8,1567.0 1267.2,1571.1 1267.7,1569.7 1268.1,1567.9 1268.6,1568.0 1269.0,1569.3 1269.5,1572.1 1269.9,1571.6 1270.4,1565.8 1270.8,1569.2" fill="none" stroke="#505050" stroke-width="5.0" stroke-linejoin="round"/>
<rect x="198.5" y="19.2" width="1072.5" height="1643.8" fill="none" stroke="#000" stroke-width="3.5"/>
<line x1="198.5" x2="1271.0" y1="431.8" y2="431.8" stroke="#000" stroke-width="3"/>
<line x1="198.5" x2="1271.0" y1="841.5" y2="841.5" stroke="#000" stroke-width="3"/>
<line x1="198.5" x2="1271.0" y1="1252.0" y2="1252.0" stroke="#000" stroke-width="3"/>
<path d="M296.1,19.2v20.5 M296.1,431.8v-20.5 M296.1,841.5v-20.5 M296.1,1252.0v-20.5 M296.1,1663.0v-20.5 M393.8,19.2v11.0 M393.8,431.8v-11.0 M393.8,841.5v-11.0 M393.8,1252.0v-11.0 M393.8,1663.0v-11.0 M491.5,19.2v20.5 M491.5,431.8v-20.5 M491.5,841.5v-20.5 M491.5,1252.0v-20.5 M491.5,1663.0v-20.5 M589.1,19.2v11.0 M589.1,431.8v-11.0 M589.1,841.5v-11.0 M589.1,1252.0v-11.0 M589.1,1663.0v-11.0 M686.8,19.2v20.5 M686.8,431.8v-20.5 M686.8,841.5v-20.5 M686.8,1252.0v-20.5 M686.8,1663.0v-20.5 M784.4,19.2v11.0 M784.4,431.8v-11.0 M784.4,841.5v-11.0 M784.4,1252.0v-11.0 M784.4,1663.0v-11.0 M882.1,19.2v20.5 M882.1,431.8v-20.5 M882.1,841.5v-20.5 M882.1,1252.0v-20.5 M882.1,1663.0v-20.5 M979.7,19.2v11.0 M979.7,431.8v-11.0 M979.7,841.5v-11.0 M979.7,1252.0v-11.0 M979.7,1663.0v-11.0 M1077.3,19.2v20.5 M1077.3,431.8v-20.5 M1077.3,841.5v-20.5 M1077.3,1252.0v-20.5 M1077.3,1663.0v-20.5 M1175.0,19.2v11.0 M1175.0,431.8v-11.0 M1175.0,841.5v-11.0 M1175.0,1252.0v-11.0 M1175.0,1663.0v-11.0 M198.5,336.6h10.0 M1271.0,336.6h-10.0 M198.5,280.9h10.0 M1271.0,280.9h-10.0 M198.5,241.4h10.0 M1271.0,241.4h-10.0 M198.5,210.7h10.0 M1271.0,210.7h-10.0 M198.5,185.7h10.0 M1271.0,185.7h-10.0 M198.5,164.5h10.0 M1271.0,164.5h-10.0 M198.5,146.2h10.0 M1271.0,146.2h-10.0 M198.5,130.0h10.0 M1271.0,130.0h-10.0 M198.5,115.5h20.5 M1271.0,115.5h-20.5 M198.5,20.3h10.0 M1271.0,20.3h-10.0 M198.5,789.7h10.0 M1271.0,789.7h-10.0 M198.5,758.1h10.0 M1271.0,758.1h-10.0 M198.5,735.7h10.0 M1271.0,735.7h-10.0 M198.5,718.3h10.0 M1271.0,718.3h-10.0 M198.5,704.0h10.0 M1271.0,704.0h-10.0 M198.5,692.0h10.0 M1271.0,692.0h-10.0 M198.5,681.6h10.0 M1271.0,681.6h-10.0 M198.5,672.4h10.0 M1271.0,672.4h-10.0 M198.5,664.2h20.5 M1271.0,664.2h-20.5 M198.5,610.1h10.0 M1271.0,610.1h-10.0 M198.5,578.5h10.0 M1271.0,578.5h-10.0 M198.5,556.1h10.0 M1271.0,556.1h-10.0 M198.5,538.7h10.0 M1271.0,538.7h-10.0 M198.5,524.4h10.0 M1271.0,524.4h-10.0 M198.5,512.4h10.0 M1271.0,512.4h-10.0 M198.5,502.0h10.0 M1271.0,502.0h-10.0 M198.5,492.8h10.0 M1271.0,492.8h-10.0 M198.5,484.6h20.5 M1271.0,484.6h-20.5 M198.5,1200.3h10.0 M1271.0,1200.3h-10.0 M198.5,1168.7h10.0 M1271.0,1168.7h-10.0 M198.5,1146.2h10.0 M1271.0,1146.2h-10.0 M198.5,1128.8h10.0 M1271.0,1128.8h-10.0 M198.5,1114.5h10.0 M1271.0,1114.5h-10.0 M198.5,1102.5h10.0 M1271.0,1102.5h-10.0 M198.5,1092.0h10.0 M1271.0,1092.0h-10.0 M198.5,1082.8h10.0 M1271.0,1082.8h-10.0 M198.5,1074.6h20.5 M1271.0,1074.6h-20.5 M198.5,1020.4h10.0 M1271.0,1020.4h-10.0 M198.5,988.8h10.0 M1271.0,988.8h-10.0 M198.5,966.3h10.0 M1271.0,966.3h-10.0 M198.5,948.9h10.0 M1271.0,948.9h-10.0 M198.5,934.6h10.0 M1271.0,934.6h-10.0 M198.5,922.6h10.0 M1271.0,922.6h-10.0 M198.5,912.1h10.0 M1271.0,912.1h-10.0 M198.5,902.9h10.0 M1271.0,902.9h-10.0 M198.5,894.7h20.5 M1271.0,894.7h-20.5 M198.5,1609.4h10.0 M1271.0,1609.4h-10.0 M198.5,1577.9h10.0 M1271.0,1577.9h-10.0 M198.5,1555.6h10.0 M1271.0,1555.6h-10.0 M198.5,1538.3h10.0 M1271.0,1538.3h-10.0 M198.5,1524.2h10.0 M1271.0,1524.2h-10.0 M198.5,1512.2h10.0 M1271.0,1512.2h-10.0 M198.5,1501.9h10.0 M1271.0,1501.9h-10.0 M198.5,1492.8h10.0 M1271.0,1492.8h-10.0 M198.5,1484.6h20.5 M1271.0,1484.6h-20.5 M198.5,1430.9h10.0 M1271.0,1430.9h-10.0 M198.5,1399.4h10.0 M1271.0,1399.4h-10.0 M198.5,1377.1h10.0 M1271.0,1377.1h-10.0 M198.5,1359.8h10.0 M1271.0,1359.8h-10.0 M198.5,1345.7h10.0 M1271.0,1345.7h-10.0 M198.5,1333.7h10.0 M1271.0,1333.7h-10.0 M198.5,1323.4h10.0 M1271.0,1323.4h-10.0 M198.5,1314.3h10.0 M1271.0,1314.3h-10.0 M198.5,1306.1h20.5 M1271.0,1306.1h-20.5" stroke="#000" stroke-width="3" fill="none"/>
<line x1="203.5" x2="331.4" y1="59.3" y2="59.3" stroke="#55977a" stroke-width="4.6"/>
<text x="343.5" y="75.7" font-size="56">3.5 sccm</text>
<line x1="203.5" x2="331.4" y1="469.5" y2="469.5" stroke="#3a6fb5" stroke-width="4.6"/>
<text x="343.5" y="486.3" font-size="56">3.0 sccm</text>
<line x1="203.5" x2="331.4" y1="879.5" y2="879.5" stroke="#cc4a4e" stroke-width="4.6"/>
<text x="343.5" y="897.8" font-size="56">2.5 sccm</text>
<line x1="203.5" x2="331.4" y1="1291.4" y2="1291.4" stroke="#575757" stroke-width="4.6"/>
<text x="343.5" y="1308.5" font-size="56">2.0 sccm</text>
<text y="448.1" font-size="49"><tspan x="105" font-size="45.4" stroke="#111" stroke-width="0.4" textLength="37.5" lengthAdjust="spacingAndGlyphs" style="font-family:NanumGothic,'Liberation Sans',sans-serif">1</tspan><tspan x="132.8" textLength="29.9" lengthAdjust="spacingAndGlyphs">0</tspan><tspan x="159.4" y="430.3" font-size="32.4" textLength="19.3" lengthAdjust="spacingAndGlyphs">2</tspan></text>
<text y="132.3" font-size="49"><tspan x="105" font-size="45.4" stroke="#111" stroke-width="0.4" textLength="37.5" lengthAdjust="spacingAndGlyphs" style="font-family:NanumGothic,'Liberation Sans',sans-serif">1</tspan><tspan x="132.8" textLength="29.9" lengthAdjust="spacingAndGlyphs">0</tspan><tspan x="159.4" y="114.5" font-size="32.4" textLength="19.3" lengthAdjust="spacingAndGlyphs">3</tspan></text>
<text y="857.8" font-size="49"><tspan x="105" font-size="45.4" stroke="#111" stroke-width="0.4" textLength="37.5" lengthAdjust="spacingAndGlyphs" style="font-family:NanumGothic,'Liberation Sans',sans-serif">1</tspan><tspan x="132.8" textLength="29.9" lengthAdjust="spacingAndGlyphs">0</tspan><tspan x="159.4" y="840.0" font-size="32.4" textLength="19.3" lengthAdjust="spacingAndGlyphs">2</tspan></text>
<text y="681.0" font-size="49"><tspan x="105" font-size="45.4" stroke="#111" stroke-width="0.4" textLength="37.5" lengthAdjust="spacingAndGlyphs" style="font-family:NanumGothic,'Liberation Sans',sans-serif">1</tspan><tspan x="132.8" textLength="29.9" lengthAdjust="spacingAndGlyphs">0</tspan><tspan x="159.4" y="663.2" font-size="32.4" textLength="19.3" lengthAdjust="spacingAndGlyphs">3</tspan></text>
<text y="501.4" font-size="49"><tspan x="105" font-size="45.4" stroke="#111" stroke-width="0.4" textLength="37.5" lengthAdjust="spacingAndGlyphs" style="font-family:NanumGothic,'Liberation Sans',sans-serif">1</tspan><tspan x="132.8" textLength="29.9" lengthAdjust="spacingAndGlyphs">0</tspan><tspan x="159.4" y="483.6" font-size="32.4" textLength="19.3" lengthAdjust="spacingAndGlyphs">4</tspan></text>
<text y="1268.3" font-size="49"><tspan x="105" font-size="45.4" stroke="#111" stroke-width="0.4" textLength="37.5" lengthAdjust="spacingAndGlyphs" style="font-family:NanumGothic,'Liberation Sans',sans-serif">1</tspan><tspan x="132.8" textLength="29.9" lengthAdjust="spacingAndGlyphs">0</tspan><tspan x="159.4" y="1250.5" font-size="32.4" textLength="19.3" lengthAdjust="spacingAndGlyphs">2</tspan></text>
<text y="1091.4" font-size="49"><tspan x="105" font-size="45.4" stroke="#111" stroke-width="0.4" textLength="37.5" lengthAdjust="spacingAndGlyphs" style="font-family:NanumGothic,'Liberation Sans',sans-serif">1</tspan><tspan x="132.8" textLength="29.9" lengthAdjust="spacingAndGlyphs">0</tspan><tspan x="159.4" y="1073.6" font-size="32.4" textLength="19.3" lengthAdjust="spacingAndGlyphs">3</tspan></text>
<text y="911.5" font-size="49"><tspan x="105" font-size="45.4" stroke="#111" stroke-width="0.4" textLength="37.5" lengthAdjust="spacingAndGlyphs" style="font-family:NanumGothic,'Liberation Sans',sans-serif">1</tspan><tspan x="132.8" textLength="29.9" lengthAdjust="spacingAndGlyphs">0</tspan><tspan x="159.4" y="893.7" font-size="32.4" textLength="19.3" lengthAdjust="spacingAndGlyphs">4</tspan></text>
<text y="1679.3" font-size="49"><tspan x="105" font-size="45.4" stroke="#111" stroke-width="0.4" textLength="37.5" lengthAdjust="spacingAndGlyphs" style="font-family:NanumGothic,'Liberation Sans',sans-serif">1</tspan><tspan x="132.8" textLength="29.9" lengthAdjust="spacingAndGlyphs">0</tspan><tspan x="159.4" y="1661.5" font-size="32.4" textLength="19.3" lengthAdjust="spacingAndGlyphs">2</tspan></text>
<text y="1501.4" font-size="49"><tspan x="105" font-size="45.4" stroke="#111" stroke-width="0.4" textLength="37.5" lengthAdjust="spacingAndGlyphs" style="font-family:NanumGothic,'Liberation Sans',sans-serif">1</tspan><tspan x="132.8" textLength="29.9" lengthAdjust="spacingAndGlyphs">0</tspan><tspan x="159.4" y="1483.6" font-size="32.4" textLength="19.3" lengthAdjust="spacingAndGlyphs">3</tspan></text>
<text y="1322.9" font-size="49"><tspan x="105" font-size="45.4" stroke="#111" stroke-width="0.4" textLength="37.5" lengthAdjust="spacingAndGlyphs" style="font-family:NanumGothic,'Liberation Sans',sans-serif">1</tspan><tspan x="132.8" textLength="29.9" lengthAdjust="spacingAndGlyphs">0</tspan><tspan x="159.4" y="1305.1" font-size="32.4" textLength="19.3" lengthAdjust="spacingAndGlyphs">4</tspan></text>
<text x="297.6" y="1732" font-size="64" text-anchor="middle">34</text>
<text x="493.0" y="1732" font-size="64" text-anchor="middle">35</text>
<text x="688.2" y="1732" font-size="64" text-anchor="middle">36</text>
<text x="883.6" y="1732" font-size="64" text-anchor="middle">37</text>
<text x="1078.8" y="1732" font-size="64" text-anchor="middle">38</text>
<text x="1274.2" y="1732" font-size="64" text-anchor="middle">39</text>
<text y="1819.9" font-size="62"><tspan x="660.2" font-size="63.5" textLength="40.98" lengthAdjust="spacingAndGlyphs">2</tspan><tspan x="694.3" y="1818.9" font-size="60.6" textLength="35.13" lengthAdjust="spacingAndGlyphs" style="font-family:'Liberation Serif',serif">&#952;</tspan><tspan x="725" y="1819.9"> (</tspan><tspan x="760.6" y="1825.3" font-size="66" textLength="30.9" lengthAdjust="spacingAndGlyphs">&#176;</tspan><tspan x="790.3" y="1819.9">)</tspan></text>
<text transform="translate(74.7,811) rotate(-90)" font-size="59.5" text-anchor="middle">Counts (a. u.)</text>
</svg></body></html>
